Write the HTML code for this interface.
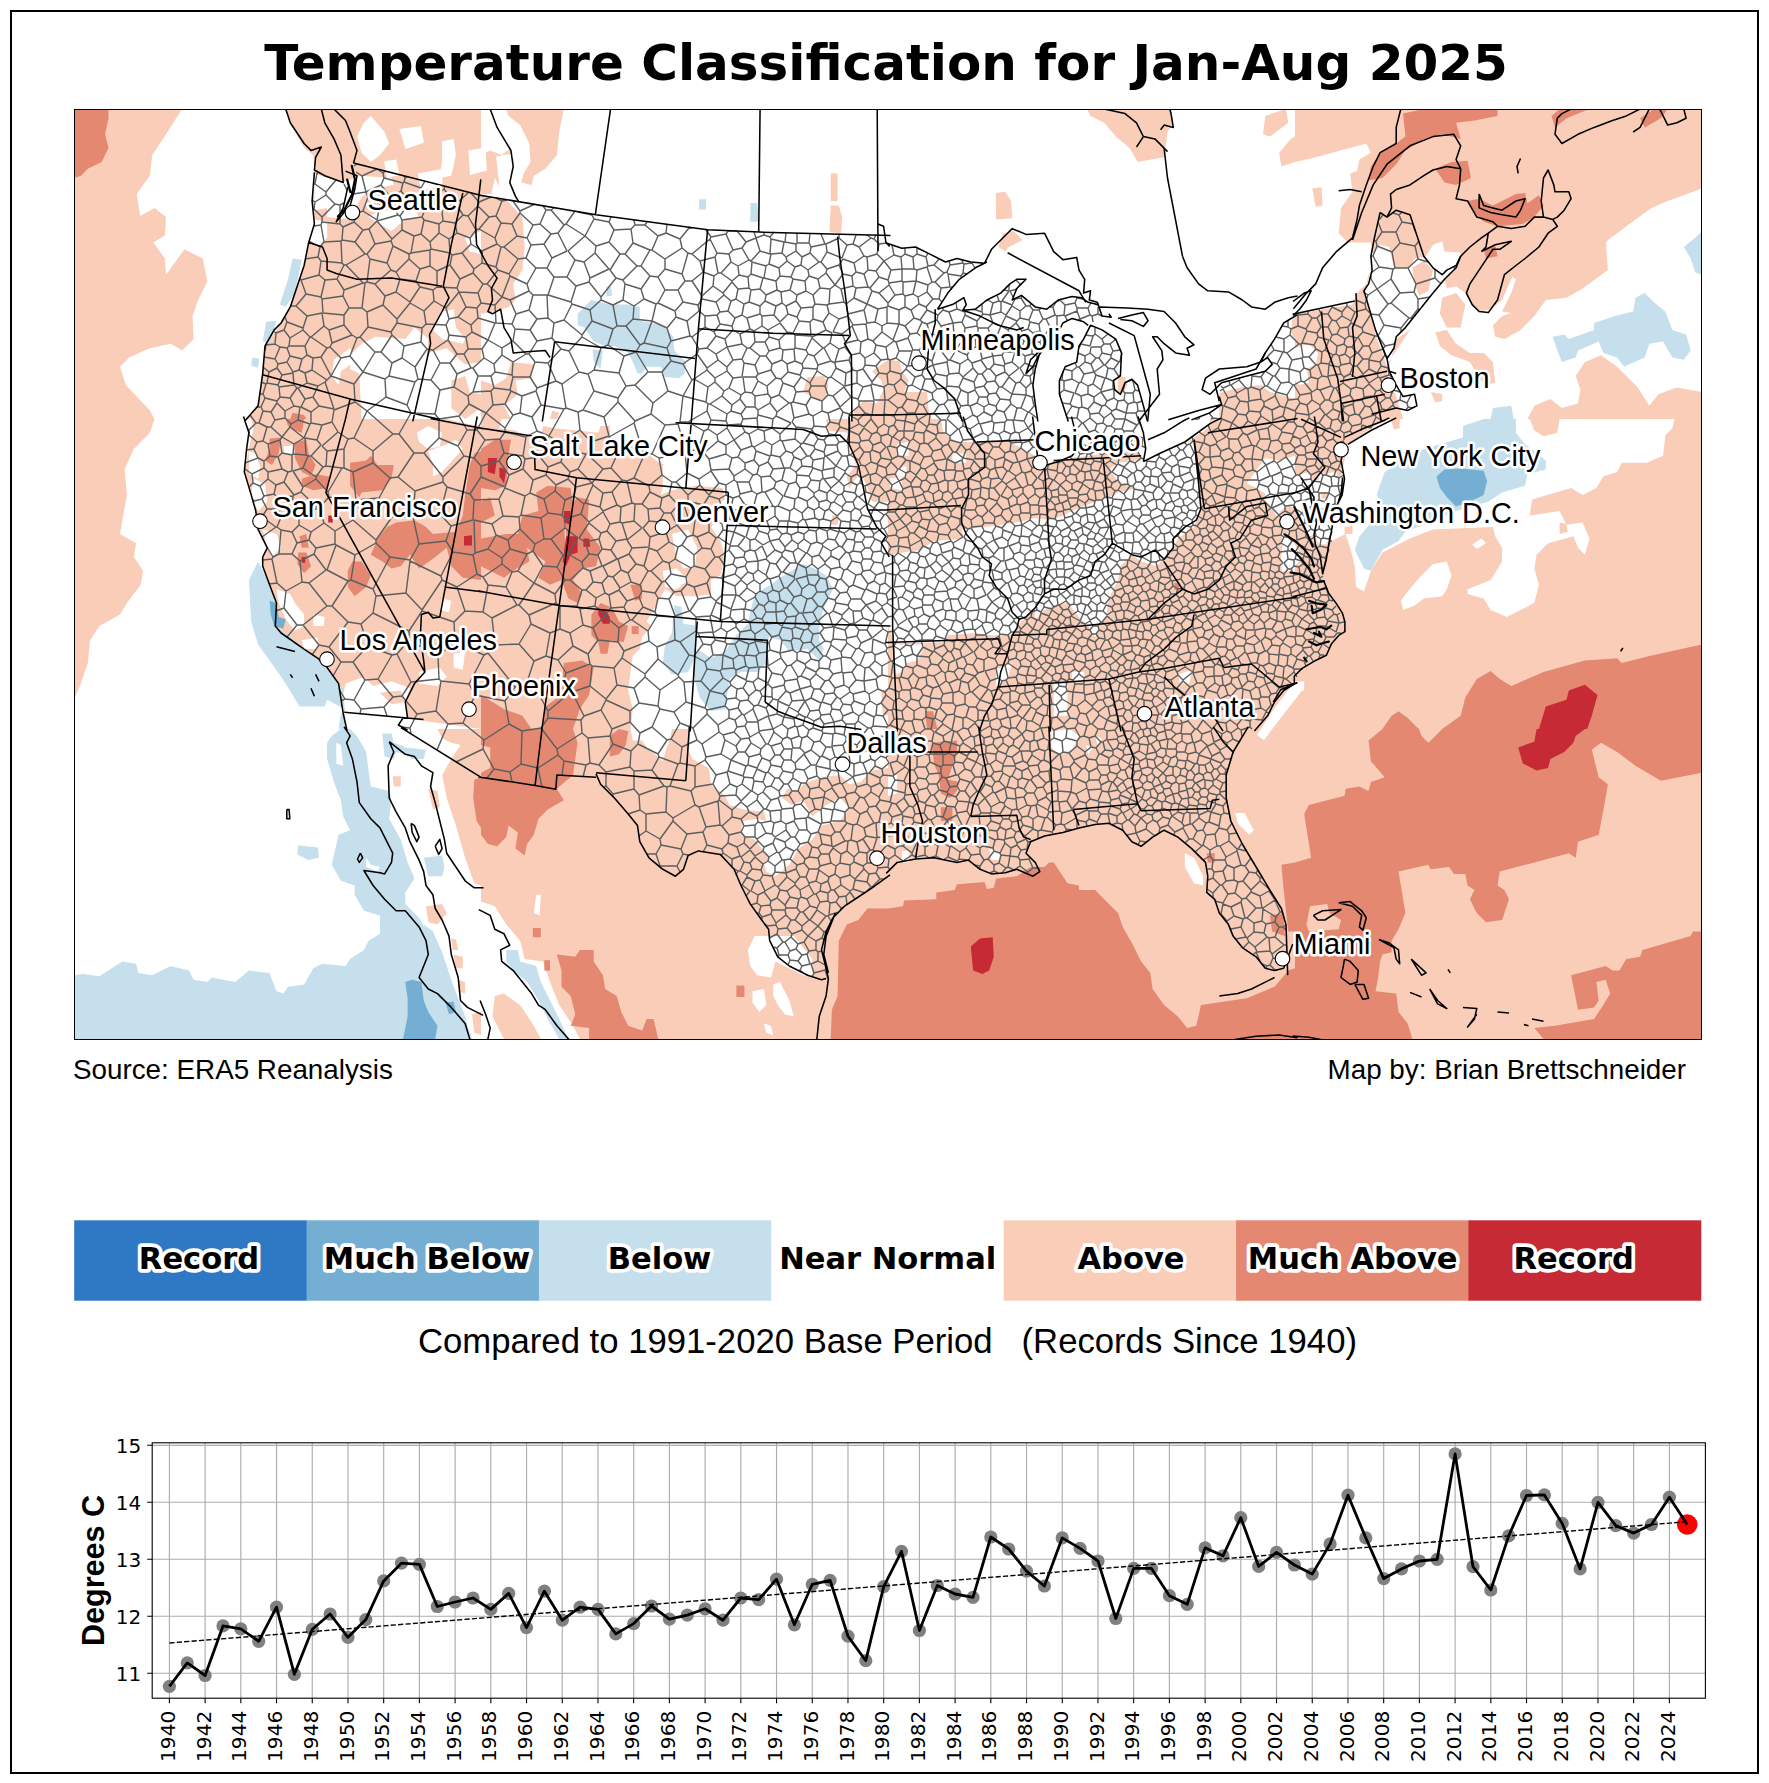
<!DOCTYPE html>
<html lang="en"><head><meta charset="utf-8"><title>Temperature Classification for Jan-Aug 2025</title>
<style>
html,body{margin:0;padding:0;background:#fff;}
svg{display:block}
.t{font-family:"DejaVu Sans","Liberation Sans",sans-serif;font-weight:bold}
.a{font-family:"Liberation Sans",Arial,sans-serif}
.d{font-family:"DejaVu Sans","Liberation Sans",sans-serif}
.city{font-family:"Liberation Sans",Arial,sans-serif;font-size:28.9px;paint-order:stroke;stroke:#fff;stroke-width:5px;stroke-linejoin:round;fill:#000}
.lg{font-family:"DejaVu Sans","Liberation Sans",sans-serif;font-weight:bold;font-size:30.56px;paint-order:stroke;stroke:#fff;stroke-width:7.5px;stroke-linejoin:round;fill:#000;text-anchor:middle}
</style></head><body>
<svg width="1769" height="1783" viewBox="0 0 1769 1783">
<rect x="0" y="0" width="1769" height="1783" fill="#fff"/>

<defs><clipPath id="mapclip"><rect x="74" y="109" width="1627.5" height="930.5"/></clipPath>
<clipPath id="tc0"><rect x="74.0" y="109.0" width="407.0" height="310.0"/></clipPath>
<clipPath id="tc1"><rect x="481.0" y="109.0" width="407.0" height="310.0"/></clipPath>
<clipPath id="tc2"><rect x="888.0" y="109.0" width="407.0" height="310.0"/></clipPath>
<clipPath id="tc3"><rect x="1295.0" y="109.0" width="407.0" height="310.0"/></clipPath>
<clipPath id="tc4"><rect x="74.0" y="419.0" width="407.0" height="310.0"/></clipPath>
<clipPath id="tc5"><rect x="481.0" y="419.0" width="407.0" height="310.0"/></clipPath>
<clipPath id="tc6"><rect x="888.0" y="419.0" width="407.0" height="310.0"/></clipPath>
<clipPath id="tc7"><rect x="1295.0" y="419.0" width="407.0" height="310.0"/></clipPath>
<clipPath id="tc8"><rect x="74.0" y="729.0" width="407.0" height="310.0"/></clipPath>
<clipPath id="tc9"><rect x="481.0" y="729.0" width="407.0" height="310.0"/></clipPath>
<clipPath id="tc10"><rect x="888.0" y="729.0" width="407.0" height="310.0"/></clipPath>
<clipPath id="tc11"><rect x="1295.0" y="729.0" width="407.0" height="310.0"/></clipPath>
<clipPath id="tc12"><rect x="0.0" y="0.0" width="1769.0" height="1783.0"/></clipPath>
<clipPath id="tc13"><rect x="1240.0" y="480.0" width="160.0" height="220.0"/></clipPath>
<clipPath id="tc14"><rect x="74.0" y="109.0" width="543.0" height="465.0"/></clipPath>
</defs>
<g clip-path="url(#mapclip)">
<g clip-path="url(#tc0)">
<rect x="73.0" y="108.0" width="409.0" height="312.0" fill="#f9cdb8"/>
<polygon points="74.0,109.0 108.5,109.0 108.5,118.2 105.1,134.3 108.5,148.1 101.6,161.9 87.8,168.8 80.9,175.7 74.0,178.0" fill="#e48872"/>
<polygon points="182.1,109.0 166.0,134.3 152.2,155.0 149.9,175.7 136.6,194.1 140.3,216.0 154.5,207.9 166.0,217.1 164.9,235.5 153.4,242.4 164.9,258.5 166.0,274.7 184.4,249.3 202.8,258.5 207.4,281.6 198.2,300.0 192.5,316.1 193.6,339.1 182.1,350.6 170.6,343.7 149.9,348.3 129.2,357.5 120.0,366.7 125.8,385.1 149.9,410.4 154.5,418.9 246.6,418.9 258.1,405.8 262.7,375.9 265.0,346.0 281.1,323.0 290.3,306.9 304.1,265.5 308.7,242.4 314.4,224.0 312.1,201.0 314.4,172.3 313.3,155.0 304.1,148.1 290.3,122.8 285.7,109.0" fill="#ffffff"/>
<polygon points="314.4,173.4 343.2,182.6 359.3,175.7 391.5,178.0 393.8,184.9 368.5,189.5 359.3,201.0 350.1,219.4 327.1,217.1 327.1,207.9 314.4,210.2" fill="#ffffff"/>
<polygon points="368.5,217.1 380.0,210.2 414.5,210.2 419.1,217.1 405.3,219.4 391.5,230.9 380.0,224.0" fill="#ffffff"/>
<polygon points="314.4,219.4 327.1,221.7 327.1,237.8 317.9,247.0 308.7,242.4" fill="#ffffff"/>
<polygon points="363.9,122.8 370.8,115.9 384.6,132.0 389.2,143.5 380.0,155.0 370.8,161.9 361.6,152.7 357.0,136.6" fill="#ffffff"/>
<polygon points="442.1,141.2 453.6,138.9 455.9,155.0 451.3,175.7 439.8,178.0 442.1,159.6" fill="#ffffff"/>
<polygon points="375.4,336.8 405.3,339.1 414.5,327.6 428.3,339.1 426.0,362.1 419.1,385.1 414.5,418.9 361.6,418.9 359.3,373.6 350.1,369.0 352.4,352.9 361.6,343.7" fill="#ffffff"/>
<polygon points="350.1,348.3 354.7,362.1 340.9,371.3 338.6,385.1 331.7,375.9 334.0,359.8" fill="#ffffff"/>
<polygon points="442.1,311.5 453.6,309.2 455.9,327.6 465.1,339.1 462.8,343.7 442.1,339.1 432.9,329.9" fill="#ffffff"/>
<polygon points="465.1,237.8 481.0,230.9 481.0,253.9 469.7,251.6" fill="#ffffff"/>
<polygon points="428.3,352.9 446.7,348.3 465.1,364.4 481.0,362.1 481.0,418.9 414.5,418.9 419.1,385.1" fill="#ffffff"/>
<polygon points="451.3,380.5 465.1,375.9 469.7,392.0 481.0,394.3 481.0,408.1 465.1,418.9 451.3,408.1" fill="#f9cdb8"/>
<polygon points="292.6,258.5 301.8,259.7 294.9,293.1 285.7,306.9 279.9,304.6 288.0,279.3" fill="#c6dfec"/>
<polygon points="266.1,321.8 276.5,320.7 269.6,343.7 262.7,341.4" fill="#c6dfec"/>
<polygon points="252.3,357.5 259.2,358.6 258.1,367.8 251.2,365.5" fill="#c6dfec"/>
<polygon points="292.6,412.7 304.1,415.0 306.4,418.9 290.3,418.9" fill="#e48872"/>
</g>
<g clip-path="url(#tc1)">
<rect x="480.0" y="108.0" width="409.0" height="312.0" fill="#ffffff"/>
<polygon points="506.3,109.0 563.8,109.0 559.2,132.0 556.9,155.0 545.4,168.8 533.9,175.7 531.6,184.9 521.3,182.6 523.6,173.4 530.5,161.9 529.3,143.5 520.1,125.1 508.6,115.9" fill="#f9cdb8"/>
<polygon points="481.0,155.0 490.2,150.4 501.7,155.0 510.9,148.1 514.4,161.9 508.6,178.0 513.2,194.1 504.0,195.3 494.8,178.0 491.4,194.1 481.0,194.1" fill="#f9cdb8"/>
<polygon points="481.0,196.4 504.0,197.6 522.4,217.1 524.7,247.0 522.4,270.1 513.2,283.9 515.5,300.0 508.6,306.9 494.8,311.5 481.0,313.8" fill="#f9cdb8"/>
<polygon points="510.9,362.1 533.9,364.4 531.6,378.2 515.5,380.5 517.8,394.3 504.0,405.8 510.9,418.9 481.0,418.9 481.0,380.5 494.8,385.1 506.3,378.2" fill="#f9cdb8"/>
<polygon points="552.3,410.4 559.2,412.7 556.9,418.9 550.0,418.9" fill="#f9cdb8"/>
<polygon points="830.7,173.4 837.6,173.4 837.6,201.0 830.7,201.0" fill="#f9cdb8"/>
<polygon points="830.7,205.6 838.8,205.6 842.2,217.1 841.1,233.2 829.6,232.1" fill="#f9cdb8"/>
<polygon points="807.7,377.0 823.8,375.9 828.4,385.1 826.1,396.6 819.2,401.2 812.3,396.6 803.1,392.0" fill="#f9cdb8"/>
<polygon points="872.1,371.3 888.0,359.8 888.0,418.9 853.7,418.9 853.7,410.4 862.9,401.2 876.7,403.5 883.6,389.7 881.3,380.5" fill="#f9cdb8"/>
<polygon points="577.6,313.8 591.4,300.0 609.8,304.6 628.2,304.6 639.8,306.9 639.8,320.7 662.8,325.3 673.1,336.8 674.3,350.6 685.8,362.1 684.6,373.6 678.9,378.2 665.1,377.0 660.5,366.7 646.7,366.7 642.1,373.6 637.5,373.6 632.8,362.1 628.2,352.9 614.4,346.0 605.2,346.0 593.7,341.4 584.5,327.6 577.6,325.3" fill="#c6dfec"/>
<polygon points="592.6,349.4 602.9,350.6 600.6,369.0 593.7,362.1" fill="#c6dfec"/>
<polygon points="606.4,286.2 611.0,287.3 612.1,295.4 606.4,296.5" fill="#c6dfec"/>
<polygon points="699.1,199.2 706.0,199.2 706.0,209.5 699.1,209.5" fill="#c6dfec"/>
<polygon points="750.6,202.9 757.1,202.9 759.4,221.7 750.2,221.7" fill="#c6dfec"/>
</g>
<g clip-path="url(#tc2)">
<rect x="887.0" y="108.0" width="409.0" height="312.0" fill="#ffffff"/>
<polygon points="1087.0,109.0 1171.0,109.0 1173.3,122.8 1167.5,132.0 1164.1,157.3 1137.6,161.9 1129.6,148.1 1115.8,136.6 1104.3,122.8 1090.5,115.9" fill="#f9cdb8"/>
<polygon points="1265.3,115.9 1279.1,111.3 1286.0,109.0 1288.3,122.8 1269.9,136.6 1263.0,134.3" fill="#f9cdb8"/>
<polygon points="1279.1,152.7 1290.6,138.9 1295.0,136.6 1295.0,161.9 1281.4,166.5" fill="#f9cdb8"/>
<polygon points="995.7,193.0 1005.3,191.8 1011.1,201.0 1012.2,218.3 996.1,219.4" fill="#f9cdb8"/>
<polygon points="1003.0,233.2 1013.4,230.9 1022.6,240.1 1008.8,247.0 1005.3,251.6 998.4,247.0" fill="#f9cdb8"/>
<polygon points="888.0,359.8 899.5,360.9 901.8,371.3 908.7,380.5 904.1,392.0 927.1,392.0 928.3,408.1 931.7,418.9 888.0,418.9" fill="#f9cdb8"/>
<polygon points="1118.1,375.9 1125.0,377.0 1127.3,385.1 1122.7,394.3 1118.1,392.0" fill="#f9cdb8"/>
<polygon points="1219.3,393.1 1240.0,387.4 1260.7,385.1 1269.9,392.0 1295.0,398.9 1295.0,418.9 1219.3,418.9" fill="#f9cdb8"/>
<polygon points="1291.8,320.7 1295.0,316.1 1295.0,339.1 1291.8,334.5" fill="#f9cdb8"/>
</g>
<g clip-path="url(#tc3)">
<rect x="1294.0" y="108.0" width="409.0" height="312.0" fill="#f9cdb8"/>
<polygon points="1295.0,161.9 1315.7,157.3 1366.3,143.5 1370.9,152.7 1359.4,159.6 1357.1,171.1 1350.2,173.4 1352.5,191.8 1341.0,207.9 1338.7,233.2 1347.9,242.4 1370.9,242.4 1373.2,256.2 1366.3,283.9 1357.1,293.1 1352.5,304.6 1295.0,313.8" fill="#ffffff"/>
<polygon points="1312.3,188.4 1321.5,187.2 1322.6,205.6 1315.7,206.8" fill="#f9cdb8"/>
<polygon points="1372.1,256.2 1380.1,244.7 1389.3,247.0 1393.9,267.8 1410.0,267.8 1414.6,258.5 1426.1,256.2 1433.0,244.7 1442.2,241.3 1444.5,251.6 1460.7,252.8 1456.1,267.8 1444.5,279.3 1446.8,288.5 1435.3,302.3 1423.8,316.1 1410.0,329.9 1396.2,339.1 1391.6,357.5 1387.0,366.7 1382.4,352.9 1375.5,334.5 1370.9,311.5 1364.0,293.1 1368.6,279.3" fill="#ffffff"/>
<polygon points="1412.3,267.8 1423.8,260.8 1433.0,270.1 1428.4,290.8 1419.2,295.4 1414.6,283.9" fill="#f9cdb8"/>
<polygon points="1391.6,357.5 1410.0,329.9 1435.3,302.3 1446.8,288.5 1456.1,286.2 1465.3,293.1 1472.2,304.6 1479.1,311.5 1490.6,309.2 1502.1,300.0 1509.0,283.9 1512.4,277.0 1515.9,279.3 1511.3,293.1 1502.1,311.5 1515.9,313.8 1525.1,306.9 1538.9,293.1 1561.9,281.6 1594.1,263.2 1607.9,240.1 1635.5,219.4 1651.6,207.9 1667.7,201.0 1702.0,188.4 1702.0,418.9 1403.1,418.9 1396.2,396.6 1387.0,373.6" fill="#ffffff"/>
<polygon points="1442.2,297.7 1456.1,293.1 1465.3,304.6 1460.7,327.6 1446.8,327.6 1439.9,313.8" fill="#f9cdb8"/>
<polygon points="1435.3,332.2 1446.8,329.9 1456.1,343.7 1469.9,352.9 1483.7,352.9 1492.9,362.1 1495.2,382.8 1483.7,385.1 1469.9,362.1 1451.5,355.2 1439.9,346.0" fill="#f9cdb8"/>
<polygon points="1492.9,325.3 1502.1,316.1 1515.9,311.5 1534.3,293.1 1559.6,279.3 1591.8,260.8 1605.6,237.8 1607.9,270.1 1582.6,288.5 1566.5,297.7 1545.8,300.0 1534.3,316.1 1520.5,329.9 1504.4,339.1 1495.2,336.8" fill="#f9cdb8"/>
<polygon points="1575.7,375.9 1584.9,362.1 1601.0,355.2 1617.1,366.7 1637.8,387.4 1649.3,405.8 1658.5,394.3 1676.9,387.4 1702.0,392.0 1702.0,418.9 1527.4,418.9 1534.3,405.8 1550.4,398.9 1561.9,408.1 1578.0,403.5 1580.3,389.7" fill="#f9cdb8"/>
<polygon points="1430.7,392.0 1442.2,394.3 1442.2,401.2 1435.3,402.3" fill="#f9cdb8"/>
<polygon points="1552.7,336.8 1564.2,334.5 1568.8,339.1 1594.1,329.9 1594.1,323.0 1614.8,316.1 1633.2,311.5 1635.5,297.7 1644.7,293.1 1653.9,302.3 1665.4,311.5 1672.3,329.9 1686.1,334.5 1690.7,350.6 1683.8,359.8 1672.3,357.5 1663.1,341.4 1649.3,343.7 1644.7,357.5 1624.0,366.7 1617.1,357.5 1603.3,352.9 1598.7,341.4 1578.0,350.6 1575.7,357.5 1561.9,362.1 1557.3,350.6" fill="#c6dfec"/>
<polygon points="1683.8,247.0 1695.3,237.8 1702.0,230.9 1702.0,274.7 1695.3,272.4 1690.7,258.5" fill="#c6dfec"/>
<polygon points="1492.9,408.1 1511.3,405.8 1513.6,418.9 1490.6,418.9" fill="#c6dfec"/>
<polygon points="1295.0,348.3 1308.8,343.7 1318.0,352.9 1315.7,364.4 1306.5,369.0 1308.8,382.8 1299.6,385.1 1295.0,380.5" fill="#ffffff"/>
<polygon points="1403.1,113.6 1423.8,109.0 1497.5,109.0 1497.5,115.9 1474.5,120.5 1456.1,122.8 1460.7,138.9 1442.2,134.3 1423.8,138.9 1405.4,150.4 1396.2,164.2 1382.4,178.0 1368.6,180.3 1370.9,166.5 1380.1,152.7 1396.2,143.5 1405.4,136.6" fill="#e48872"/>
<polygon points="1435.3,168.8 1451.5,161.9 1467.6,160.8 1471.0,178.0 1456.1,184.9 1444.5,182.6" fill="#e48872"/>
<polygon points="1467.6,201.0 1479.1,198.7 1492.9,205.6 1502.1,201.0 1515.9,194.1 1525.1,193.0 1527.4,203.3 1538.9,195.3 1543.5,205.6 1534.3,217.1 1522.8,224.0 1497.5,226.3 1483.7,221.7 1474.5,212.5" fill="#e48872"/>
<polygon points="1483.7,249.3 1495.2,244.7 1497.5,256.2 1486.0,258.5" fill="#e48872"/>
<polygon points="1551.5,115.9 1559.6,109.0 1589.5,109.0 1566.5,118.2 1555.0,127.4" fill="#e48872"/>
<polygon points="1640.1,118.2 1653.9,109.0 1667.7,109.0 1660.8,118.2 1644.7,127.4" fill="#e48872"/>
</g>
<g clip-path="url(#tc4)">
<rect x="73.0" y="418.0" width="409.0" height="312.0" fill="#f9cdb8"/>
<polygon points="154.5,419.0 149.9,432.8 133.8,448.9 124.6,469.6 126.9,494.9 120.0,534.0 136.1,543.2 133.8,557.0 143.0,570.8 140.7,584.7 126.9,603.1 120.0,614.6 99.3,626.1 90.1,639.9 87.8,662.9 80.9,683.6 74.0,699.7 74.0,728.9 345.5,728.9 343.2,713.5 338.6,683.6 327.1,667.5 304.1,649.1 281.1,633.0 274.2,626.1 276.5,603.1 269.6,584.7 262.7,566.2 262.7,557.0 267.3,547.8 258.1,529.4 255.8,511.0 251.2,494.9 244.3,471.9 248.9,448.9 244.3,419.0" fill="#ffffff"/>
<polygon points="248.9,580.1 258.1,561.6 269.6,584.7 276.5,603.1 274.2,626.1 288.0,635.3 304.1,649.1 317.9,658.3 327.1,667.5 338.6,683.6 347.8,695.1 344.3,708.9 327.1,699.7 324.8,706.6 299.5,706.6 292.6,695.1 281.1,676.7 269.6,660.6 258.1,644.5 251.2,621.5" fill="#c6dfec"/>
<polygon points="340.9,713.5 354.7,715.8 353.5,728.9 338.6,728.9" fill="#c6dfec"/>
<polygon points="269.6,600.8 276.5,603.1 278.8,616.9 285.7,619.2 283.4,628.4 274.2,626.1 270.7,614.6" fill="#74afd3"/>
<polygon points="262.7,529.4 276.5,534.0 281.1,547.8 271.9,557.0 267.3,547.8" fill="#ffffff"/>
<polygon points="276.5,589.3 290.3,593.9 294.9,603.1 304.1,614.6 304.1,626.1 294.9,630.7 285.7,619.2 278.8,603.1" fill="#ffffff"/>
<polygon points="313.3,614.6 324.8,616.9 323.6,626.1 313.3,626.1" fill="#ffffff"/>
<polygon points="301.8,639.9 317.9,637.6 317.9,649.1 304.1,649.1" fill="#ffffff"/>
<polygon points="253.5,478.8 265.0,483.4 267.3,501.8 258.1,511.0 251.2,494.9" fill="#ffffff"/>
<polygon points="244.3,419.0 251.2,419.0 253.5,428.2 248.9,448.9" fill="#ffffff"/>
<polygon points="248.9,451.2 255.8,453.5 260.4,467.3 258.1,478.8 248.9,474.2" fill="#ffffff"/>
<polygon points="345.5,683.6 363.9,676.7 373.1,685.9 391.5,681.3 409.9,688.2 405.3,702.0 407.6,718.1 396.1,718.1 345.5,713.5 343.2,695.1" fill="#ffffff"/>
<polygon points="380.0,692.8 400.7,690.5 405.3,702.0 391.5,704.3" fill="#f9cdb8"/>
<polygon points="403.0,718.1 481.0,728.9 400.7,728.9" fill="#ffffff"/>
<polygon points="344.3,713.0 407.6,718.6 405.3,728.9 345.5,728.9" fill="#ffffff"/>
<polygon points="419.1,672.1 439.8,667.5 446.7,676.7 437.5,685.9 419.1,683.6" fill="#ffffff"/>
<polygon points="442.1,598.5 451.3,600.8 449.0,612.3 439.8,610.0" fill="#ffffff"/>
<polygon points="453.6,653.7 465.1,651.4 462.8,669.8 453.6,667.5" fill="#ffffff"/>
<polygon points="416.8,432.8 428.3,425.9 442.1,432.8 439.8,446.6 428.3,448.9 419.1,442.0" fill="#ffffff"/>
<polygon points="428.3,451.2 446.7,444.3 455.9,439.7 462.8,448.9 442.1,471.9 432.9,476.5 432.9,465.0" fill="#ffffff"/>
<polygon points="446.7,419.0 481.0,419.0 481.0,425.9 465.1,423.6" fill="#ffffff"/>
<polygon points="283.4,446.6 292.6,445.5 292.6,453.5 284.5,453.5" fill="#ffffff"/>
<polygon points="285.7,419.0 304.1,419.0 301.8,432.8 294.9,430.5 288.0,425.9" fill="#e48872"/>
<polygon points="269.6,438.6 281.1,437.4 278.8,453.5 271.9,465.0 265.0,460.4 269.6,448.9" fill="#e48872"/>
<polygon points="294.9,442.0 306.4,439.7 308.7,453.5 315.6,465.0 311.0,476.5 301.8,471.9 294.9,458.1" fill="#e48872"/>
<polygon points="301.8,478.8 315.6,474.2 329.4,476.5 327.1,488.0 313.3,490.3 301.8,485.7" fill="#e48872"/>
<polygon points="350.1,462.7 366.2,460.4 370.8,455.8 377.7,465.0 393.8,465.0 391.5,478.8 382.3,490.3 361.6,492.6 359.3,497.2 350.1,485.7" fill="#e48872"/>
<polygon points="370.8,554.7 377.7,538.6 386.9,527.1 396.1,522.5 414.5,520.2 426.0,527.1 432.9,534.0 455.9,531.7 462.8,515.6 465.1,494.9 469.7,465.0 474.3,453.5 481.0,451.2 481.0,580.1 462.8,577.8 451.3,566.2 446.7,547.8 435.2,557.0 419.1,568.5 409.9,554.7 400.7,566.2 391.5,568.5 382.3,561.6" fill="#e48872"/>
<polygon points="352.4,561.6 361.6,561.6 370.8,575.5 366.2,587.0 354.7,596.2 347.8,587.0 347.8,570.8" fill="#e48872"/>
<polygon points="299.5,536.3 306.4,534.0 308.7,547.8 301.8,547.8" fill="#e48872"/>
<polygon points="298.3,552.4 306.4,552.4 311.0,566.2 304.1,573.2 297.2,563.9" fill="#e48872"/>
<polygon points="328.2,515.6 332.8,515.6 332.8,522.5 328.2,522.5" fill="#c62a35"/>
<polygon points="301.8,557.0 305.2,557.0 305.2,562.8 301.8,562.8" fill="#c62a35"/>
<polygon points="464.0,536.3 472.0,535.2 472.0,545.5 464.0,545.5" fill="#c62a35"/>
</g>
<g clip-path="url(#tc5)">
<rect x="480.0" y="418.0" width="409.0" height="312.0" fill="#ffffff"/>
<polygon points="481.0,419.0 501.7,419.0 499.4,428.2 515.5,430.5 527.0,437.4 540.8,435.1 543.1,425.9 554.6,428.2 598.3,432.8 600.6,425.9 609.8,425.9 609.8,437.4 642.1,448.9 655.9,460.4 665.1,465.0 665.1,481.1 660.5,494.9 672.0,490.3 695.0,485.7 722.6,488.0 724.9,499.5 715.7,504.1 718.0,517.9 711.1,527.1 720.3,540.9 724.9,557.0 720.3,575.5 711.1,580.1 711.1,593.9 697.3,596.2 676.6,596.2 665.1,589.3 655.9,605.4 646.7,621.5 651.3,626.1 642.1,637.6 639.8,649.1 632.8,656.0 630.5,672.1 628.2,690.5 632.8,708.9 630.5,728.9 481.0,728.9" fill="#f9cdb8"/>
<polygon points="672.0,534.0 688.1,529.4 697.3,547.8 695.0,566.2 683.5,568.5 676.6,557.0" fill="#ffffff"/>
<polygon points="662.8,570.8 676.6,568.5 688.1,580.1 676.6,589.3 665.1,587.0" fill="#ffffff"/>
<polygon points="662.8,465.0 672.0,462.7 672.0,488.0 662.8,490.3" fill="#ffffff"/>
<polygon points="826.1,419.0 888.0,419.0 888.0,501.8 872.1,501.8 867.5,488.0 860.6,471.9 849.1,488.0 846.8,476.5 856.0,465.0 849.1,446.6 846.8,432.8 828.4,430.5" fill="#f9cdb8"/>
<polygon points="831.9,515.6 838.8,515.6 837.6,524.8 831.9,524.8" fill="#f9cdb8"/>
<polygon points="881.3,690.5 888.0,688.2 888.0,715.8 882.5,713.5" fill="#f9cdb8"/>
<polygon points="754.8,593.9 770.9,584.7 780.1,577.8 803.1,563.9 814.6,568.5 826.1,575.5 833.0,589.3 823.8,607.7 819.2,626.1 819.2,639.9 823.8,649.1 819.2,660.6 807.7,649.1 789.3,651.4 780.1,639.9 768.6,637.6 766.3,662.9 757.1,672.1 741.0,672.1 729.5,679.0 727.2,695.1 724.9,708.9 711.1,711.2 699.6,697.4 692.7,672.1 697.3,649.1 711.1,658.3 724.9,651.4 736.4,635.3 747.9,623.8 750.2,612.3" fill="#c6dfec"/>
<polygon points="674.3,605.4 681.2,606.5 683.5,623.8 697.3,626.1 696.1,637.6 695.0,658.3 688.1,672.1 672.0,674.4 662.8,662.9 665.1,644.5 672.0,633.0" fill="#c6dfec"/>
<polygon points="481.0,448.9 494.8,439.7 510.9,439.7 508.6,455.8 506.3,485.7 494.8,490.3 481.0,488.0" fill="#e48872"/>
<polygon points="481.0,501.8 490.2,497.2 494.8,515.6 481.0,522.5" fill="#e48872"/>
<polygon points="536.2,492.6 547.7,485.7 570.7,488.0 573.0,506.4 563.8,515.6 566.1,561.6 561.5,580.1 550.0,584.7 538.5,577.8 545.4,561.6 527.0,547.8 506.3,552.4 517.8,534.0 522.4,515.6 538.5,511.0" fill="#e48872"/>
<polygon points="481.0,538.6 506.3,534.0 517.8,534.0 527.0,547.8 529.3,561.6 513.2,570.8 504.0,577.8 481.0,566.2" fill="#e48872"/>
<polygon points="566.1,511.0 577.6,497.2 589.1,499.5 586.8,529.4 600.6,547.8 596.0,566.2 582.2,568.5 573.0,580.1 582.2,593.9 577.6,603.1 568.4,598.5 561.5,580.1 566.1,561.6" fill="#e48872"/>
<polygon points="630.5,584.7 642.1,584.7 642.1,598.5 635.2,600.8" fill="#e48872"/>
<polygon points="591.4,614.6 600.6,603.1 612.1,607.7 619.0,621.5 628.2,626.1 623.6,642.2 609.8,639.9 607.5,653.7 600.6,653.7 598.3,642.2 591.4,635.3" fill="#e48872"/>
<polygon points="631.7,626.1 638.6,626.1 638.6,634.1 631.7,634.1" fill="#e48872"/>
<polygon points="563.8,662.9 582.2,660.6 593.7,667.5 589.1,695.1 579.9,708.9 573.0,728.9 543.1,728.9 545.4,706.6 561.5,695.1" fill="#e48872"/>
<polygon points="481.0,695.1 492.5,702.0 504.0,708.9 522.4,715.8 531.6,728.9 481.0,728.9" fill="#e48872"/>
<polygon points="487.9,458.1 497.1,458.1 494.8,474.2 487.9,471.9" fill="#c62a35"/>
<polygon points="499.4,467.3 506.3,469.6 504.0,483.4 499.4,476.5" fill="#c62a35"/>
<polygon points="563.8,511.0 570.7,511.0 570.7,524.8 563.8,522.5" fill="#c62a35"/>
<polygon points="566.1,536.3 577.6,536.3 577.6,552.4 570.7,554.7 566.1,566.2 562.7,561.6" fill="#c62a35"/>
<polygon points="583.4,538.6 589.1,538.6 590.3,546.7 583.4,546.7" fill="#c62a35"/>
<polygon points="598.3,608.8 605.2,610.0 609.8,616.9 609.8,623.8 602.9,623.8 598.3,614.6" fill="#c62a35"/>
</g>
<g clip-path="url(#tc6)">
<rect x="887.0" y="418.0" width="409.0" height="312.0" fill="#f9cdb8"/>
<polygon points="888.0,554.7 920.2,550.1 934.0,540.9 963.9,538.6 980.0,547.8 989.2,561.6 993.8,580.1 1007.6,598.5 1016.8,616.9 1016.8,626.1 1012.2,635.3 989.2,635.3 975.4,633.0 947.8,635.3 945.5,642.2 894.9,643.3 888.0,626.1" fill="#ffffff"/>
<polygon points="961.6,529.4 984.6,527.1 1016.8,522.5 1035.2,517.9 1049.1,520.2 1051.4,557.0 1046.8,580.1 1044.5,593.9 1035.2,607.7 1023.7,619.2 1016.8,626.1 1016.8,616.9 1007.6,598.5 993.8,580.1 989.2,561.6 980.0,547.8 963.9,538.6" fill="#ffffff"/>
<polygon points="1049.1,520.2 1062.9,515.6 1076.7,508.7 1095.1,501.8 1108.9,497.2 1111.2,540.9 1120.4,547.8 1131.9,554.7 1120.4,566.2 1118.1,580.1 1108.9,598.5 1106.6,614.6 1099.7,626.1 1095.1,637.6 1088.2,626.1 1079.0,616.9 1067.5,603.1 1053.7,605.4 1044.5,610.0 1035.2,619.2 1035.2,607.7 1044.5,593.9 1046.8,580.1 1051.4,557.0" fill="#ffffff"/>
<polygon points="1108.9,497.2 1118.1,492.6 1136.5,488.0 1118.1,481.1 1108.9,469.6 1118.1,462.7 1136.5,460.4 1152.6,462.7 1168.7,448.9 1184.8,444.3 1194.0,439.7 1198.6,476.5 1200.9,508.7 1194.0,527.1 1177.9,538.6 1171.0,552.4 1164.1,557.0 1157.2,566.2 1141.1,561.6 1131.9,554.7 1120.4,547.8 1111.2,540.9" fill="#ffffff"/>
<polygon points="963.9,419.0 1210.1,419.0 1207.8,428.2 1194.0,437.4 1184.8,444.3 1168.7,448.9 1152.6,462.7 1141.1,460.4 1138.8,451.2 1104.3,453.5 1053.7,460.4 1049.1,465.0 1039.8,467.3 1035.2,455.8 1009.9,442.0 975.4,442.0 966.2,430.5" fill="#ffffff"/>
<polygon points="940.9,419.0 963.9,419.0 966.2,430.5 975.4,442.0 957.0,442.0 943.2,432.8" fill="#ffffff"/>
<polygon points="897.2,444.3 908.7,442.0 908.7,455.8 897.2,455.8" fill="#ffffff"/>
<polygon points="952.4,453.5 966.2,453.5 966.2,462.7 952.4,462.7" fill="#ffffff"/>
<polygon points="890.3,478.8 901.8,476.5 901.8,490.3 890.3,488.0" fill="#ffffff"/>
<polygon points="897.2,467.3 906.4,466.2 906.4,476.5 897.2,476.5" fill="#ffffff"/>
<polygon points="1246.9,483.4 1265.3,458.1 1279.1,460.4 1295.0,455.8 1295.0,492.6 1267.6,494.9 1256.1,488.0" fill="#ffffff"/>
<polygon points="1288.3,547.8 1295.0,543.2 1295.0,575.5 1290.6,570.8" fill="#ffffff"/>
<polygon points="1072.1,672.1 1083.6,672.1 1085.9,681.3 1072.1,681.3" fill="#ffffff"/>
<polygon points="1053.7,683.6 1067.5,683.6 1067.5,715.8 1053.7,715.8" fill="#ffffff"/>
<polygon points="1177.9,674.4 1191.7,669.8 1189.4,683.6 1180.2,683.6" fill="#ffffff"/>
<polygon points="996.1,669.8 1012.2,662.9 1007.6,679.0 996.1,685.9" fill="#ffffff"/>
<polygon points="894.9,644.5 924.8,644.5 917.9,660.6 906.4,662.9 901.8,672.1 894.9,674.4" fill="#ffffff"/>
<polygon points="924.8,711.2 932.9,711.2 937.5,728.9 927.1,728.9" fill="#e48872"/>
<polygon points="1174.4,582.4 1180.2,583.5 1177.9,591.6 1174.4,589.3" fill="#e48872"/>
</g>
<g clip-path="url(#tc7)">
<rect x="1294.0" y="418.0" width="409.0" height="312.0" fill="#f9cdb8"/>
<polygon points="1387.0,419.0 1674.6,419.0 1672.3,428.2 1665.4,435.1 1663.1,455.8 1647.0,462.7 1621.7,462.7 1617.1,471.9 1603.3,476.5 1596.4,488.0 1582.6,494.9 1571.1,488.0 1532.0,499.5 1529.7,515.6 1492.9,527.1 1433.0,529.4 1410.0,538.6 1382.4,552.4 1370.9,570.8 1364.0,591.6 1356.0,587.0 1354.8,566.2 1350.2,547.8 1345.6,534.0 1331.8,540.9 1327.2,527.1 1329.5,515.6 1318.0,511.0 1308.8,494.9 1313.4,485.7 1341.0,476.5 1344.5,460.4 1347.9,444.3 1370.9,428.2" fill="#ffffff"/>
<polygon points="1492.9,527.1 1529.7,515.6 1559.6,511.0 1566.5,524.8 1582.6,522.5 1589.5,538.6 1584.9,554.7 1578.0,547.8 1573.4,536.3 1548.1,543.2 1536.6,554.7 1534.3,568.5 1538.9,584.7 1534.3,603.1 1506.7,616.9 1490.6,610.0 1483.7,598.5 1467.6,593.9 1467.6,589.3 1490.6,580.1 1502.1,561.6 1502.1,547.8 1495.2,536.3" fill="#ffffff"/>
<polygon points="1559.6,522.5 1566.5,523.7 1567.6,531.7 1559.6,534.0" fill="#f9cdb8"/>
<polygon points="1400.8,600.8 1407.7,591.6 1419.2,577.8 1433.0,563.9 1446.8,561.6 1451.5,575.5 1446.8,589.3 1442.2,596.2 1423.8,598.5 1414.6,605.4 1403.1,610.0" fill="#ffffff"/>
<polygon points="1472.2,544.4 1481.4,538.6 1486.0,543.2 1476.8,549.0" fill="#ffffff"/>
<polygon points="1529.7,419.0 1559.6,419.0 1557.3,432.8 1543.5,436.3 1534.3,430.5" fill="#f9cdb8"/>
<polygon points="1390.5,419.0 1399.7,419.0 1399.7,428.2 1393.9,429.4" fill="#f9cdb8"/>
<polygon points="1344.5,527.1 1352.5,526.0 1352.5,534.0 1344.5,534.0" fill="#f9cdb8"/>
<polygon points="1379.0,488.0 1384.7,471.9 1396.2,465.0 1423.8,448.9 1463.0,437.4 1463.0,425.9 1483.7,419.0 1515.9,419.0 1515.9,432.8 1525.1,444.3 1545.8,460.4 1545.8,469.6 1527.4,474.2 1525.1,485.7 1502.1,492.6 1488.3,501.8 1456.1,511.0 1423.8,524.8 1405.4,531.7 1398.5,540.9 1382.4,550.1 1370.9,570.8 1364.0,568.5 1354.8,550.1 1359.4,536.3 1373.2,520.2 1382.4,506.4 1376.7,494.9" fill="#c6dfec"/>
<polygon points="1436.5,476.5 1444.5,469.6 1460.7,468.5 1483.7,470.8 1487.1,481.1 1483.7,494.9 1469.9,501.8 1456.1,506.4 1446.8,497.2 1439.9,488.0" fill="#74afd3"/>
<polygon points="1382.4,728.9 1391.6,715.8 1398.5,711.2 1407.7,718.1 1416.9,727.3 1419.2,728.9" fill="#e48872"/>
<polygon points="1442.2,728.9 1460.7,715.8 1465.3,697.4 1476.8,679.0 1490.6,670.9 1499.8,679.0 1511.3,685.9 1543.5,672.1 1584.9,660.6 1617.1,658.3 1621.7,662.9 1649.3,656.0 1702.0,644.5 1702.0,728.9" fill="#e48872"/>
<polygon points="1538.9,728.9 1545.8,706.6 1566.5,699.7 1568.8,690.5 1584.9,684.7 1597.5,695.1 1591.8,715.8 1587.2,728.9" fill="#c62a35"/>
<polygon points="1295.0,476.5 1308.8,471.9 1315.7,485.7 1306.5,494.9 1295.0,492.6" fill="#ffffff"/>
<polygon points="1318.0,474.2 1336.4,471.9 1341.0,494.9 1322.6,504.1" fill="#ffffff"/>
<polygon points="1295.0,681.3 1304.2,681.3 1304.2,690.5 1295.0,690.5" fill="#ffffff"/>
</g>
<g clip-path="url(#tc8)">
<rect x="73.0" y="728.0" width="409.0" height="312.0" fill="#ffffff"/>
<polygon points="74.0,975.2 83.2,974.0 99.3,976.3 122.3,961.4 136.1,963.7 138.4,972.9 152.2,975.2 170.6,966.0 189.0,970.6 193.6,979.8 207.4,982.1 212.0,977.5 235.1,982.1 248.9,970.6 269.6,972.9 276.5,991.3 283.4,993.6 288.0,986.7 304.1,984.4 313.3,968.3 322.5,963.7 345.5,966.0 350.1,959.1 363.9,949.9 368.5,940.7 380.0,933.8 380.0,915.4 363.9,910.8 354.7,894.7 354.7,885.5 340.9,880.8 331.7,864.7 338.6,834.8 350.1,830.2 343.2,816.4 340.9,800.3 334.0,781.9 327.1,758.9 327.1,742.8 331.7,735.9 340.9,729.0 350.1,729.0 357.0,735.9 366.2,752.0 368.5,770.4 370.8,786.5 389.2,791.1 391.5,798.0 389.2,818.7 400.7,839.4 407.6,862.4 414.5,878.5 405.3,892.4 405.3,903.9 419.1,917.7 432.9,940.7 446.7,970.6 455.9,993.6 465.1,1016.6 469.7,1038.9 74.0,1038.9" fill="#c6dfec"/>
<polygon points="366.2,857.8 370.8,864.7 380.0,867.0 377.7,871.6 366.2,867.0" fill="#ffffff"/>
<polygon points="336.3,742.8 340.9,745.1 343.2,765.8 336.3,763.5" fill="#ffffff"/>
<polygon points="298.3,845.2 317.9,847.5 319.0,857.8 308.7,860.1 297.2,854.4" fill="#c6dfec"/>
<polygon points="382.3,733.6 391.5,733.6 393.8,742.8 400.7,745.1 405.3,747.4 426.0,749.7 423.7,758.9 412.2,758.9 405.3,754.3 396.1,752.0 393.8,758.9 384.6,756.6" fill="#c6dfec"/>
<polygon points="423.7,857.8 442.1,855.5 444.4,867.0 442.1,876.2 428.3,876.2" fill="#c6dfec"/>
<polygon points="423.7,924.6 432.9,931.5 442.1,952.2 451.3,979.8 460.5,1005.1 472.0,1038.9 465.1,1038.9 455.9,1005.1 442.1,970.6 428.3,943.0" fill="#c6dfec"/>
<polygon points="405.3,982.1 412.2,979.8 421.4,982.1 423.7,1000.5 428.3,1012.0 437.5,1025.8 435.2,1038.9 403.0,1038.9 407.6,1016.6 407.6,998.2" fill="#74afd3"/>
<polygon points="445.6,1002.8 453.6,1001.6 455.9,1012.0 449.0,1014.3" fill="#74afd3"/>
<polygon points="437.5,729.0 481.0,729.0 481.0,885.5 474.3,883.2 465.1,857.8 455.9,825.6 446.7,798.0 442.1,775.0 451.3,758.9 460.5,745.1 451.3,742.8 442.1,738.2" fill="#f9cdb8"/>
<polygon points="392.7,776.2 400.7,776.2 400.7,786.5 393.8,786.5" fill="#f9cdb8"/>
<polygon points="428.3,788.8 437.5,791.1 439.8,807.2 432.9,809.5" fill="#f9cdb8"/>
<polygon points="426.0,906.2 442.1,903.9 446.7,913.1 437.5,924.6 428.3,922.3" fill="#f9cdb8"/>
<polygon points="451.3,938.4 455.9,939.5 458.2,949.9 452.5,949.9" fill="#f9cdb8"/>
<polygon points="453.6,954.5 462.8,956.8 462.8,968.3 455.9,968.3" fill="#f9cdb8"/>
<polygon points="458.2,979.8 465.1,982.1 465.1,993.6 458.2,991.3" fill="#f9cdb8"/>
<polygon points="472.0,1014.3 481.0,1012.0 481.0,1035.0 474.3,1032.7" fill="#f9cdb8"/>
<polygon points="474.3,779.6 481.0,777.3 481.0,827.9 476.6,821.0 473.2,798.0" fill="#e48872"/>
</g>
<g clip-path="url(#tc9)">
<rect x="480.0" y="728.0" width="409.0" height="312.0" fill="#f9cdb8"/>
<polygon points="689.2,729.0 888.0,729.0 888.0,768.1 872.1,770.4 860.6,781.9 849.1,784.2 839.9,775.0 821.5,777.3 803.1,784.2 798.5,791.1 787.0,788.8 782.4,798.0 791.6,804.9 803.1,800.3 812.3,816.4 826.1,804.9 839.9,798.0 849.1,807.2 839.9,821.0 821.5,825.6 812.3,839.4 798.5,848.6 789.3,864.7 775.5,876.2 766.3,871.6 764.0,862.4 770.9,857.8 761.7,848.6 754.8,839.4 745.6,837.1 741.0,830.2 743.3,821.0 757.1,818.7 766.3,821.0 764.0,811.8 743.3,809.5 729.5,804.9 724.9,795.7 711.1,784.2 708.8,768.1 692.7,758.9 689.2,752.0" fill="#ffffff"/>
<polygon points="630.5,729.0 672.0,729.0 669.7,740.5 665.1,752.0 662.8,761.2 646.7,747.4 642.1,740.5 632.8,740.5" fill="#ffffff"/>
<polygon points="747.9,949.9 754.8,936.1 766.3,936.1 780.1,936.1 793.9,936.1 803.1,947.6 812.3,959.1 812.3,976.3 803.1,975.2 789.3,968.3 775.5,961.4 770.9,977.5 757.1,975.2 750.2,966.0" fill="#ffffff"/>
<polygon points="752.5,991.3 764.0,989.0 766.3,1005.1 759.4,1012.0 752.5,1002.8" fill="#ffffff"/>
<polygon points="773.2,984.4 780.1,982.1 789.3,1000.5 793.9,1016.6 784.7,1014.3 777.8,1005.1 773.2,995.9" fill="#ffffff"/>
<polygon points="764.0,1023.5 770.9,1025.8 773.2,1035.0 766.3,1032.7" fill="#ffffff"/>
<polygon points="481.0,901.6 494.8,906.2 506.3,924.6 520.1,940.7 524.7,959.1 543.1,961.4 550.0,982.1 559.2,1005.1 573.0,1025.8 579.9,1038.9 481.0,1038.9" fill="#ffffff"/>
<polygon points="494.8,995.9 504.0,993.6 520.1,1005.1 533.9,1025.8 540.8,1038.9 504.0,1038.9 492.5,1016.6" fill="#f9cdb8"/>
<polygon points="506.3,949.9 517.8,949.9 520.1,961.4 536.2,966.0 540.8,982.1 550.0,1000.5 559.2,1018.9 568.4,1038.9 559.2,1038.9 547.7,1018.9 538.5,1000.5 527.0,982.1 513.2,970.6 506.3,961.4" fill="#c6dfec"/>
<polygon points="536.2,894.7 540.8,894.7 539.7,915.4 533.9,913.1" fill="#ffffff"/>
<polygon points="481.0,729.0 573.0,729.0 577.6,742.8 575.3,758.9 573.0,775.0 556.9,788.8 563.8,800.3 547.7,809.5 538.5,818.7 533.9,834.8 527.0,844.0 524.7,855.5 515.5,848.6 517.8,832.5 508.6,825.6 506.3,837.1 497.1,846.3 487.9,844.0 481.0,834.8" fill="#e48872"/>
<polygon points="481.0,745.1 490.2,747.4 490.2,768.1 481.0,772.7" fill="#f9cdb8"/>
<polygon points="609.8,735.9 619.0,729.0 628.2,731.3 625.9,745.1 619.0,754.3 609.8,756.6" fill="#e48872"/>
<polygon points="556.9,954.5 575.3,956.8 579.9,949.9 593.7,949.9 593.7,961.4 602.9,975.2 605.2,989.0 616.7,995.9 621.3,1012.0 628.2,1025.8 642.1,1030.4 646.7,1018.9 653.6,1018.9 658.2,1038.9 589.1,1038.9 589.1,1028.1 570.7,1025.8 575.3,1014.3 570.7,995.9 561.5,986.7 561.5,970.6" fill="#e48872"/>
<polygon points="544.3,960.2 550.0,960.2 550.0,970.6 544.3,970.6" fill="#e48872"/>
<polygon points="532.8,928.0 540.8,928.0 540.8,937.2 532.8,937.2" fill="#e48872"/>
<polygon points="736.4,985.5 744.4,985.5 744.4,997.0 736.4,997.0" fill="#e48872"/>
<polygon points="867.5,908.5 888.0,908.5 888.0,1038.9 830.7,1038.9 831.9,1009.7 837.6,995.9 838.8,940.7 846.8,924.6 858.3,920.0" fill="#e48872"/>
</g>
<g clip-path="url(#tc10)">
<rect x="887.0" y="728.0" width="409.0" height="312.0" fill="#f9cdb8"/>
<polygon points="888.0,908.5 903.0,906.2 904.1,900.4 936.3,899.3 936.3,892.4 954.7,890.1 957.0,884.3 984.6,882.0 986.9,888.9 993.8,887.8 996.1,878.5 1016.8,876.2 1030.6,867.0 1044.5,867.0 1049.1,862.4 1053.7,862.4 1062.9,876.2 1067.5,883.2 1079.0,885.5 1079.0,890.1 1095.1,890.1 1108.9,903.9 1118.1,913.1 1122.7,926.9 1131.9,943.0 1141.1,961.4 1150.3,972.9 1152.6,989.0 1164.1,1005.1 1177.9,1016.6 1187.1,1028.1 1196.3,1025.8 1200.9,1005.1 1246.9,998.2 1274.5,986.7 1288.3,970.6 1295.0,968.3 1295.0,1038.9 888.0,1038.9" fill="#e48872"/>
<polygon points="1281.4,864.7 1295.0,862.4 1295.0,931.5 1288.3,931.5 1283.7,890.1" fill="#e48872"/>
<polygon points="1269.9,915.4 1283.7,913.1 1284.9,936.1 1272.2,931.5" fill="#e48872"/>
<polygon points="931.7,742.8 957.0,740.5 957.0,754.3 952.4,765.8 947.8,779.6 959.3,781.9 957.0,791.1 950.1,798.0 940.9,793.4 938.6,775.0 934.0,763.5" fill="#e48872"/>
<polygon points="940.9,807.2 952.4,807.2 952.4,821.0 940.9,821.0" fill="#e48872"/>
<polygon points="1206.7,853.2 1214.7,853.2 1214.7,862.4 1207.8,862.4" fill="#e48872"/>
<polygon points="970.8,946.4 980.0,938.4 992.7,937.2 993.8,956.8 989.2,970.6 982.3,974.0 973.1,970.6" fill="#c62a35"/>
<polygon points="888.0,775.0 897.2,775.0 897.2,793.4 888.0,795.7" fill="#ffffff"/>
<polygon points="1051.4,731.3 1069.8,729.0 1079.0,735.9 1072.1,749.7 1058.3,754.3 1051.4,747.4" fill="#ffffff"/>
<polygon points="1095.1,735.9 1102.0,738.2 1097.4,745.1" fill="#ffffff"/>
<polygon points="1085.9,745.1 1092.8,747.4 1088.2,754.3" fill="#ffffff"/>
<polygon points="1184.8,853.2 1194.0,857.8 1203.2,876.2 1203.2,885.5 1194.0,883.2 1184.8,867.0" fill="#ffffff"/>
<polygon points="1235.4,813.0 1244.6,813.0 1253.8,830.2 1249.2,834.8 1237.7,823.3" fill="#ffffff"/>
<polygon points="989.2,848.6 998.4,850.9 1000.7,860.1 991.5,860.1" fill="#ffffff"/>
<polygon points="901.8,850.9 908.7,850.9 908.7,862.4 901.8,862.4" fill="#ffffff"/>
<polygon points="1258.4,733.6 1265.3,729.0 1267.6,735.9 1260.7,738.2" fill="#ffffff"/>
</g>
<g clip-path="url(#tc11)">
<rect x="1294.0" y="728.0" width="409.0" height="312.0" fill="#e48872"/>
<polygon points="1295.0,729.0 1382.4,729.0 1368.6,740.5 1370.9,761.2 1384.7,777.3 1370.9,781.9 1368.6,791.1 1359.4,786.5 1345.6,788.8 1344.5,795.7 1308.8,804.9 1304.2,814.1 1311.1,857.8 1295.0,862.4" fill="#f9cdb8"/>
<polygon points="1419.2,729.0 1442.2,729.0 1433.0,738.2 1428.4,742.8 1421.5,735.9" fill="#f9cdb8"/>
<polygon points="1591.8,749.7 1601.0,742.8 1617.1,752.0 1635.5,765.8 1660.8,780.8 1702.0,772.7 1702.0,931.5 1693.0,931.5 1690.7,936.1 1642.4,949.9 1640.1,956.8 1626.3,959.1 1619.4,970.6 1612.5,970.6 1605.6,966.0 1571.1,975.2 1578.0,1009.7 1594.1,1007.4 1598.7,1000.5 1596.4,982.1 1605.6,979.8 1610.2,993.6 1603.3,1005.1 1594.1,1018.9 1555.0,1025.8 1534.3,1028.1 1543.5,1038.9 1412.3,1038.9 1407.7,1023.5 1398.5,1012.0 1396.2,993.6 1375.5,991.3 1377.8,979.8 1380.1,961.4 1382.4,954.5 1391.6,952.2 1391.6,940.7 1398.5,929.2 1405.4,913.1 1398.5,871.6 1428.4,864.7 1430.7,869.3 1449.2,867.0 1453.8,873.9 1465.3,873.9 1467.6,885.5 1474.5,890.1 1469.9,899.3 1476.8,913.1 1486.0,922.3 1502.1,920.0 1509.0,899.3 1504.4,890.1 1497.5,885.5 1499.8,871.6 1568.8,853.2 1575.7,857.8 1578.0,841.7 1598.7,834.8 1605.6,798.0 1607.9,784.2 1598.7,777.3" fill="#f9cdb8"/>
<polygon points="1310.0,906.2 1327.2,903.9 1329.5,913.1 1341.0,920.0 1338.7,929.2 1308.8,931.5 1306.5,924.6" fill="#f9cdb8"/>
<polygon points="1518.2,747.4 1534.3,741.7 1536.6,729.0 1584.9,729.0 1575.7,735.9 1573.4,742.8 1564.2,752.0 1550.4,758.9 1548.1,768.1 1536.6,770.4 1522.8,763.5" fill="#c62a35"/>
</g>
<g clip-path="url(#tc12)">
<polygon points="1295.0,681.0 1304.0,688.0 1283.0,715.0 1264.0,740.0 1257.0,735.0 1274.0,709.0" fill="#ffffff"/>
</g>
<g clip-path="url(#tc13)">
<polygon points="1268.4,480.0 1342.4,480.0 1343.6,487.4 1338.7,504.7 1333.8,520.7 1331.3,531.8 1326.4,544.2 1319.0,544.2 1314.0,534.3 1309.1,536.7 1304.2,529.3 1299.2,520.7 1294.3,509.6 1289.3,504.7 1280.7,510.8 1277.0,517.0 1272.1,508.4 1264.7,499.7 1265.9,487.4" fill="#ffffff"/>
<polygon points="1281.9,533.0 1289.3,538.0 1298.0,549.1 1301.7,559.0 1294.3,566.4 1289.3,571.3 1281.9,571.3 1280.7,559.0 1282.6,546.6" fill="#ffffff"/>
<polygon points="1321.4,492.3 1327.6,492.3 1327.6,498.5 1321.4,498.5" fill="#f9cdb8"/>
</g>
<g clip-path="url(#tc14)">
<polygon points="399.4,129.0 420.9,125.9 423.9,142.8 405.5,148.9" fill="#ffffff"/>
<polygon points="468.4,150.4 485.3,147.4 486.9,170.4 470.0,175.0" fill="#ffffff"/>
<polygon points="417.8,173.5 442.3,168.9 442.3,185.7 420.9,190.3" fill="#ffffff"/>
<polygon points="496.1,156.6 512.9,153.5 516.0,194.9 500.7,198.0" fill="#ffffff"/>
<polygon points="384.0,161.2 396.3,159.6 399.4,175.0 387.1,178.1" fill="#ffffff"/>
</g>
<path d="M297 625l-10 12M297 625l-13 -17M284 608l-8 3M494 769l-7 9M494 769l-11 -20M483 749l-27 13M1454 267l1 2M1440 283l1 0M1435 278l0 -9M1435 278l5 5M317 173l-2 11M317 173l1 0M315 184l11 8M326 192l10 -12M313 184l2 0M260 394l3 0M261 382l5 2M263 394l3 -10M284 608l2 -17M286 591l-9 -8M277 583l-8 1M355 402l-1 -18M355 402l12 9M354 384l9 -12M386 397l-19 14M386 397l-1 -18M363 372l22 7M326 570l-12 -16M326 570l-17 13M309 583l-7 -1M302 582l-2 -21M300 561l14 -7M297 625l6 0M303 625l24 -19M327 606l-18 -23M286 591l16 -9M311 532l-12 -7M311 532l13 -9M324 523l-5 -15M299 516l0 9M299 516l19 -8M246 450l8 -1M245 463l13 -5M254 449l4 9M299 516l-7 -4M318 508l-17 -16M293 496l-1 16M293 496l1 -1M294 495l7 -3M303 625l16 20M319 645l-7 10M510 772l2 10M510 772l-16 -3M522 731l-13 -7M522 731l-1 33M510 772l11 -8M483 749l1 -9M484 740l25 -16M407 405l4 8M407 405l8 -23M411 413l24 1M435 414l5 -24M440 390l-9 -10M431 380l-13 -1M415 382l3 -3M386 397l21 8M385 379l4 -3M389 376l26 6M402 358l13 9M402 358l-10 5M415 367l3 12M392 363l-3 13M393 434l-26 -23M393 434l-20 17M373 451l-19 -13M367 411l-13 27M399 434l12 -21M399 434l-6 0M355 501l-2 19M355 501l-26 -4M329 497l-10 11M324 523l11 8M353 520l-18 11M316 548l19 -4M316 548l-7 -8M309 540l2 -8M335 531l0 13M548 711l-13 -24M548 711l23 -19M535 687l29 -7M564 680l7 12M1415 231l-2 -7M1342 316l0 -4M1342 316l9 5M1351 321l4 -9M1342 312l5 -6M1355 312l-8 -6M1435 278l-19 6M1428 262l-10 -3M1416 284l-8 -16M1408 268l10 -9M1419 241l-4 5M1415 246l3 13M1371 428l-9 -3M1361 431l1 -6M1374 396l2 -5M1374 396l-10 1M1364 397l-1 -8M1363 389l6 -5M1376 391l-7 -7M1357 378l6 -3M1357 378l-1 9M1363 375l6 8M1363 389l-7 -2M1369 384l0 -1M1377 373l1 4M1377 373l-8 -4M1369 369l-6 5M1369 383l9 -6M1371 428l5 -11M1376 417l7 4M1386 419l-2 2M1275 970l2 0M257 407l4 0M263 394l2 4M265 398l-4 9M482 251l-11 -7M482 251l15 -7M471 244l-1 -6M470 238l6 -8M479 229l16 9M479 229l-3 1M497 244l-2 -6M482 263l0 -12M482 263l14 4M496 267l5 -20M501 247l-4 -3M489 217l-10 12M489 217l7 -1M496 216l5 7M501 223l-6 15M517 236l-13 11M517 236l-5 -12M512 224l-11 -1M501 247l3 0M393 246l-2 -5M393 246l16 8M391 241l1 -2M409 254l2 -1M411 253l3 -17M392 239l10 -9M414 236l-12 -6M427 349l-12 18M427 349l6 1M431 380l9 -17M433 350l7 13M309 540l-12 3M299 525l-7 7M292 532l5 11M316 548l-2 6M300 561l-8 -7M292 554l5 -11M277 583l-5 -24M272 559l-9 1M355 402l-21 8M354 438l-6 1M332 422l2 -12M332 422l6 10M348 439l-10 -7M303 468l-10 3M303 468l13 9M293 471l10 16M303 487l13 -8M316 477l0 2M329 497l-1 -5M328 492l-12 -13M301 492l2 -5M301 407l4 -8M301 407l10 5M319 406l-8 6M319 406l-6 -9M313 397l-8 2M258 458l6 3M264 461l0 7M245 469l7 5M264 468l-12 6M249 487l4 -4M252 474l1 9M360 714l1 -5M361 709l23 -2M387 716l-3 -9M410 728l1 6M410 728l-9 -1M327 606l5 0M332 606l16 16M319 645l10 2M329 647l19 -25M333 676l8 -14M339 689l6 10M365 680l-11 20M365 680l-12 -18M353 662l-12 0M345 699l9 1M329 647l12 15M341 701l4 -2M378 679l15 18M378 679l-13 1M393 697l-9 10M361 709l-7 -9M392 655l-24 -9M392 655l-14 24M368 646l-15 16M368 646l-7 -22M348 622l13 2M410 728l7 -14M393 697l9 -1M417 714l-15 -18M397 654l-5 1M397 654l14 28M402 696l9 -14M448 724l-12 -13M448 724l15 -1M463 723l12 -28M436 711l5 -30M441 681l28 3M469 684l6 11M437 750l11 -26M417 714l19 -3M484 740l-21 -17M509 724l-4 -23M505 701l-30 -6M439 679l-28 3M439 679l2 2M439 419l20 -3M439 419l-4 -5M440 390l14 -3M468 396l-14 -9M468 396l1 8M469 404l-10 12M439 419l0 19M459 416l8 14M467 430l-9 16M458 446l-19 -8M399 434l15 19M414 453l10 0M439 438l-15 15M373 463l-20 9M373 463l17 15M353 472l3 28M356 500l23 -2M379 498l11 -20M414 453l-16 24M373 451l0 12M398 477l-8 1M326 570l1 0M335 544l1 1M327 570l9 -25M332 606l16 -25M327 570l21 11M645 677l-11 11M645 677l15 13M634 688l5 15M639 703l19 3M660 690l-2 16M614 668l3 17M614 668l8 -10M617 685l17 3M622 658l23 16M645 674l0 3M614 668l-22 -2M617 685l-11 14M592 666l-2 20M590 686l16 13M592 666l-2 -2M564 680l2 -7M571 692l1 0M572 692l18 -6M566 673l24 -9M756 377l-13 0M756 377l2 4M743 377l2 15M758 381l-6 12M752 393l-7 -1M742 377l-9 1M729 388l4 -10M729 388l12 7M741 395l4 -3M676 482l11 -9M676 482l-4 0M672 482l-10 -7M662 475l-3 -17M659 458l26 -5M687 473l-2 -20M1416 284l-2 8M1430 297l-12 2M1414 292l4 7M1393 269l-2 10M1393 269l2 -1M1391 279l9 14M1395 268l13 0M1414 292l-14 1M1378 336l7 10M1378 336l6 -11M1384 325l17 3M1394 344l-9 2M1394 344l1 -2M1401 332l0 -4M1379 315l9 -11M1379 315l5 10M1388 304l3 -1M1391 303l18 15M1401 328l8 -10M1402 222l-6 10M1402 222l11 2M1415 246l-15 -3M1396 232l4 11M1395 268l-3 -16M1392 252l8 -9M1371 314l-5 -5M1371 314l-9 14M1351 321l0 2M1366 309l-11 3M1351 323l11 5M1371 314l8 1M1375 336l-12 -4M1375 336l3 0M1362 328l1 4M1299 344l-12 9M1299 344l2 0M1287 353l5 7M1303 357l-2 -13M1303 357l-1 1M1302 358l-10 2M1342 316l-6 5M1336 321l-4 -1M1342 312l-10 -5M1332 307l-4 7M1328 314l4 6M1267 357l7 -7M1271 344l3 6M756 377l2 -3M742 377l2 -14M744 363l11 2M758 374l-3 -9M407 177l-2 1M404 182l17 6M404 182l1 -4M421 188l4 -7M404 176l1 2M383 173l2 -2M383 173l1 5M403 183l-19 -5M403 183l1 -1M536 268l-10 -10M536 268l-9 16M527 284l-17 -8M518 259l-9 15M518 259l8 -1M510 276l-1 -2M496 267l2 3M498 270l11 4M504 247l14 12M498 270l-11 14M487 284l15 13M502 297l8 -21M554 277l13 0M554 277l-7 -9M547 268l5 -10M568 251l7 9M567 277l8 -17M567 251l-15 7M527 238l4 7M527 238l6 -13M531 245l13 -1M540 224l-7 1M540 224l11 10M551 234l-7 10M517 236l10 2M526 258l5 -13M520 213l-8 11M520 213l13 12M547 268l-11 0M552 258l-8 -14M567 251l-9 -18M558 233l-7 1M554 208l-3 2M551 210l-5 0M546 210l-3 -4M564 225l-6 8M564 225l-13 -15M540 224l6 -14M520 213l0 -2M520 211l15 -7M1264 933l3 4M1264 933l-10 -1M1267 937l-12 10M1254 932l-7 6M1247 938l2 4M1255 947l-6 -5M1275 970l-5 -5M1270 965l-3 1M1267 966l-1 2M1327 441l-5 -6M1327 441l-3 6M1322 435l-3 1M1324 447l-5 1M1319 448l-4 -5M1319 436l-4 7M1375 336l-6 10M1369 346l3 7M1385 346l-2 3M1383 349l-11 4M1369 369l0 -9M1363 359l6 0M1363 359l-6 7M1357 366l6 8M1369 360l0 -1M1322 435l4 -6M1317 423l2 0M1317 423l-4 8M1319 436l-6 -5M1326 429l-7 -6M1317 423l-8 -5M1307 433l6 -2M1307 433l-4 -6M1303 427l6 -9M1340 412l-2 7M1340 412l-7 -3M1338 419l-6 1M1332 420l-6 -5M1333 409l-7 6M1326 429l4 -1M1319 423l6 -9M1330 428l2 -8M1326 415l-1 -1M1309 415l11 -7M1309 415l-2 -10M1312 400l8 5M1312 400l-5 5M1320 405l0 3M1309 418l0 -3M1325 414l-5 -6M1311 393l1 7M1311 393l-11 2M1300 395l-2 4M1298 399l2 4M1300 403l7 2M1353 434l-3 -3M1350 431l2 -5M1361 424l-9 2M1376 417l-1 -2M1375 415l-1 0M1374 415l-12 4M1361 424l1 -5M1340 412l3 -1M1343 411l6 5M1338 419l4 5M1342 424l6 -3M1349 416l-1 5M1354 401l8 -1M1354 401l-1 3M1353 404l2 10M1362 400l3 6M1365 406l-6 9M1355 414l4 1M1364 397l-2 3M1350 395l1 -6M1350 395l4 6M1356 387l-5 2M1344 407l9 -3M1344 407l-1 4M1349 416l6 -2M1374 396l2 5M1376 401l-6 6M1370 407l-5 -1M1370 407l4 8M1362 419l-3 -4M1352 426l-4 -5M1376 391l4 -1M1380 378l-2 -1M1380 378l3 8M1383 386l-3 4M1376 401l4 2M1375 415l7 -6M1380 403l2 6M1380 390l6 8M1380 403l6 -5M1387 410l-5 -1M1383 386l9 0M1392 386l1 4M1393 390l-3 8M1386 398l4 0M1267 937l2 1M1257 952l-2 -5M1257 952l13 -1M1269 938l1 13M758 374l13 -4M755 365l5 -9M760 356l6 0M766 356l6 8M771 370l1 -6M1274 350l9 2M1283 352l-6 12M1277 364l-6 -2M1275 396l5 10M1275 396l-11 6M1280 406l-8 4M1272 410l-8 -4M1264 406l0 -4M1270 439l-2 -11M1270 439l-10 0M1268 428l-10 2M1258 430l2 9M1261 416l-1 -4M1261 416l-6 9M1255 425l-7 -4M1249 411l11 1M1249 411l-3 4M1246 415l2 6M1125 419l-3 10M1125 419l-10 0M1111 426l4 -7M1111 426l4 3M1115 429l7 0M1125 419l12 6M1137 425l-4 6M1133 431l-9 0M1122 429l2 2M1115 429l-2 9M1124 431l-1 7M1123 438l-8 4M1115 442l-2 -4M512 324l4 -10M512 324l-16 -1M516 314l-6 -14M496 323l-1 -18M495 305l7 -8M510 300l-8 -3M502 348l11 -7M502 348l-14 -8M488 340l7 -17M495 323l1 0M515 329l-2 12M515 329l-3 -5M483 284l4 0M483 284l-5 9M478 293l3 10M481 303l14 2M529 291l-19 9M529 291l-2 -7M613 329l-21 -8M613 329l4 -3M592 321l-2 -11M617 326l-4 -21M613 305l-12 -5M601 300l-11 10M564 320l18 15M564 320l8 -16M592 321l-10 14M590 310l-18 -6M554 277l-6 18M567 277l9 9M548 295l23 7M576 286l-5 16M537 319l-8 -9M537 319l11 -1M548 318l-1 -23M529 310l4 -15M533 295l14 0M530 330l-15 -1M530 330l7 -11M516 314l13 -4M548 295l-1 0M554 323l10 -3M554 323l-6 -5M572 304l-1 -2M529 291l4 4M662 498l7 -3M662 498l-12 -6M669 495l3 -13M662 475l-13 11M650 492l-1 -6M611 468l-8 1M611 468l11 12M603 493l9 -1M603 493l-10 -8M622 480l-10 12M603 469l-11 14M593 485l-1 -2M611 468l7 -15M618 453l-9 -16M603 469l-16 -15M609 436l-18 6M591 442l-4 12M554 323l-2 15M530 330l7 11M537 341l15 -3M309 241l11 6M324 242l-4 5M324 242l-3 -17M314 226l7 -1M383 173l-6 -4M354 166l3 -2M353 194l13 -2M347 190l-3 -6M366 192l-4 -16M362 176l-6 -4M377 169l-15 7M320 247l-2 10M318 257l-13 2M306 294l-10 12M306 294l-5 -14M296 306l-6 0M301 280l-1 -1M267 383l11 2M267 383l2 -11M282 375l-4 10M282 375l-5 -7M277 368l-8 4M266 384l1 -1M269 372l-6 -5M285 317l2 5M273 331l3 2M276 333l8 -3M287 322l-3 8M296 306l11 10M307 316l-4 12M287 322l16 6M449 239l1 14M449 239l-10 -6M450 253l-19 -4M439 233l-9 9M431 249l-1 -7M430 250l-19 3M430 250l1 -1M421 234l-7 2M421 234l9 8M462 253l-10 2M462 253l12 16M452 255l-2 10M450 265l10 14M460 279l13 -6M473 273l1 -4M457 233l13 5M457 233l-8 6M471 244l-9 9M450 253l2 2M482 263l-8 6M483 284l-10 -11M489 217l-11 -11M476 230l-8 -14M468 216l10 -10M426 324l-2 -13M426 324l20 1M424 311l10 -10M446 325l3 -6M449 319l-3 -11M446 308l-12 -7M459 292l19 1M460 279l-3 9M457 288l2 4M427 349l-6 -7M402 358l2 -12M421 342l-17 4M426 324l-4 4M424 311l-14 -8M422 328l-25 -5M397 323l0 -4M397 319l13 -16M430 250l0 16M409 254l0 5M409 259l11 10M420 269l10 -3M450 265l-13 6M437 271l-7 -5M457 288l-20 -1M437 271l0 16M446 308l13 -16M434 301l-1 -11M437 287l-4 3M466 307l11 1M466 307l-8 10M458 317l13 8M477 308l1 10M478 318l-7 7M459 292l7 15M481 303l-4 5M449 319l9 -2M495 323l-17 -5M488 340l-16 -8M472 332l-1 -7M472 332l-6 5M446 325l3 10M466 337l-17 -2M433 350l15 -10M421 342l1 -14M449 335l-1 5M454 387l3 -13M440 363l10 0M457 374l-7 -11M448 340l9 14M450 363l7 -9M343 296l6 12M343 296l-21 3M322 299l1 14M323 313l21 2M349 308l-5 7M362 308l-13 0M362 308l3 -25M365 283l-2 0M363 283l-19 7M344 290l-1 6M321 297l1 2M321 297l-15 -3M307 316l15 -3M273 557l-6 -10M273 557l6 -3M279 554l2 -24M262 537l14 -10M281 530l-4 -3M277 527l-1 0M272 559l1 -2M292 554l-13 0M292 532l-11 -2M292 512l-10 3M282 515l-5 12M256 516l2 2M257 520l1 -2M254 501l-2 -2M254 501l-1 2M262 517l14 10M262 517l-4 1M368 327l23 5M368 327l-8 10M360 337l15 15M392 335l-1 -3M392 335l-11 17M381 352l-6 0M367 312l1 15M367 312l16 -7M397 323l-6 9M383 305l14 14M404 346l-12 -11M392 363l-11 -11M363 372l12 -20M353 472l-9 -4M348 439l-4 10M344 449l0 19M355 501l1 -1M328 492l14 -24M344 468l-2 0M264 461l6 -5M270 456l8 1M264 468l4 4M268 472l14 -3M278 457l4 12M294 495l-10 -13M284 482l4 -10M292 471l-4 1M265 398l12 3M261 407l2 4M277 403l-6 9M277 403l0 -2M263 411l8 1M282 437l-11 -10M282 437l8 -10M285 418l6 6M285 418l-10 2M275 420l-4 7M290 427l1 -3M285 411l0 7M285 411l9 -5M294 406l6 1M300 407l-2 13M298 420l-7 4M285 411l-8 -8M271 412l4 8M298 388l7 11M298 388l9 -5M313 397l5 -11M307 383l11 3M334 409l-15 -3M334 409l-9 -27M318 386l7 -4M354 384l-23 -8M331 376l-4 4M325 382l2 -2M317 440l-12 -2M317 440l5 -15M322 425l-11 -2M311 423l-1 1M310 424l-6 14M332 422l-10 3M311 412l0 11M300 407l1 0M298 420l12 4M290 427l14 11M262 517l5 -8M282 515l-5 -6M267 509l10 0M254 501l8 -2M267 509l-5 -10M293 496l-15 2M277 509l1 -11M276 485l-8 -6M276 485l-2 9M268 479l-8 7M260 486l4 10M274 494l-10 2M284 482l-8 3M268 472l0 7M282 469l6 3M278 498l-4 -4M253 483l7 3M262 499l2 -3M646 831l-7 5M646 831l0 -17M646 814l-6 -4M640 810l-12 4M639 795l1 15M639 795l25 -9M646 814l20 -2M666 812l1 -25M664 786l3 1M679 677l-1 -2M679 677l-19 13M645 674l13 -15M678 675l-20 -16M484 655l4 -2M484 655l-15 29M505 701l10 -14M488 653l27 34M522 731l19 -3M548 711l0 7M535 687l-8 -5M548 718l-7 10M515 687l12 -5M488 653l7 -8M495 645l24 -1M527 682l7 -21M534 661l-15 -17M458 446l6 10M424 453l19 24M464 456l-21 21M353 520l23 20M379 498l13 19M376 540l16 -23M398 477l17 14M392 517l21 0M415 491l-2 26M443 477l0 5M415 491l28 -9M484 655l-29 -13M439 679l-1 -23M455 642l-17 14M397 654l12 -14M438 656l-29 -16M624 651l-2 7M624 651l-6 -9M618 642l-20 -2M590 664l-2 -10M598 640l-10 14M744 363l-2 -4M733 360l9 -1M733 360l-6 7M733 378l-6 -7M727 367l0 4M758 381l9 5M771 370l5 8M767 386l9 -8M618 453l25 -1M609 437l25 -14M634 423l9 29M659 458l-7 -4M634 478l15 8M634 478l11 -25M652 454l-7 -1M622 480l5 1M634 478l-7 3M645 453l-2 -1M704 431l-16 -9M704 431l-6 19M698 450l-12 1M686 451l-8 -27M688 422l-8 0M680 422l-2 2M685 453l1 -2M665 425l-13 29M665 425l13 -1M683 396l-3 26M708 404l-2 -2M708 404l-1 7M707 411l-19 11M683 396l23 6M1394 344l1 1M1412 319l-1 -1M1420 310l-2 -1M1418 309l-7 9M1409 318l2 0M1418 299l0 10M1400 293l-9 10M1402 222l-3 -7M1399 215l3 -3M1383 215l-4 5M1399 215l-6 -2M1382 232l14 0M1382 232l-4 -10M1310 370l-6 -2M1310 370l6 -5M1303 357l6 0M1304 368l-2 -10M1309 357l7 8M1357 378l-7 -4M1357 366l-4 0M1353 366l-3 8M1343 383l8 6M1343 383l1 -6M1344 377l6 -3M1336 321l4 7M1332 335l5 -1M1332 335l-4 -8M1332 320l-4 7M1340 328l-3 6M1351 323l-3 4M1340 328l8 -1M1337 334l8 5M1348 327l1 9M1349 336l-4 3M1388 304l-11 -15M1366 309l-1 -5M1365 304l3 -9M1368 295l9 -6M1393 269l-14 -2M1391 279l-14 10M1379 267l-8 6M1371 276l0 3M1371 279l6 10M1368 295l-5 -3M1347 306l0 -3M1365 304l-9 -4M1332 307l0 -1M1304 368l-4 4M1292 360l-3 9M1300 372l-11 -3M1310 370l1 7M1311 377l-7 5M1304 382l-3 -1M1300 372l1 9M1311 393l1 -1M1300 395l-6 -10M1312 392l-8 -10M1301 381l-7 4M1287 395l1 5M1287 395l6 -10M1288 400l10 -1M1293 385l1 0M1298 315l0 -2M1298 315l-3 0M1276 337l8 2M1282 326l6 1M1284 339l6 -4M1290 335l1 -6M1291 329l-3 -2M1283 352l1 0M1284 352l0 -13M1288 321l0 6M1299 344l-9 -9M1287 353l-3 -1M1298 326l0 -11M1298 326l-7 3M1328 314l-7 0M1321 314l-2 -5M776 306l6 -3M776 306l-2 9M788 314l-8 8M788 314l-2 -8M786 306l-4 -3M774 315l6 7M777 290l-11 5M777 290l4 2M781 292l1 11M765 301l1 -6M765 301l11 5M797 317l2 4M797 317l-9 -3M787 332l6 1M787 332l-7 -9M799 321l-6 12M801 308l-4 9M801 308l-5 -7M796 301l-10 5M790 290l7 5M790 290l-9 2M796 301l1 -6M783 350l-3 -2M783 350l-1 10M766 356l3 -5M772 364l10 -4M780 348l-11 3M806 291l-1 -10M806 291l7 4M813 295l7 -7M820 288l-2 -9M818 279l-9 -3M805 281l4 -5M793 279l-3 11M793 279l12 2M797 295l9 -4M813 307l-12 1M813 307l2 -3M815 304l-2 -9M815 304l12 1M827 305l2 -1M820 288l10 1M829 304l1 -15M839 349l-9 -6M839 349l-4 13M830 343l-6 5M831 361l-7 -13M831 361l4 2M851 355l-6 -8M851 355l-2 5M839 349l6 -2M835 362l14 -2M865 358l-5 -5M865 358l0 7M860 353l-9 2M865 365l-2 4M863 369l-6 2M857 371l-4 -1M849 360l4 10M842 334l4 9M842 334l10 -8M846 343l12 -3M852 326l6 14M845 347l1 -4M830 343l2 -10M833 332l9 2M853 325l-1 1M853 325l-5 -9M848 316l-9 3M839 319l-6 13M860 353l1 -11M861 342l-3 -2M853 325l13 -1M861 342l7 -3M868 339l-2 -15M689 228l-1 -1M689 228l3 0M688 253l-6 -5M688 253l-6 21M682 248l-17 11M682 274l-17 -5M665 259l0 10M700 261l15 -4M700 261l3 11M715 257l3 16M718 273l-4 3M703 272l11 4M697 354l2 -5M697 354l10 14M699 349l8 -1M718 360l-11 8M718 360l-2 -6M716 354l-9 -6M733 360l-6 -13M727 367l-9 -7M716 354l11 -7M765 301l-5 5M766 295l-6 -6M751 290l-2 12M751 290l9 -1M749 302l11 4M689 228l-9 11M680 239l-14 -6M667 224l-1 9M826 244l13 -6M826 244l1 8M827 252l15 6M839 238l8 7M847 245l-5 13M819 262l-11 8M819 262l-9 -9M801 265l1 -8M801 265l7 5M802 257l8 -4M825 244l1 0M825 244l-14 3M821 262l-2 0M821 262l6 -10M811 247l-1 6M777 290l-1 -9M760 289l3 -11M763 278l1 0M776 281l-12 -3M468 216l-5 -1M478 206l1 -4M479 202l-8 -9M469 192l-13 12M456 204l7 11M457 233l-2 -10M455 223l8 -8M445 186l-1 3M456 204l-2 -1M444 189l10 14M422 191l13 5M422 191l-1 -3M444 189l-9 7M416 201l6 -10M416 201l-6 1M403 183l-2 8M401 191l9 11M377 221l21 -6M377 221l15 18M402 220l0 10M402 220l-2 -4M400 216l-2 -1M569 351l13 -14M569 351l10 21M582 337l19 11M601 348l-7 22M579 372l9 2M588 374l6 -4M582 335l0 2M552 338l9 11M561 349l8 2M562 384l-6 -3M562 384l17 -12M556 381l-8 -18M548 363l13 -14M613 329l-5 16M608 345l-7 3M608 345l16 11M624 356l-5 17M619 373l-25 -3M625 284l16 5M625 284l-2 16M623 300l11 6M634 306l10 -7M644 299l-3 -10M623 280l14 -14M623 280l2 4M637 266l4 0M641 266l9 10M650 276l-9 13M626 326l7 -7M626 326l-9 0M633 319l1 -13M613 305l10 -5M652 321l4 -17M652 321l-19 -2M656 304l-12 -5M656 304l2 -1M658 303l7 -13M665 290l-7 -13M658 277l-8 -1M667 328l9 -11M667 328l4 13M671 341l19 -5M690 336l-3 -15M676 317l11 4M652 321l15 7M675 311l-17 -8M675 311l1 6M671 361l-4 -13M671 361l-9 11M667 348l-23 -5M662 372l-14 0M648 372l-12 -20M636 352l4 -7M640 345l4 -2M697 354l-14 10M699 349l-7 -12M683 364l-12 -3M692 337l-2 -1M671 341l-4 7M668 391l15 5M668 391l-6 -19M692 380l-9 16M692 380l-9 -16M652 321l-8 22M626 326l14 19M624 356l12 -4M568 251l17 -15M595 253l1 -7M595 253l-11 9M584 262l-9 -2M596 246l-11 -10M564 225l2 -1M585 236l-19 -12M575 211l-9 13M609 222l-15 -3M609 222l2 -5M592 215l2 4M592 215l0 -1M614 230l-5 12M614 230l-5 -8M609 242l-13 4M585 236l9 -17M578 212l14 3M1247 938l-1 -1M1236 939l10 -2M1249 942l-6 6M1260 961l-4 -9M1256 952l-3 3M1267 966l-5 -2M1307 459l-2 -4M1307 459l10 0M1318 451l0 7M1318 451l-12 2M1317 459l1 -1M1306 453l-1 2M1307 459l-2 6M1305 455l-7 0M1298 455l-3 9M1295 464l10 1M1311 443l-4 -8M1311 443l-6 4M1305 447l-4 -2M1301 445l-1 -6M1300 439l7 -4M1315 443l-4 0M1307 433l0 2M1319 448l-1 3M1306 453l-1 -6M1298 455l-4 -4M1294 451l1 -3M1295 448l6 -3M1293 436l-3 7M1293 436l7 3M1290 443l5 5M1293 434l4 -8M1293 434l0 2M1303 427l-6 -1M1286 454l8 -3M1286 454l0 3M1295 464l-3 1M1286 457l6 8M1278 440l4 4M1278 440l-7 1M1271 441l-3 9M1282 444l0 5M1282 449l-8 5M1268 450l6 4M1293 434l-11 -2M1282 432l-4 8M1290 443l-8 1M1270 439l1 2M1264 451l4 -1M1264 451l-8 -5M1260 439l-4 7M1286 454l-4 -5M1274 461l3 2M1274 461l0 -7M1286 457l-9 6M1311 498l0 -4M1311 498l-8 3M1303 501l-2 -1M1301 500l0 -6M1301 494l4 -3M1311 494l-6 -3M1297 486l-1 6M1297 486l5 -1M1302 485l3 3M1301 494l-5 -2M1305 491l0 -3M1336 388l5 10M1336 388l-2 0M1334 388l-5 12M1340 400l1 -2M1340 400l-7 3M1333 403l-4 -3M1343 383l-7 5M1350 395l-9 3M1344 407l-4 -7M1333 409l0 -6M1325 400l4 0M1325 400l-5 5M1331 386l-11 4M1331 386l-3 -9M1328 377l-6 -1M1317 389l1 -10M1317 389l3 1M1318 379l4 -3M1325 400l-5 -10M1334 388l-3 -2M1312 392l5 -3M1311 377l7 2M1316 365l2 0M1318 365l4 11M1335 432l5 -2M1335 432l-2 7M1344 441l-7 2M1344 440l0 -7M1344 433l-4 -3M1333 439l4 4M1330 428l5 4M1342 424l-2 6M1327 441l6 -2M1343 452l-7 -2M1336 450l1 -7M1350 431l-6 2M1276 392l11 3M1276 392l-1 4M1280 406l5 2M1288 400l-3 7M1285 408l0 -1M1300 403l-5 8M1285 407l10 4M1297 426l-3 -4M1309 415l-13 -2M1294 422l2 -9M1296 413l-1 -2M1331 464l6 -3M1331 464l-3 -6M1337 461l-3 -9M1328 458l3 -6M1334 452l-3 0M1341 462l-4 -1M1336 450l-2 2M1324 447l7 5M1322 459l-4 -1M1322 459l6 -1M1317 459l-2 6M1305 465l2 2M1315 465l-8 2M1325 502l4 -9M1325 502l-6 -2M1319 500l0 -7M1319 493l10 0M1138 845l2 -4M1140 841l6 1M1247 918l9 -10M1247 918l-2 0M1245 918l-4 -16M1256 908l-10 -10M1246 898l-4 1M1241 902l1 -3M1246 937l-5 -10M1231 930l0 -1M1231 929l10 -2M1245 918l-2 1M1241 902l-10 5M1231 907l3 9M1234 916l9 3M1254 932l0 -9M1254 923l-7 -5M1241 927l2 -8M1221 914l6 7M1227 921l0 1M1231 929l-1 -1M1231 907l-8 -3M1223 904l-2 10M1234 916l-7 5M465 611l18 1M465 611l-11 11M495 645l-3 -27M455 642l-1 -20M492 618l-9 -6M469 404l17 9M467 430l10 0M477 430l9 -17M565 500l-3 15M565 500l-10 -9M555 491l-11 8M562 515l-14 -2M544 499l4 14M696 631l2 2M696 631l0 -14M696 617l14 -1M698 633l15 -1M713 632l-3 -16M678 675l11 -20M689 655l-9 -13M680 642l-5 -2M658 659l-1 -12M675 640l-18 7M624 651l25 -10M649 641l8 6M874 239l2 -4M874 239l-3 -1M871 238l-4 -3M871 238l-12 9M853 244l3 -9M853 244l6 3M839 265l4 9M839 265l-12 4M826 273l1 -4M826 273l9 12M835 285l8 -11M843 259l-4 6M821 262l6 7M818 279l8 -6M809 276l-1 -6M835 285l-5 4M887 243l-8 1M879 244l-5 -5M782 360l5 4M776 378l5 1M781 379l7 -7M787 364l1 8M794 349l-11 1M794 349l1 12M787 364l8 -3M1055 315l2 1M1055 315l-2 -8M1053 307l3 -5M1057 316l7 -1M1064 315l1 -10M1056 302l4 -2M1065 305l-5 -5M1060 300l1 -1M1135 435l-2 -4M1135 435l-5 8M1123 438l6 5M1130 443l-1 0M1143 438l-1 8M1146 448l-4 -2M1135 435l8 3M1130 443l7 5M1142 446l-5 2M1053 307l-4 0M1055 315l-9 4M1057 316l0 11M1057 327l-7 0M1050 327l-4 -8M1039 310l2 -2M1039 310l4 9M1046 319l-3 0M1039 310l-6 0M1031 303l-1 3M1030 306l3 4M1064 315l1 1M1061 327l-3 1M1067 321l0 -1M1057 327l1 1M1067 320l-2 -4M1058 332l0 -4M1050 327l-5 8M1045 335l7 4M1032 342l8 0M1032 342l0 12M1036 355l-4 -1M1036 355l6 -7M1040 342l2 6M984 386l-9 2M984 386l3 -4M975 388l-1 -6M974 382l4 -8M978 374l4 0M982 374l5 8M982 374l5 -5M987 382l8 -1M995 381l1 -5M996 376l-6 -7M990 369l-3 0M943 310l6 2M943 310l0 -2M956 302l1 7M949 312l8 -3M1033 333l-5 -4M1033 333l7 -2M1040 331l-1 -7M1039 324l-9 -2M1030 322l-2 7M1031 342l2 -9M1031 342l-7 -1M1024 341l-4 -4M1022 331l-2 6M1022 331l6 -2M1031 342l1 0M1044 335l-4 7M1044 335l-4 -4M1043 319l-4 5M1029 320l4 -10M1029 320l1 2M1017 321l3 -3M1017 321l-1 2M1016 323l6 8M1029 320l-9 -2M1139 423l1 1M1139 423l-3 -10M1146 419l1 -1M1145 411l-7 0M1136 413l2 -2M1137 425l2 -2M1141 425l-1 -1M1126 413l10 0M1125 419l1 -6M1137 403l5 -2M1137 403l1 8M1126 413l2 -9M1137 403l-3 -1M1134 402l-6 2M1068 418l9 0M1082 423l-5 -5M1082 423l-7 8M1067 417l1 1M1028 485l4 0M1028 485l-3 -12M1025 473l6 -2M1031 471l6 7M1032 485l5 -7M1032 468l-1 3M1032 468l6 -2M1038 466l6 4M1044 470l-6 8M1099 413l-9 1M1099 413l5 5M1090 414l0 4M1104 418l-1 5M1090 418l7 6M1097 424l6 -1M1104 418l7 -5M1111 426l-4 0M1115 419l-4 -6M1103 423l4 3M1038 358l-2 -3M1042 348l2 0M1060 396l0 -3M1034 396l-2 1M1032 397l2 9M1034 406l2 1M601 297l-12 -15M601 297l15 -19M616 278l-6 -8M590 278l-1 4M590 278l19 -9M609 269l1 1M601 300l0 -3M576 286l13 -4M623 280l-7 -2M637 266l-12 -12M625 254l-5 0M620 254l-10 16M584 262l6 16M595 253l14 16M609 242l11 12M603 493l-3 14M593 485l-8 18M585 503l15 4M612 492l5 13M600 507l3 4M617 505l-14 6M565 500l9 -4M555 491l1 -6M556 485l12 -6M574 496l2 -9M568 479l8 8M574 496l10 8M584 504l1 -1M576 487l16 -4M586 454l-22 -4M586 454l-8 15M578 469l-8 3M570 472l-9 -10M561 462l3 -12M592 483l-14 -14M568 479l2 -7M562 384l4 24M583 410l11 -19M583 410l-5 2M594 391l-6 -17M566 408l12 4M609 436l-5 -19M591 442l-11 -12M604 417l-21 -7M578 412l2 18M564 450l-4 -7M580 430l-20 13M468 396l5 -4M486 413l7 -8M493 405l-2 -14M473 392l18 -1M486 413l19 15M493 405l12 -1M505 428l8 -13M505 404l8 11M315 202l-1 7M315 202l11 -7M314 209l8 8M322 217l13 -13M326 195l9 9M312 200l3 2M313 209l1 0M326 192l0 3M321 225l1 -3M322 222l0 -5M322 222l18 2M340 205l0 19M340 205l-5 -1M340 205l4 -2M380 204l-12 -7M380 204l10 -4M390 200l1 -2M391 198l-10 -13M381 185l-15 7M366 192l2 5M401 191l-10 7M410 202l-10 14M398 215l-8 -15M384 178l-3 7M341 241l-17 1M341 241l1 -1M340 224l3 3M342 240l1 -13M380 204l-3 16M368 197l-5 14M363 211l14 9M349 206l8 7M363 211l-6 2M343 227l11 -5M357 213l-3 9M321 261l-2 14M321 261l21 2M337 279l7 -14M337 279l-12 1M325 280l-6 -5M342 263l2 2M318 257l3 4M301 280l18 -5M341 241l1 22M363 283l-17 -18M344 290l-7 -11M346 265l-2 0M321 297l4 -17M280 397l-1 -10M280 397l10 1M279 387l15 -2M290 398l7 -10M297 388l-3 -3M277 401l3 -4M278 385l1 2M294 406l-4 -8M293 373l1 12M293 373l-11 2M298 388l-1 0M363 372l-13 -16M360 337l-3 1M350 356l7 -18M331 376l10 -18M350 356l-9 2M367 312l-5 -4M344 325l0 -10M344 325l8 10M352 335l5 3M280 347l-5 12M280 347l7 1M287 348l3 8M290 356l-3 6M287 362l-9 2M278 364l-3 -5M293 373l0 -1M277 368l1 -4M293 372l-6 -10M265 351l1 -6M275 359l-11 -2M275 344l-9 1M275 344l5 3M276 333l-1 11M289 346l16 0M289 346l1 -8M290 338l13 -8M305 346l5 -9M303 330l7 7M284 330l6 8M287 348l2 -2M303 328l0 2M410 303l0 -1M433 290l-13 -3M410 302l10 -15M420 269l-4 12M420 287l-4 -6M457 374l14 -6M457 354l7 0M471 368l-7 -14M488 340l-6 9M466 337l2 12M482 349l-14 0M468 349l-4 5M327 451l-1 15M327 451l-5 -5M321 445l-10 11M311 456l12 11M323 467l3 -1M344 449l-17 2M342 468l-16 -2M338 432l-16 14M317 440l4 5M308 456l-2 -1M308 456l3 0M306 455l-1 -17M308 456l-5 12M316 477l7 -10M282 453l10 2M282 453l-2 -13M294 444l-1 10M294 444l-12 -7M293 454l-1 1M282 437l-2 3M278 457l4 -4M292 471l0 -16M270 456l-2 -12M268 444l12 -4M306 455l-13 -1M304 438l-10 6M267 427l-8 -4M267 427l-4 14M256 423l3 0M256 423l-7 7M249 430l0 5M249 435l8 7M257 442l6 -1M263 411l-4 12M271 427l-4 0M268 444l-5 -3M250 415l6 8M248 429l1 1M248 436l1 -1M254 449l3 -7M666 812l7 6M667 787l3 -1M673 818l22 -13M695 805l-4 -14M691 791l-21 -5M664 786l-12 -16M670 786l8 -22M652 770l7 -13M659 757l19 7M640 733l-2 11M640 733l12 -6M638 744l20 10M658 754l9 -14M652 727l15 13M682 747l-11 -8M682 747l-2 16M658 754l1 3M680 763l-2 1M667 740l4 -1M679 677l5 5M658 706l2 3M684 682l2 20M660 709l14 3M686 702l-12 10M652 727l8 -18M671 739l9 -16M674 712l6 11M519 605l-2 0M519 605l10 10M519 644l12 -20M517 605l-25 13M529 615l2 9M336 545l19 10M348 581l3 -1M355 555l-4 25M376 540l0 3M355 555l21 -12M573 646l-3 -13M573 646l-15 14M558 660l-12 -4M546 656l4 -23M570 633l-10 -4M560 629l-10 4M566 673l-8 -13M588 654l-15 -8M534 661l12 -5M531 624l19 9M715 382l0 -4M715 382l-7 5M715 378l-8 -8M708 387l-14 -8M694 379l13 -9M729 388l-5 3M724 391l-9 -9M727 371l-12 7M724 391l-2 5M708 404l2 0M706 402l2 -15M710 404l12 -8M707 368l0 2M692 380l2 -1M635 421l16 -7M635 421l-17 -19M653 403l-2 11M653 403l-18 -18M635 385l-9 1M626 386l-8 12M618 398l0 4M634 423l1 -2M665 425l-14 -11M604 417l14 -15M668 391l-15 12M648 372l-13 13M619 373l7 13M594 391l24 7M687 473l12 6M698 450l6 3M709 459l-5 -6M709 459l2 11M699 479l12 -8M711 470l0 1M732 458l-6 -4M732 458l-3 11M709 459l17 -5M711 470l18 -1M732 458l6 -1M738 457l7 6M745 463l0 6M745 469l-11 7M729 469l5 7M1298 315l10 -1M1308 314l0 -3M1379 267l-6 -11M1371 256l2 0M1382 232l-6 9M1374 241l2 0M1392 252l-15 -6M1373 256l4 -10M1377 246l-1 -5M1325 350l4 -10M1325 350l-3 2M1322 352l-6 -3M1318 337l11 3M1318 337l-4 8M1314 345l2 4M1321 363l1 -11M1321 363l8 1M1329 364l4 -9M1333 355l-8 -5M1321 363l-3 2M1309 357l7 -8M1302 343l-1 1M1302 343l12 2M1328 376l1 -11M1328 376l13 -2M1329 365l10 2M1341 374l-2 -7M1329 364l0 1M1328 377l0 -1M1344 377l-3 -3M1353 366l-3 -3M1350 363l-9 2M1341 365l-2 2M1369 346l-6 0M1363 359l-5 -6M1372 353l-3 6M1358 353l5 -7M1363 332l-5 5M1363 346l-5 -9M1349 336l8 2M1358 337l-1 1M1332 335l-2 5M1330 340l7 6M1345 339l-1 5M1344 344l-7 2M1333 355l3 -1M1337 346l-1 8M1341 365l-2 -9M1339 356l-3 -2M1280 368l-5 8M1280 368l9 1M1289 369l0 13M1275 376l6 7M1281 383l8 -1M1273 376l-8 -5M1273 376l2 0M1277 364l3 4M1289 369l0 0M1293 385l-4 -3M1276 392l5 -9M1276 392l-9 -6M1267 386l6 -10M1312 318l5 0M1312 318l-6 11M1317 318l4 9M1321 327l-4 6M1317 333l-10 -2M1307 331l-1 -2M1321 314l-4 4M1308 314l4 4M1298 326l8 3M1328 327l-7 0M1318 337l-1 -4M1302 343l5 -12M1074 393l-4 11M1075 393l6 3M1081 396l1 11M1082 407l-3 1M1079 408l-7 -2M1072 406l-2 -2M1064 390l10 3M1064 390l-4 3M1062 403l8 1M1082 423l1 0M1077 418l2 -10M1088 409l2 5M1088 409l-6 -2M1083 423l7 -5M1066 416l6 -10M1060 380l2 0M1064 390l0 -9M1064 381l-2 -1M1134 402l-1 -9M1128 404l-4 -4M1124 400l1 -7M1125 393l8 0M1126 413l-10 -4M1111 413l1 -2M1116 409l-4 2M1124 400l-6 1M1116 409l2 -8M1114 390l0 8M1114 390l2 0M1122 391l1 0M1123 391l2 2M1118 401l-4 -3M1114 390l-1 -1M1125 383l-2 8M1113 381l0 8M1261 377l4 9M1261 377l-9 -1M1252 376l-1 11M1251 387l9 3M1260 390l5 -4M1267 386l-2 0M1265 371l-4 6M1252 375l0 1M1261 399l3 3M1261 399l-1 -9M1218 428l8 9M1218 428l4 -9M1222 419l10 4M1227 437l5 -14M1217 442l-6 -10M1217 442l9 -5M1211 432l7 -4M1241 429l7 -8M1241 429l-9 -6M1246 415l-8 -1M1238 414l-6 9M1383 349l2 6M1388 357l-3 -2M1369 360l11 2M1385 355l-5 7M1377 373l4 -7M1381 366l-1 -4M1389 375l-1 -7M1389 375l3 2M1380 378l9 -3M1381 366l7 2M1392 386l2 -5M1393 390l7 2M1408 407l-2 3M1408 407l-1 -4M1407 403l-7 -3M1395 408l-2 -3M1400 400l-7 3M1393 405l0 -2M1413 408l-5 -1M1411 395l-4 8M1401 393l-1 7M1387 410l6 -5M1390 398l3 5M794 349l1 -1M787 332l-8 8M793 333l2 2M779 340l1 8M795 348l0 -13M813 319l-3 3M813 319l10 3M810 322l1 14M823 322l3 8M826 330l-14 7M812 337l-1 -1M813 307l0 12M799 321l11 1M827 305l2 8M829 313l-6 9M795 335l16 1M829 313l10 6M832 333l-6 -3M824 348l-1 0M823 348l-11 -10M812 338l0 -1M795 348l11 2M806 350l6 -12M841 289l3 13M841 289l12 -3M853 286l3 2M856 288l-2 10M854 298l-8 6M846 304l-2 -2M829 304l15 -2M835 285l6 4M852 276l1 10M852 276l-9 -2M867 304l5 -13M867 304l-13 -6M872 291l-2 -3M870 288l-2 -1M868 287l-12 1M848 316l0 -2M848 314l-2 -10M831 361l-13 4M823 348l-9 8M818 365l-4 -9M806 350l2 4M808 354l6 2M795 361l7 3M808 354l-6 10M872 382l-9 -13M872 382l0 2M871 385l1 -1M871 385l-8 2M857 371l0 12M863 387l-6 -4M739 275l9 2M739 275l-7 6M732 281l0 1M732 282l6 7M738 289l11 -1M749 288l-1 -11M718 273l3 0M721 273l11 8M714 276l-1 10M723 293l-10 -7M723 293l9 -11M751 290l-2 -2M763 278l-12 -4M751 274l-3 3M700 261l-8 -7M692 254l18 -15M715 257l2 -4M717 253l-7 -14M692 254l-4 -1M680 239l2 9M706 230l5 7M710 239l1 -2M698 305l4 -6M698 305l-15 -3M683 302l-5 -12M702 299l0 -3M702 296l-10 -15M678 290l7 -9M685 281l7 0M675 311l8 -9M699 311l-12 10M699 311l-1 -6M665 290l13 0M716 302l-14 -3M716 302l8 -7M724 295l-1 -2M713 286l-11 10M703 272l-11 9M682 274l3 7M665 269l-7 8M699 311l6 5M692 337l13 -10M705 316l0 11M716 336l-9 12M716 336l-2 -4M714 332l-9 -5M749 302l-5 2M738 289l-2 10M744 304l-8 -5M724 295l7 6M731 301l5 -2M742 359l5 -11M760 356l-10 -8M747 348l3 0M825 244l-4 -10M839 238l0 -4M847 245l6 -1M726 234l-15 3M726 234l2 -3M721 273l10 -11M739 275l-1 -9M738 266l-7 -4M717 253l12 1M731 262l-2 -8M726 234l7 16M733 250l-4 4M751 274l1 -12M764 278l2 -12M766 266l-14 -4M780 276l-1 -8M780 276l11 1M779 268l8 -7M791 277l4 -10M795 267l-8 -6M776 281l4 -5M769 264l-3 2M769 264l10 4M793 279l-2 -2M786 257l1 4M786 257l-4 -4M782 253l-11 1M771 254l-2 10M801 265l-6 2M786 257l10 -6M796 251l6 6M442 211l-7 -6M442 211l1 10M439 224l-15 -4M439 224l4 -3M435 205l-11 7M424 212l-2 5M422 217l2 3M435 196l0 9M454 203l-12 8M455 223l-12 -2M421 234l3 -14M439 233l0 -9M416 201l8 11M402 220l20 -3M507 200l-5 1M502 201l-6 -3M520 211l-7 -10M496 216l6 -15M479 202l12 -5M1264 451l-2 9M1274 461l-8 4M1262 460l4 5M1299 475l7 -6M1299 475l-3 0M1292 465l0 1M1307 467l-1 2M1296 475l-4 -9M1277 463l4 7M1292 466l-11 4M1271 508l4 -13M1272 508l11 -5M1275 495l2 0M1277 495l6 8M1315 502l4 -2M1315 502l-4 -4M1319 493l-1 -1M1311 494l3 -2M1318 492l-4 0M1305 488l7 -4M1314 492l-2 -8M1315 502l0 2M1303 501l3 7M1306 508l3 0M1315 504l-6 4M1328 548l-8 -2M1328 548l1 2M1329 550l-4 8M1320 546l-3 2M1317 548l5 9M1325 558l-3 -1M1328 548l2 -7M1330 541l2 0M1238 532l-3 6M1238 532l2 0M1240 532l6 5M1235 538l5 5M1240 543l6 -5M1246 538l0 -1M1231 527l-3 3M1232 526l6 6M1228 530l2 9M1230 539l5 -1M1283 416l5 6M1283 416l-10 4M1288 422l-7 8M1281 430l-9 -6M1273 420l-1 3M1285 408l-2 8M1294 422l-6 0M1272 410l1 10M1282 432l-1 -2M1268 428l4 -4M1261 416l11 7M1260 412l4 -6M1255 425l2 5M1258 430l-1 0M1322 459l1 6M1315 465l4 5M1319 470l4 -5M1330 467l1 -3M1330 467l-1 0M1329 467l-6 -2M1329 493l1 -6M1318 492l3 -9M1330 487l-9 -4M1337 505l-2 -1M1335 504l0 -7M1335 497l5 -3M1340 494l2 1M1341 462l-3 7M1343 473l-5 -4M1330 467l6 3M1329 467l-3 8M1331 477l-5 -2M1331 477l3 -1M1334 476l2 -6M1338 469l-2 1M1329 493l6 4M1330 487l2 -1M1332 486l6 0M1340 494l-2 -8M1331 477l1 9M1334 476l5 2M1338 486l1 -8M1339 478l5 -3M1172 716l6 -2M1172 716l0 6M1178 714l4 9M1182 724l-8 -1M1172 722l2 1M1182 724l-1 9M1181 733l-5 1M1176 734l-5 -4M1174 723l-3 7M1211 773l3 7M1211 773l3 -4M1214 780l2 -1M1214 769l3 0M1217 769l3 5M1220 774l-4 5M1210 850l-7 -5M1210 850l7 -4M1203 845l3 -10M1217 846l-2 -12M1215 834l-9 1M1225 860l-12 0M1225 860l1 -3M1226 857l-6 -11M1220 846l-3 0M1213 860l-3 -4M1210 856l0 -6M1212 869l1 -9M1212 869l-5 0M1210 856l-7 4M1203 845l-1 1M1195 852l7 -6M1269 663l0 -9M1269 663l7 3M1278 665l-2 1M1278 665l1 -10M1279 655l-10 -1M1285 619l1 -7M1285 619l7 2M1292 621l3 -7M1295 614l-7 -3M1288 611l-2 1M1294 626l-2 -5M1294 626l-9 3M1285 629l-3 -7M1282 622l3 -3M1287 947l-1 -2M1287 955l-3 5M1284 960l-11 -2M1284 945l-12 9M1284 945l2 0M1273 958l-1 -4M1285 964l-1 -4M1270 965l3 -7M1269 938l6 -1M1275 937l9 8M1270 951l2 3M1251 890l-8 -9M1251 890l9 -9M1260 881l0 -3M1256 873l4 5M1256 873l-7 -1M1243 881l6 -9M1251 858l-6 8M1258 870l-2 3M1249 872l-4 -6M1225 860l2 5M1227 865l7 3M1226 857l11 -6M1237 851l4 14M1234 868l7 -3M1251 892l-5 6M1251 892l0 -2M1242 899l-7 -6M1243 881l-5 1M1235 893l3 -11M1234 868l0 12M1241 865l4 1M1234 880l4 2M1223 904l0 -1M1223 903l-8 -2M1235 893l-7 1M1223 903l5 -9M916 857l0 2M916 857l9 -2M929 858l-4 -3M697 537l-4 -2M697 537l12 -5M709 523l0 9M709 523l-11 -4M698 519l-3 1M693 535l2 -15M676 482l12 13M699 479l1 6M700 485l-12 10M473 520l1 -20M473 520l-22 6M451 526l-11 -12M440 514l7 -27M447 487l23 7M470 494l4 6M413 517l27 -3M413 517l6 27M419 544l27 -3M446 541l5 -15M443 482l4 5M556 485l-10 -10M544 499l-14 -6M530 493l3 -13M533 480l13 -5M561 462l-13 5M548 467l-2 8M503 516l-4 -17M503 516l16 1M519 517l2 -2M521 515l4 -19M525 496l-20 -8M505 488l-6 11M492 524l11 -8M492 524l-18 -4M474 500l25 -1M541 518l7 -5M541 518l-20 -3M530 493l-5 3M470 494l11 -17M505 487l-24 -10M505 487l0 1M703 644l8 1M703 644l-9 12M711 645l2 10M713 655l-8 7M694 656l11 6M696 631l-16 11M689 655l5 1M698 633l5 11M684 682l17 -1M705 662l2 7M701 681l6 -12M723 655l-10 0M707 669l13 2M720 671l2 -2M722 669l1 -14M722 669l12 -1M723 655l10 4M733 659l1 9M698 599l-4 -12M698 599l13 -2M711 597l-4 -14M694 587l13 -4M727 644l-4 11M727 644l-2 -2M711 645l4 -5M725 642l-10 -2M715 640l-2 -7M710 616l1 -1M711 615l11 5M713 633l8 -5M722 620l-1 8M725 642l2 -10M727 632l-6 -4M709 523l5 -4M698 519l5 -14M714 519l1 -4M703 505l1 -1M715 515l-11 -11M709 532l7 6M716 538l2 -1M714 519l8 5M718 537l5 -7M722 524l1 6M843 259l11 4M859 247l5 9M864 256l-10 7M852 276l4 -4M868 287l-4 -13M864 274l-8 -2M854 263l2 9M902 269l-11 1M902 269l0 12M889 283l13 -2M889 283l-1 -3M891 270l-3 10M879 293l10 -8M879 293l-7 -2M870 288l9 -11M889 285l0 -2M879 277l9 3M752 393l3 3M767 386l1 8M755 396l13 -2M975 390l0 -2M975 390l-7 3M974 382l-11 -4M968 393l-7 -3M961 390l-2 -3M959 387l4 -9M973 368l5 6M973 368l-10 9M963 377l0 1M960 364l-10 -4M960 364l-1 9M948 360l2 0M948 360l-1 2M959 373l-10 1M947 362l2 12M947 386l12 1M947 386l0 -10M959 373l4 4M947 376l2 -2M867 323l8 -1M867 323l-3 -13M875 322l3 -13M878 309l-11 -5M864 310l3 -6M848 314l16 -4M866 324l1 -1M916 281l-3 13M913 294l5 3M916 281l12 4M918 297l9 -5M928 285l-1 7M868 339l5 2M873 341l9 -9M875 322l7 4M882 326l0 6M873 341l3 4M894 341l-8 6M894 341l-1 -1M882 332l11 8M886 347l-10 -2M865 358l9 -5M874 353l2 -8M886 347l2 12M874 353l7 7M888 359l-7 1M865 365l11 1M881 360l-5 6M872 382l7 -9M876 366l3 7M878 309l9 -2M882 326l5 -3M887 307l0 16M893 340l6 -16M887 323l12 1M967 310l-2 2M957 309l8 3M973 309l9 3M982 304l0 8M988 300l-3 1M953 287l-2 0M951 287l0 3M949 312l4 11M953 323l0 0M953 323l9 -1M965 312l0 3M962 322l3 -7M918 297l1 7M927 292l6 7M933 299l-7 8M919 304l7 3M938 315l-11 -5M938 315l5 -5M942 302l-3 -3M939 299l-6 0M927 310l-1 -3M1252 445l-5 -10M1252 445l-10 3M1242 448l-4 -9M1238 439l5 -6M1243 433l4 2M1257 430l-10 5M1256 446l-2 0M1254 446l-2 -1M1241 429l2 4M1229 439l9 0M1229 439l-2 -2M1206 503l4 3M1206 503l-5 5M1201 508l4 4M1205 512l4 -1M1209 511l1 -5M1198 478l4 -9M1198 478l7 4M1205 482l6 -3M1202 469l7 1M1211 479l-2 -9M1212 495l4 9M1212 494l3 -1M1215 493l10 4M1216 504l8 -3M1225 497l-1 4M1206 500l6 -5M1206 500l0 3M1210 506l5 -1M1215 505l1 -1M1226 506l-2 -5M1226 506l-7 6M1219 512l-4 -7M1225 497l10 1M1235 498l2 2M1237 500l-8 8M1229 508l-3 -2M1206 500l-8 -3M1204 488l8 6M1204 488l-6 5M1198 497l0 -4M1194 479l4 -1M1205 482l-1 6M1194 479l-1 10M1198 493l-5 -4M1194 479l-10 4M1182 489l5 2M1193 489l-6 2M1184 483l-2 5M948 535l-9 -1M948 535l3 6M940 545l11 -4M940 545l-3 -3M937 542l2 -8M895 512l5 7M895 512l5 -7M900 519l6 -6M906 513l0 -6M906 507l-3 -2M900 505l3 0M1023 493l-6 5M1023 493l0 -5M1023 488l-2 -1M1021 487l-9 3M1012 490l1 5M1017 498l-4 -3M1028 485l-5 3M1028 499l7 -5M1028 499l-5 -6M1035 494l0 -5M1035 489l-3 -4M995 468l0 -8M995 460l9 -3M1005 459l-2 8M1005 459l-1 -2M995 468l8 -1M990 470l-2 7M990 470l5 -2M995 468l4 10M999 478l-8 1M988 477l3 2M1028 499l0 3M1038 505l2 -7M1038 505l-8 0M1040 498l-5 -4M1030 505l-2 -3M980 497l6 3M980 497l1 -9M989 489l-8 -2M989 489l0 9M989 498l-3 2M971 498l1 -8M971 498l4 2M975 500l5 -3M972 490l9 -2M952 550l-10 3M952 550l1 8M949 562l4 -4M949 562l-8 -8M937 556l-1 5M937 556l4 -2M949 562l-7 5M936 561l6 6M937 556l-7 -3M940 545l2 8M930 549l0 4M930 549l3 -6M933 543l4 -1M1028 412l1 0M1028 412l-4 9M1029 412l8 6M1024 421l4 7M1028 428l5 -5M1034 406l-5 6M984 386l5 8M999 387l-3 6M999 387l-4 -6M989 394l7 -1M1012 394l-10 -7M1012 394l4 -11M1002 387l7 -10M1016 383l-7 -6M999 387l3 0M996 376l9 -4M1005 372l4 4M1009 376l0 1M1021 408l5 -13M1021 408l-4 0M1017 408l-6 -4M1026 395l-14 -1M1011 404l-1 -4M1012 394l-2 6M1032 397l-6 -2M1028 412l-7 -4M1014 420l3 -12M1014 420l10 1M996 393l4 6M1000 399l10 1M1012 394l0 0M1019 433l9 -5M1019 433l2 9M1021 442l1 1M1022 443l7 -2M1029 441l4 -7M1033 434l-5 -6M1035 434l-2 0M1027 453l6 -6M1027 453l0 6M1027 459l11 -3M1033 447l4 1M1021 448l1 -5M1021 448l6 5M1029 441l4 6M1015 453l6 -5M1015 453l3 9M1018 462l1 0M1019 462l8 -3M1025 473l-3 -1M1019 462l3 10M1032 468l-5 -9M1038 466l2 -8M1049 464l-2 5M1047 469l-3 1M1015 453l-5 -2M1005 459l8 4M1004 457l1 -4M1013 463l5 -1M1005 453l5 -2M1021 442l-10 1M1010 451l1 -8M1159 454l0 1M1157 455l2 0M1165 460l-6 -3M1165 460l1 3M1156 467l5 3M1156 467l0 -5M1166 463l-5 7M1156 462l3 -5M1165 460l7 -5M1169 449l3 6M1159 455l0 2M1137 448l0 2M1137 450l4 8M1141 458l3 1M1156 467l-5 3M1151 470l-5 -4M1156 462l-9 -1M1146 466l1 -5M1147 461l-1 -1M993 303l-5 -3M993 303l6 -2M999 301l-2 -6M999 301l2 1M1001 302l1 -1M1004 290l5 1M1002 301l7 -10M1020 318l0 -7M1030 306l-4 0M1026 306l-6 5M1067 320l1 0M1065 316l12 -5M1077 311l3 8M1078 320l2 -1M939 348l9 12M939 348l11 -4M950 360l6 -10M956 350l0 -1M950 344l6 5M1016 323l-8 7M1020 337l-9 1M1011 338l-3 -8M939 348l-2 -13M950 337l0 7M950 337l-9 -4M937 335l4 -2M953 323l-12 3M953 323l1 11M950 337l4 -3M941 333l0 -7M938 315l-1 5M937 320l4 6M1043 481l1 7M1043 481l6 -3M1049 478l4 2M1053 480l-5 8M1048 488l-2 1M1046 489l-2 -1M1035 489l9 -1M1038 478l5 3M1047 469l2 9M1040 498l4 -2M1044 496l2 -7M1063 371l-1 9M1020 382l4 -7M1020 382l6 6M1026 388l5 -5M1031 383l-1 -7M1024 375l6 1M1016 383l4 -1M1026 395l0 -7M1033 384l-2 -1M1033 367l4 -2M1033 367l0 6M1033 373l2 1M1030 376l3 -3M990 369l4 -5M1005 372l-1 -6M1004 366l-10 -2M1024 341l-4 11M1032 354l-7 2M1020 352l5 4M1033 367l-8 -4M1025 356l0 7M1024 375l-4 -7M1025 363l-5 5M1009 376l10 -8M1112 648l-4 -8M1112 648l-10 3M1102 651l-2 -2M1100 649l5 -9M1108 640l-3 0M1124 500l-11 -1M1124 500l-3 9M1121 509l-8 -3M1113 499l-1 6M1102 500l3 -3M1102 500l2 7M1113 499l-1 -1M1104 507l8 -2M1105 497l7 1M1096 500l-1 -9M1096 500l6 0M1095 491l8 -1M1105 497l-2 -7M881 624l2 5M881 624l-8 -4M883 629l-11 9M873 620l-2 1M871 621l-4 9M872 638l-5 -8M768 534l2 7M768 534l-9 -3M770 541l-7 4M763 545l-8 -6M755 539l4 -8M881 703l7 7M881 703l-4 2M883 716l5 -6M883 716l-7 -1M876 715l1 -10M841 658l-10 2M841 658l1 -1M842 657l-1 -5M826 656l5 4M826 656l5 -11M841 652l-10 -7M584 504l-3 10M603 511l0 1M603 512l-14 10M589 522l-8 -8M562 515l3 4M581 514l-16 5M544 539l7 0M544 539l-3 -21M551 539l14 -11M565 519l0 9M502 348l0 7M513 341l13 13M502 355l11 7M513 362l13 -8M548 363l-13 -1M537 341l-8 13M535 362l-6 -8M526 354l3 0M495 372l-1 -8M495 372l-4 4M491 376l-13 0M494 364l-10 -6M484 358l-11 10M478 376l-5 -8M502 355l-8 9M512 375l1 -13M512 375l-17 -3M473 392l5 -16M491 391l3 -3M494 388l-3 -12M482 349l2 9M471 368l2 0M355 242l8 -12M355 242l10 12M375 244l-8 10M375 244l-6 -15M369 229l-6 1M365 254l2 0M342 240l13 2M354 222l9 8M346 265l19 -11M387 263l-17 -4M387 263l6 -17M391 241l-16 3M370 259l-3 -5M377 221l-8 8M367 282l3 -23M367 282l-2 1M305 373l7 -3M305 373l-6 -3M299 370l3 -11M312 370l1 -12M302 359l5 -4M313 358l-6 -3M307 383l-2 -10M327 380l-15 -10M293 372l6 -2M290 356l12 3M331 376l-10 -19M321 357l-8 1M305 346l2 9M330 347l2 -4M330 347l-3 1M327 348l-16 -11M332 343l-3 -13M311 337l13 -11M329 330l-5 -4M341 358l-11 -11M352 335l-20 8M321 357l6 -9M310 337l1 0M344 325l-15 5M322 313l2 13M396 292l4 -13M396 292l-11 4M375 284l16 -14M375 284l10 12M400 279l-4 -7M391 270l5 2M410 302l-14 -10M416 281l-16 -2M383 305l2 -9M367 282l8 2M387 263l4 7M409 259l-13 13M646 831l14 8M673 818l0 3M673 821l-13 18M691 791l4 -4M680 763l15 3M695 787l0 -21M606 772l0 14M606 772l24 -5M634 789l-21 5M634 789l0 -18M613 794l-7 -8M634 771l-4 -4M639 795l-5 -6M613 797l0 -3M652 770l-18 1M604 787l2 -1M638 744l-7 7M631 751l-1 16M542 787l-4 -19M554 789l2 -1M562 775l2 -14M538 768l20 -13M558 755l6 6M521 764l17 4M583 777l3 -12M586 765l-22 -4M541 728l16 21M557 749l1 6M548 718l33 2M557 749l25 -16M582 733l-1 -13M572 692l12 24M584 716l-3 4M599 765l-9 -2M599 765l14 -21M590 763l-2 -25M588 738l22 -2M613 744l-3 -8M586 765l4 -2M606 772l-7 -7M631 751l-18 -7M582 733l6 5M454 622l-32 -11M409 640l0 -9M409 631l13 -20M361 624l12 -11M409 631l-36 -18M376 543l14 14M351 580l22 9M390 557l-17 32M419 544l-9 16M390 557l20 3M373 613l3 -17M373 589l3 7M740 494l12 -3M740 494l-3 -12M737 482l12 0M752 491l-3 -9M753 475l-8 -6M753 475l-4 7M734 480l0 -4M734 480l3 2M707 411l4 9M704 431l4 -2M711 420l-3 9M704 453l14 -12M726 454l0 -9M726 445l-8 -4M708 429l9 6M718 441l-1 -6M710 404l17 10M711 420l15 1M727 414l-1 7M727 428l-10 7M727 428l1 -3M726 421l2 4M770 456l-14 -5M770 456l1 -1M756 451l-2 -4M771 455l1 -10M772 445l-7 -4M765 441l-11 6M770 456l-2 6M754 460l5 6M754 460l2 -9M759 466l9 -4M745 463l9 -3M753 475l4 -1M759 466l-2 8M796 427l-1 12M796 427l-4 -5M791 423l-11 11M795 439l-13 2M780 434l0 6M780 440l2 1M814 426l-1 -10M814 426l-2 3M813 416l-4 -2M812 429l-16 -2M794 418l15 -4M794 418l-2 4M771 455l9 2M772 445l8 -5M780 457l6 -6M786 451l-4 -10M812 429l0 1M801 444l2 -1M801 444l-6 -5M812 430l-9 13M849 430l-9 -3M849 430l1 1M850 431l-3 10M847 441l-8 1M840 427l-5 8M839 442l-4 -7M826 427l4 -5M826 427l3 7M830 422l9 2M839 424l1 3M835 435l-6 -1M898 574l8 8M898 574l2 -3M900 571l8 -1M908 581l-2 1M908 581l3 -8M911 573l-3 -3M896 575l2 -1M896 575l-2 12M894 587l10 -1M904 586l2 -4M920 578l-5 -5M920 578l-4 5M916 583l-8 -2M915 573l-4 0M915 573l4 -6M910 562l-2 8M910 562l7 2M917 564l2 3M882 542l-1 9M882 542l4 -2M886 540l5 7M891 547l-3 6M881 551l3 3M888 553l-4 1M907 558l4 -6M907 558l3 4M920 556l-3 8M920 556l-2 -3M911 552l7 1M930 549l-7 -3M930 553l-5 4M920 556l5 1M918 553l5 -7M898 553l8 5M898 553l-4 4M906 558l-8 7M894 557l1 5M895 562l3 3M907 558l-1 0M900 571l-2 -6M884 567l-2 -4M884 567l11 -5M882 563l2 -9M888 553l6 4M896 575l-10 -2M884 567l1 5M886 573l-1 -1M908 537l2 9M908 537l-9 1M899 538l-1 8M910 546l0 2M910 548l-11 -2M911 552l-1 -4M921 540l-11 6M921 540l2 6M898 553l1 -7M891 547l7 -1M916 583l1 5M906 590l-2 -4M906 590l7 3M913 593l4 -5M1352 347l5 6M1352 347l-5 0M1347 347l-2 7M1357 353l-7 5M1350 358l-5 -4M1358 353l-1 0M1357 338l-5 9M1344 344l3 3M1339 356l6 -2M1350 363l0 -5M1064 369l8 2M1064 381l8 -2M1072 371l0 8M1075 393l4 -10M1072 379l7 4M1081 396l7 -2M1088 394l0 -8M1088 386l-7 -4M1079 383l2 -1M1129 381l2 -1M1135 390l-2 -9M1135 390l-2 3M1133 381l-2 -1M1107 401l-2 4M1107 401l-6 -9M1101 392l-7 5M1102 406l-8 -4M1102 406l3 -1M1094 402l0 -5M1112 411l-7 -6M1114 398l-7 3M1113 389l-12 3M1099 413l3 -7M1088 409l6 -7M1088 394l6 3M1088 386l5 -2M1101 392l0 -2M1093 384l8 6M1249 411l-1 -9M1261 399l-12 2M1249 401l-1 1M1251 387l-3 2M1249 401l-1 -12M1216 444l-6 2M1216 444l1 -2M1205 436l6 -4M1205 436l-1 7M1210 446l-6 -3M1210 457l2 10M1202 469l-3 -5M1199 464l6 -7M1212 467l-3 3M1210 457l-5 0M817 371l-7 12M817 371l0 -2M817 369l-14 -1M810 383l-9 -6M803 368l-3 7M801 377l-1 -2M818 365l-1 4M802 364l1 4M788 372l12 3M814 426l12 1M813 416l9 -5M830 422l-2 -9M822 411l6 2M835 363l1 5M853 370l-7 3M836 368l10 5M857 383l-12 3M846 373l-1 13M716 302l4 10M705 316l12 -1M720 312l-3 3M731 301l-3 10M720 312l8 -1M714 332l6 -8M717 315l3 9M747 348l-5 -4M742 344l-15 3M716 336l9 3M727 347l-2 -8M744 304l-2 11M728 311l7 7M742 315l-7 3M720 324l12 2M735 318l-3 8M742 344l-2 -10M725 339l8 -9M740 334l-7 -4M732 326l1 4M769 351l-4 -9M750 348l5 -6M755 342l10 0M780 323l-12 7M779 340l-10 -3M768 330l1 7M769 337l-4 5M645 225l-10 0M645 225l13 11M633 243l-2 -14M633 243l17 7M631 229l4 -4M658 236l-6 14M650 250l2 0M647 222l-2 3M634 220l1 5M666 233l-8 3M614 230l17 -1M625 254l8 -11M641 266l9 -16M665 259l-13 -9M1297 486l-4 -3M1296 492l-6 3M1290 495l-2 -2M1288 493l1 -7M1293 483l-4 3M1303 480l-1 5M1303 480l-4 -5M1296 475l-4 4M1293 483l-1 -4M1290 495l-7 8M1290 495l5 7M1294 505l1 -3M1294 505l-9 1M1285 506l-2 -3M1288 493l-10 0M1278 493l-1 2M1301 500l-6 2M1315 504l4 5M1309 508l5 8M1314 516l5 -7M1325 558l1 1M1327 559l-1 0M1239 547l1 -4M1230 539l-1 1M1239 548l-5 1M1229 540l5 9M1253 561l-6 -1M1253 561l2 -5M1245 556l2 4M1245 556l4 -5M1255 556l-6 -5M1239 547l10 2M1246 538l5 7M1251 545l-2 4M1239 548l2 8M1245 556l-4 0M1249 549l0 2M1253 561l1 2M1245 570l6 1M1245 570l-1 -6M1244 564l3 -4M1254 563l-3 8M1306 508l-4 5M1294 505l2 4M1296 509l6 4M1285 506l0 5M1296 509l-5 5M1285 511l6 3M1170 532l4 5M1170 532l-6 2M1165 543l7 -1M1172 542l2 -5M1164 534l1 9M1177 570l-3 -5M1177 570l-7 6M1174 565l-7 2M1170 576l-3 -8M1167 568l0 -1M1174 559l1 4M1174 559l-7 -2M1175 563l-1 2M1167 567l-4 -7M1167 557l-4 3M1319 471l4 4M1319 471l-8 4M1323 475l-2 7M1321 482l-9 -1M1311 475l0 4M1311 479l1 2M1326 475l-3 0M1306 469l5 6M1321 483l0 -1M1312 484l0 -3M1303 480l8 -1M1338 486l6 -1M1182 734l0 7M1182 734l9 0M1191 734l2 8M1193 742l-6 2M1182 741l5 3M1171 739l5 -5M1171 739l6 5M1181 733l1 1M1182 741l-5 3M1194 743l-1 -1M1194 743l2 9M1196 752l-8 2M1188 754l-3 -2M1187 744l-2 8M1207 797l1 4M1207 797l2 -4M1209 793l8 2M1217 795l-2 8M1208 801l7 2M1223 806l-7 -2M1223 806l4 -5M1227 801l-7 -7M1217 795l3 -1M1215 803l1 1M1220 792l0 2M1220 792l6 -1M1207 746l5 10M1207 746l-8 8M1199 754l0 1M1199 755l12 4M1212 756l-1 3M1208 746l-7 -6M1201 740l-7 3M1196 752l3 2M1195 764l-8 -4M1195 764l2 -1M1187 760l1 -6M1197 763l2 -8M1221 763l-10 -4M1221 763l4 -4M1220 752l5 7M1220 752l-8 4M1214 769l-4 -7M1217 769l4 -4M1210 762l1 -3M1221 763l0 2M1197 763l2 2M1210 762l-5 3M1199 765l6 0M1211 773l-4 -1M1205 765l2 7M1213 781l-8 -1M1213 781l0 4M1213 785l-5 5M1205 780l0 8M1208 790l-3 -2M1214 780l-1 1M1220 790l-7 -5M1220 790l3 -7M1216 779l7 4M1209 793l-1 -3M1220 790l0 2M1207 797l-6 0M1199 792l2 5M1199 792l2 -3M1201 789l4 -1M1208 746l6 -3M1220 752l0 -2M1220 750l-6 -7M1211 731l-9 3M1211 731l3 11M1202 734l-1 6M1186 761l-1 7M1186 761l1 -1M1195 764l-4 6M1191 770l-3 1M1185 768l3 3M1229 841l8 8M1229 841l0 -7M1229 834l8 -1M1242 843l-4 6M1237 849l1 0M1220 846l9 -5M1237 851l0 -2M1246 851l-8 -2M1227 830l5 -7M1227 830l-8 -2M1219 826l0 2M1219 826l2 -11M1221 815l3 -2M1224 813l5 1M1229 834l-2 -4M1215 834l4 -6M1223 806l1 7M1211 812l5 -8M1211 812l10 3M1219 826l-10 -4M1209 822l2 -10M1206 805l2 -4M1206 805l2 6M1211 812l-3 -1M1213 898l0 -5M1213 893l-6 -4M1101 785l0 4M1101 785l8 -4M1109 781l3 1M1108 792l-6 -1M1108 792l4 -10M1102 791l-1 -2M1142 798l3 -8M1142 798l-7 -5M1135 793l1 -4M1136 789l6 -2M1142 787l3 3M1101 785l-2 -5M1109 781l-2 -6M1099 780l2 -5M1101 775l6 0M1132 661l2 -1M1132 661l-5 -1M1132 651l4 4M1132 651l-9 4M1134 660l2 -5M1127 660l-4 -5M1171 715l-7 2M1172 722l-7 2M1164 717l1 7M1171 715l-1 -7M1164 717l-3 -3M1161 714l6 -7M1170 708l-3 -1M1161 714l-2 0M1156 707l3 7M1156 707l8 -5M1167 707l-3 -5M1160 691l3 0M1160 691l-3 5M1163 691l4 7M1157 696l7 6M1167 698l-3 4M1152 701l2 -4M1152 701l2 5M1157 696l-3 1M1154 706l2 1M1195 715l-5 1M1195 715l8 4M1188 721l2 -5M1188 721l7 8M1195 729l2 0M1197 729l6 -9M1203 720l0 -1M1205 704l4 8M1205 704l-8 3M1197 707l-2 8M1209 712l-6 7M1182 723l6 -2M1191 734l4 -5M1202 734l-5 -5M1211 731l1 -2M1212 729l-9 -9M1144 700l-2 -1M1144 700l8 1M1142 699l2 -6M1154 697l-3 -4M1144 693l7 0M1156 688l4 3M1156 688l-3 1M1153 689l-2 4M1156 688l1 -5M1163 691l2 -3M1165 688l-1 -6M1157 683l7 -1M1153 689l-5 -5M1148 684l6 -4M1157 683l-3 -3M1165 688l9 1M1174 689l0 0M1174 689l-3 -9M1164 682l1 -3M1171 680l-6 -1M1320 655l-1 3M1320 655l4 0M1260 878l2 -1M1264 933l2 -9M1254 923l8 -2M1266 924l-4 -3M1260 881l9 8M1206 677l-3 -6M1206 677l8 -1M1214 667l-10 0M1214 667l0 9M1204 667l-1 4M1225 759l5 0M1230 759l1 -1M1220 750l7 -4M1227 746l6 6M1233 754l0 -2M1298 626l4 -7M1298 626l-2 1M1296 627l-2 -1M1295 614l1 0M1296 614l6 5M1332 610l-6 -2M1332 610l4 -4M1326 603l0 5M1326 603l3 -3M1329 600l4 1M1344 621l0 1M1328 621l-1 -1M1328 621l11 2M1327 620l7 -6M1339 623l-2 -8M1334 614l3 1M1332 610l2 4M1326 608l-2 1M1325 617l-1 -8M1325 617l2 3M1340 613l-3 2M1344 622l-5 1M1326 626l2 -5M1339 623l-3 9M1326 626l10 6M1341 633l-4 0M1307 630l8 5M1307 630l3 -6M1310 624l4 -2M1315 635l1 -1M1316 634l1 -8M1317 626l-3 -4M1306 630l-8 -4M1302 619l8 5M1314 620l0 2M1314 620l-6 -6M1308 614l-6 5M1326 626l-9 0M1324 634l2 -8M1324 634l-8 0M1314 620l3 -2M1317 618l8 -1M1288 610l-5 -7M1288 610l4 -5M1292 605l-1 -5M1291 600l-7 1M1284 601l-1 2M1288 611l0 -1M1299 609l-3 5M1299 609l0 -2M1292 605l7 2M1292 598l-1 2M1292 598l5 1M1299 607l-2 -8M1226 881l-4 4M1226 881l-3 -10M1223 871l-9 1M1220 885l2 0M1220 885l-7 -7M1213 878l1 -6M1234 880l-8 1M1228 894l-6 -9M1227 865l-4 6M1212 869l2 3M1213 893l7 -8M1208 880l5 -2M1101 671l-6 7M1101 671l-2 -4M1095 678l-5 -3M1090 675l0 -5M1099 667l-3 -1M1096 666l-6 4M1085 655l7 -3M1085 655l1 6M1092 652l1 8M1093 660l-7 1M1097 649l3 0M1097 649l-5 2M1103 656l-8 5M1103 656l-1 -5M1092 651l0 1M1093 660l2 1M1018 642l-3 1M1018 642l2 -10M1008 635l3 -3M1008 635l2 6M1010 641l5 2M1011 632l9 0M974 652l3 6M974 652l5 -6M988 657l-1 -6M988 657l-4 3M987 651l-7 -5M984 660l-7 -2M910 828l4 -6M910 828l-2 1M913 818l-10 -2M913 818l1 4M903 816l-1 8M908 829l-6 -5M919 841l1 -5M919 841l-2 1M917 842l-8 -2M920 836l-10 -8M909 840l-3 -7M908 829l-2 4M903 816l-1 -2M902 814l-10 3M891 823l1 -6M891 823l4 3M895 826l7 -2M902 813l-6 -9M902 813l7 -7M896 804l8 -6M904 798l5 8M915 814l-2 -7M915 814l-2 4M902 813l0 1M913 807l-4 -1M896 804l-4 -1M892 817l-4 -5M892 803l-4 9M906 833l-9 3M895 826l1 9M896 835l1 1M891 823l-5 2M886 825l0 11M896 835l-10 1M1098 824l-1 -2M1097 822l4 -8M1101 814l7 0M1108 814l2 10M1108 813l9 3M1117 823l0 -7M1117 823l-6 2M1123 831l-1 -7M1122 824l-5 -1M1140 841l-4 -8M1127 835l9 -2M1136 833l10 -4M1155 836l-9 -7M1077 746l8 6M1077 746l-8 7M1069 753l5 7M1074 760l11 -5M1085 755l0 -3M1062 741l4 -3M1062 741l1 11M1063 752l6 1M1077 746l0 -5M1077 741l-11 -3M1077 741l3 -4M1066 738l1 -9M1067 729l8 -1M1080 737l-5 -9M1017 652l-1 6M1017 652l7 -2M1025 658l1 -6M1025 658l-5 3M1020 661l-4 -3M1024 650l2 2M1014 649l-8 3M1014 649l3 3M1009 660l7 -2M1009 660l-3 -8M1018 642l6 2M1015 643l-1 6M1024 644l0 6M1025 644l7 0M1025 644l3 -9M1028 635l6 4M1034 639l-2 5M1020 631l8 4M1031 652l4 -4M1031 652l4 7M1041 655l-5 4M1041 655l-1 -7M1040 648l-5 0M1035 659l1 0M1026 652l5 0M1032 644l3 4M1031 662l4 -3M1031 662l-6 -4M1038 639l-4 0M1038 639l4 7M1042 646l-2 2M919 841l6 6M920 836l3 -3M933 843l-8 4M933 843l-2 -9M931 834l-8 -1M914 822l9 2M923 833l0 -9M695 520l-7 -3M688 501l15 4M688 501l-4 4M688 517l-4 -12M669 495l9 10M688 495l0 6M678 505l6 0M508 540l2 9M508 540l12 -11M510 549l17 5M520 529l15 15M535 544l-2 7M533 551l-6 3M492 524l4 11M496 535l12 5M519 517l1 12M544 539l-9 5M543 566l-10 -15M543 566l-9 17M534 583l-16 -12M518 571l9 -17M496 535l-8 14M510 549l-8 9M488 549l14 9M474 520l1 33M488 549l-13 4M453 552l-7 -11M453 552l20 3M473 555l2 -2M560 443l-11 -7M548 467l-8 -10M540 457l9 -21M505 432l21 5M505 432l0 -4M520 413l-7 2M520 413l12 4M532 417l5 14M526 437l11 -6M541 405l23 4M541 405l-9 12M564 409l-15 27M537 431l12 5M566 408l-2 1M533 480l-10 -11M540 457l-15 2M523 469l2 -10M505 487l4 -12M523 469l-14 6M526 437l-3 19M523 456l2 3M720 671l3 7M734 668l2 2M723 678l7 4M730 682l6 -7M736 675l0 -5M762 619l4 -7M762 619l3 5M765 624l12 -1M766 612l10 0M777 623l-1 -11M697 537l5 11M716 538l-5 11M702 548l9 1M736 595l-5 14M736 595l-14 0M731 609l-15 -7M722 595l-6 6M716 601l0 1M711 615l5 -13M722 620l8 -3M730 617l1 -7M690 611l8 -12M690 611l6 6M711 597l5 4M618 642l1 -14M649 641l-1 -10M619 628l11 -8M630 620l2 0M632 620l16 11M630 620l-6 -13M624 607l3 -6M643 607l-11 13M643 607l-4 -10M627 601l12 -4M719 499l7 -4M719 499l-10 -3M709 495l10 -12M726 495l0 -10M726 485l-7 -2M715 515l7 -7M704 504l5 -8M722 508l-3 -9M700 485l9 10M711 471l8 12M734 480l-8 5M722 508l7 2M722 524l8 -5M729 510l1 9M723 530l11 2M734 532l3 -8M730 519l7 5M718 537l12 8M734 532l-4 13M779 576l5 12M779 576l-9 3M770 579l3 11M773 590l6 2M779 592l5 -4M895 295l8 -1M895 295l-7 8M905 296l0 11M905 296l-2 -2M888 303l0 3M888 306l11 4M905 307l-6 3M889 285l6 10M903 282l0 12M903 282l-1 -1M879 293l9 10M913 294l-8 2M919 304l-8 6M911 310l-6 -3M916 281l-13 1M887 307l1 -1M899 324l0 -14M884 261l-7 -7M884 261l-8 10M877 254l-10 3M867 257l1 13M868 270l8 1M891 270l-7 -9M894 255l7 2M894 255l-10 6M902 269l-1 -12M879 244l-2 10M894 255l-2 -10M879 277l-3 -6M864 256l3 1M864 274l4 -4M916 281l1 -11M928 285l4 -3M932 282l-5 -15M917 270l10 -3M902 269l12 0M917 270l-3 -1M901 257l4 -3M905 254l8 3M914 269l-1 -12M794 387l-11 -4M794 387l2 5M796 392l-3 10M783 383l-4 12M779 395l10 8M793 402l-2 1M789 403l2 0M781 379l2 4M801 377l-7 10M768 394l3 4M771 398l8 -3M777 412l-7 -9M777 412l12 -9M770 403l1 -5M794 418l-3 -15M806 405l-13 -3M806 405l3 9M776 416l15 7M776 416l1 -4M895 501l2 -8M895 501l5 4M903 505l3 -7M906 498l-4 -6M897 493l5 -1M895 501l-5 1M890 502l-4 -10M897 493l-6 -3M886 492l5 -2M911 483l0 3M911 483l-6 -5M911 486l-8 3M903 489l-4 -8M905 478l-6 3M903 489l-1 3M891 490l1 -5M892 485l7 -4M850 429l-1 -14M850 429l9 -5M849 415l9 5M859 424l-1 -4M849 430l1 -1M839 424l4 -12M849 415l0 -1M849 414l-6 -2M828 413l12 -5M843 412l-3 -4M865 413l6 2M865 413l-6 -7M874 401l-2 14M874 401l-15 0M859 401l0 5M859 424l5 3M858 420l7 -7M864 427l7 -8M871 419l0 -4M849 414l10 -8M871 385l3 15M863 387l-5 12M858 399l1 2M851 397l7 2M851 397l-11 10M840 408l0 -1M922 389l10 4M922 389l-1 1M921 390l-4 11M932 393l1 6M933 399l-10 6M923 405l-4 -1M919 404l-2 -3M932 282l3 0M939 299l2 -11M935 282l6 6M941 288l9 -1M961 278l0 -2M961 276l-13 -2M950 287l-2 -13M912 385l-4 1M912 385l9 5M908 386l-3 9M917 401l-10 -2M905 395l2 4M947 362l-14 3M947 376l-11 -2M933 365l3 9M937 389l-5 4M937 389l-5 -10M922 389l3 -10M925 379l7 0M946 388l-9 1M946 388l1 -2M932 379l4 -5M1017 321l-11 -5M1008 330l-7 -4M1001 326l5 -10M1001 302l0 10M1002 301l10 4M1012 306l0 -1M1012 306l-6 9M1001 312l5 3M1020 311l-8 -5M1006 316l0 -1M1199 419l1 -2M1211 419l2 -1M1213 418l-4 -5M1199 432l6 4M1211 432l-3 -7M1195 419l4 0M1221 419l-8 -1M1177 446l3 4M1172 455l3 1M1180 450l-5 6M1184 442l3 3M1187 445l-4 5M1180 450l3 0M1232 458l2 -5M1232 458l-8 3M1234 453l-5 -5M1229 448l-8 3M1221 451l-1 5M1220 456l4 5M1233 470l3 -5M1233 470l-10 -2M1236 465l-4 -7M1223 468l1 -7M1229 439l0 9M1239 452l-5 1M1239 452l3 -4M1216 444l5 7M1210 457l10 -1M1210 446l0 11M1212 467l11 1M1241 465l4 -6M1241 465l5 7M1253 470l-7 2M1253 470l-1 -11M1245 459l7 0M1239 452l6 7M1236 465l5 0M1262 460l-10 -1M1266 465l-9 7M1257 472l-4 -2M1254 446l-2 13M1233 470l2 6M1246 472l-3 6M1235 476l8 2M1225 497l2 -12M1235 498l2 -9M1227 485l10 4M1234 519l3 -5M1234 519l-6 -3M1228 516l2 -7M1230 509l7 3M1237 514l0 -2M1231 527l-7 -6M1232 526l3 -4M1224 521l0 -3M1224 518l4 -2M1235 522l-1 -3M1224 518l-5 -4M1229 508l1 1M1219 514l0 -2M1237 500l5 3M1242 503l-5 9M1165 543l0 5M1172 542l6 5M1168 551l-3 -3M1168 551l9 -1M1178 547l-1 3M1174 559l4 -6M1168 551l-1 6M1177 550l1 3M1217 486l-5 -7M1217 486l10 -2M1212 479l10 -4M1222 475l5 7M1227 484l0 -2M1215 493l2 -7M1223 468l-1 7M1235 476l-8 6M1022 284l-2 0M1020 284l-4 -4M1009 291l0 -6M1065 305l10 -2M1077 311l0 -3M1075 303l2 5M1113 381l-7 -3M1101 390l4 -12M1106 378l-1 0M1093 384l3 -9M1105 378l-9 -3M1119 377l-5 -8M1106 378l2 -10M1114 369l-6 -1M1119 377l1 -2M1134 381l-1 0M1114 338l1 2M1108 334l-6 5M1104 344l-2 -5M1104 344l6 0M1115 340l-5 4M975 455l5 -5M975 455l0 4M975 459l11 0M980 450l9 4M986 459l3 -3M989 456l0 -2M990 470l-4 -3M995 460l-6 -4M986 467l0 -8M900 441l4 -4M900 441l-7 -4M898 431l-5 6M898 431l6 0M904 437l0 -6M904 431l10 0M904 431l1 -10M914 431l1 -7M905 421l10 3M904 437l6 4M915 432l-2 7M913 439l-3 2M886 540l2 -4M899 538l-3 -3M888 536l8 -1M906 526l4 7M910 533l-2 4M906 526l-9 5M896 535l1 -4M890 502l-2 3M895 512l-7 0M888 512l0 -7M879 497l6 -5M879 497l0 5M886 492l-1 0M888 505l-9 -3M872 494l7 3M872 494l-4 10M868 504l6 4M879 502l-5 6M1002 481l0 -1M1002 481l4 3M1002 480l5 -9M1006 484l9 -6M1015 478l1 -2M1016 476l-7 -5M1009 471l-2 0M994 488l8 -7M994 488l-4 0M999 478l3 2M990 488l1 -9M1003 467l4 4M1007 486l5 4M1007 486l-1 -2M1021 487l-6 -9M1022 472l-6 4M1013 463l-4 8M951 530l-3 5M951 530l-4 -7M939 534l-2 -2M937 532l2 -7M939 525l8 -2M956 529l-5 1M956 529l4 -5M960 524l0 -5M960 519l-9 -3M951 516l-2 2M947 523l2 -5M906 498l8 -1M911 486l1 1M914 497l-2 -10M924 433l2 -3M924 433l0 10M926 430l10 5M924 443l4 1M928 444l8 -6M936 435l0 3M915 432l9 1M920 444l-7 -5M920 444l4 -1M933 451l-5 -7M933 451l-2 5M918 451l2 -7M918 451l6 6M931 456l-7 1M933 451l8 -2M941 449l2 -3M943 446l-7 -8M915 424l3 -4M926 430l1 -3M927 427l-9 -7M923 405l5 9M919 404l-4 9M915 413l3 7M918 420l10 -6M950 440l11 3M950 440l-2 4M948 444l5 8M961 444l0 -1M961 444l-5 8M956 452l-3 0M963 458l-7 -6M963 458l3 -8M966 450l-5 -6M1030 513l-9 0M1030 513l0 -8M1028 502l-8 3M1021 513l-1 -8M1017 498l0 6M1017 504l3 1M984 531l-4 6M984 531l8 2M992 533l2 7M994 540l-7 4M987 544l-7 -7M951 541l2 2M952 550l2 -3M954 547l-1 -4M956 529l7 8M953 543l10 -6M957 506l8 3M957 506l-6 6M960 519l4 -4M965 509l0 1M951 516l0 -4M965 510l-1 5M975 500l2 6M986 500l-2 5M984 505l-7 1M971 498l-4 1M967 499l-2 10M965 510l10 0M977 506l-2 4M929 566l-4 2M929 566l1 0M930 566l6 8M925 568l-1 10M924 578l3 1M927 579l8 -2M936 574l-1 3M925 557l4 9M919 567l6 1M936 561l-6 5M942 570l0 -3M942 570l-6 4M920 578l4 0M917 588l5 2M922 590l5 -5M927 585l0 -6M927 585l8 5M935 590l4 -9M939 581l-4 -4M975 390l4 7M989 394l-2 3M987 397l-8 0M968 393l0 12M970 406l-2 -1M970 406l7 -3M979 397l-2 6M1000 399l-4 7M987 397l2 7M996 406l-7 -2M977 403l7 4M984 407l5 -3M970 449l4 -7M970 449l5 6M980 450l0 -5M980 445l-6 -3M963 440l-2 3M963 440l10 -1M966 450l4 -1M973 439l1 3M1014 420l-1 0M1019 433l-4 -1M1013 420l2 12M989 454l4 -7M980 445l8 -4M988 441l5 6M1005 453l-6 -6M993 447l6 0M1171 472l-9 1M1171 472l4 5M1167 481l-5 -7M1167 481l5 1M1162 474l0 -1M1172 482l3 -5M1172 467l-1 5M1172 467l-6 -4M1161 470l1 3M1161 488l-2 -1M1161 488l6 -7M1159 487l-1 -10M1158 477l4 -3M1158 477l-7 -1M1151 470l0 6M1173 484l9 4M1173 484l-1 -2M1180 476l-5 1M1180 476l4 7M1129 443l-7 9M1137 450l-8 7M1122 452l7 5M1096 451l6 4M1096 451l-6 3M1090 454l4 7M1102 455l-1 7M1101 462l-7 -1M972 263l3 5M972 263l-8 1M964 264l-1 9M963 273l4 1M961 276l2 -3M973 262l-1 1M985 263l0 -1M1022 296l-1 2M1021 298l-6 1M1013 297l-3 -6M1017 289l-7 2M1020 284l-1 2M1026 306l-5 -8M1012 305l3 -6M962 322l3 6M954 334l10 2M965 328l-1 8M956 349l7 -9M963 340l1 -4M984 347l7 3M984 347l2 -8M991 350l7 -9M986 339l5 -2M991 337l5 1M998 341l-2 -3M1001 342l-3 -1M1001 342l9 -4M1001 326l-5 12M976 347l-5 2M976 347l4 2M980 349l2 10M971 349l-4 6M972 363l9 -3M972 363l-4 -4M981 360l1 -1M968 359l-1 -4M963 340l8 9M964 336l11 1M975 337l1 10M975 337l3 -3M978 334l8 5M984 347l-4 2M993 356l-11 3M993 356l-2 -6M956 350l11 5M973 368l-1 -5M987 369l-6 -9M960 364l8 -5M994 364l-1 -8M977 321l0 5M977 321l6 -7M977 326l1 2M978 328l10 0M983 314l7 1M988 328l5 -5M993 323l-3 -8M965 315l12 6M965 328l12 -2M982 312l1 2M978 334l0 -6M991 337l-3 -9M993 303l-3 12M1001 326l-8 -3M1001 312l-11 3M939 348l-3 1M936 349l-13 -3M923 346l1 -7M937 335l-7 -1M924 339l6 -5M937 320l-10 4M930 334l-3 -10M1087 453l-1 -7M1087 453l-7 1M1086 446l-7 -5M1079 441l-1 1M1080 454l-3 -4M1075 431l5 7M1080 438l-1 3M1047 469l10 2M1054 480l-1 0M1054 480l4 -7M1058 473l-1 -2M1056 462l2 1M1057 471l1 -8M1062 460l0 1M1058 463l4 -2M1067 495l0 -3M1067 495l-8 0M1067 492l-7 -7M1059 495l-1 -6M1058 489l2 -4M1058 497l-6 0M1058 497l1 -2M1052 497l-1 -6M1051 491l7 -2M1054 480l6 5M1051 491l-3 -3M1095 430l7 6M1095 430l-6 2M1089 432l-1 2M1088 434l5 8M1102 437l-3 5M1093 442l4 1M1097 443l2 -1M1097 424l-2 6M1107 426l-5 10M1083 423l6 9M1080 438l8 -4M1086 446l7 -4M1115 442l-1 2M1113 438l-11 -1M1114 444l-7 4M1107 448l-8 -6M1087 453l0 1M1087 454l3 0M1096 451l1 -8M1107 452l0 -4M1107 452l-5 3M1005 364l-3 -9M1005 364l7 -2M1012 362l3 -10M1004 352l-2 3M1004 352l11 0M1004 366l1 -2M993 356l9 -1M1019 368l-7 -6M1020 352l-5 0M1001 342l3 10M1010 338l5 14M1100 596l4 -3M1100 596l1 6M1104 593l6 5M1110 598l-5 6M1101 602l4 2M1090 675l-6 3M1084 678l-5 -4M1079 674l0 -2M1090 670l-5 -4M1079 672l6 -6M1081 653l4 2M1081 653l-4 2M1086 661l-1 2M1077 655l-2 5M1075 660l10 3M1096 666l-1 -5M1085 663l0 3M1027 623l-6 6M1027 623l6 6M1021 629l-1 2M1028 635l5 -6M1093 626l-3 -5M1093 626l-3 4M1086 629l4 1M1086 629l-1 -5M1085 624l5 -3M1113 632l-6 -3M1113 632l4 -2M1117 630l-3 -8M1114 622l-7 4M1107 626l0 3M1112 483l6 -3M1112 483l-1 4M1111 487l4 4M1118 480l3 5M1121 485l-3 5M1115 491l3 -1M1102 483l2 5M1102 483l5 -5M1107 478l5 5M1104 488l7 -1M1104 488l-1 2M1112 498l3 -7M1128 484l-7 1M1128 484l2 2M1130 486l-6 8M1124 494l-6 -4M1124 500l2 -2M1126 498l-2 -4M1157 487l2 0M1157 487l-7 -3M1151 476l-1 1M1150 484l0 -7M1146 466l-5 5M1141 471l4 5M1150 477l-5 -1M1126 498l5 2M1131 500l2 -1M1130 486l3 0M1133 499l1 -10M1133 486l1 3M1150 484l-5 3M1145 476l-4 6M1141 482l4 5M1087 578l3 -3M1087 578l1 5M1088 583l7 0M1090 575l5 4M1095 579l0 4M1090 575l0 -3M1099 571l-6 -1M1099 571l2 2M1095 579l6 -6M1090 572l3 -2M1099 571l3 -9M1102 562l-3 -1M1099 561l-7 2M1093 570l-1 -7M1039 506l-1 -1M1039 506l0 8M1030 513l1 2M1039 514l-8 1M1093 553l-3 2M1093 553l3 1M1096 554l3 7M1092 563l-4 -2M1090 555l-2 6M1090 572l-6 -3M1084 567l0 2M1084 567l3 -6M1087 561l1 0M1058 497l2 6M1052 497l-2 3M1060 503l-5 2M1055 505l-5 -5M1039 506l7 0M1044 496l6 4M1046 506l4 -6M1055 505l0 4M1046 506l3 4M1049 510l6 -1M1100 596l-3 -1M1097 595l-2 -6M1095 589l2 -4M1104 593l1 -3M1097 585l3 0M1105 590l-5 -5M828 589l-3 3M828 589l7 -1M825 592l3 6M835 588l5 5M840 593l-5 7M828 598l7 2M848 605l-12 -2M848 605l3 -6M851 599l-4 -7M847 592l-7 1M835 600l1 3M794 597l7 -2M794 597l-7 -9M787 588l8 -9M802 589l-1 6M802 589l-6 -10M812 598l5 -6M812 598l-5 1M807 599l-6 -4M809 584l6 2M809 584l-7 5M815 586l2 6M807 576l-11 3M807 576l2 8M779 635l3 -8M779 635l-7 2M765 624l-1 4M777 623l5 3M764 628l8 9M845 630l-11 -3M845 630l5 -6M850 624l-8 -6M842 618l-8 9M849 608l-7 7M849 608l-1 -3M836 603l-3 8M842 615l-9 -4M863 618l-2 -7M863 618l-9 6M854 623l-1 -12M853 611l8 0M859 630l-5 -6M859 630l8 0M871 621l-8 -3M859 630l-2 6M845 630l2 8M850 624l4 -1M857 636l-10 2M849 608l4 3M842 618l0 -3M733 564l-8 2M733 564l2 -6M719 557l10 -7M719 557l6 9M735 558l-6 -8M734 532l11 5M745 537l-7 9M738 546l-8 0M719 557l-4 0M715 557l-4 -8M729 550l1 -4M744 619l6 3M744 619l-8 5M740 632l11 -2M740 632l-4 -5M751 630l-1 -8M736 627l0 -3M753 611l4 7M753 611l-8 -2M745 609l-1 0M744 609l0 10M757 618l-7 4M730 617l6 7M731 610l13 -1M757 618l5 1M755 634l9 -6M755 634l-4 -4M727 632l9 -5M769 601l-5 5M769 601l-2 -7M767 594l-7 -3M759 604l5 2M759 604l-4 -7M760 591l-4 3M755 597l1 -3M776 612l0 -9M776 603l-7 -2M766 612l-2 -6M780 600l-4 3M780 600l-1 -8M773 590l-6 4M770 579l-2 -1M768 578l-8 6M760 584l0 7M753 611l6 -7M745 609l1 -7M746 602l9 -5M781 572l2 0M781 572l-2 4M784 588l3 0M795 579l-1 -2M794 577l-11 -5M807 576l0 -1M807 575l-1 -7M794 577l4 -13M806 568l-8 -4M835 588l3 -8M838 580l3 -1M847 592l2 -5M841 579l8 8M773 699l-1 -2M773 699l-7 9M758 705l8 3M758 705l4 -9M772 697l-10 -1M772 697l0 -9M762 696l-2 -5M760 691l8 -7M772 688l-4 -4M797 679l-12 2M797 679l3 10M800 689l-10 4M784 685l1 -4M784 685l2 6M790 693l-4 -2M773 699l5 1M772 688l12 -3M786 691l-8 9M777 714l1 -13M777 714l-8 2M766 708l3 8M778 700l0 1M881 703l5 -8M877 705l-7 -4M870 701l-1 -7M869 694l9 -5M878 689l7 3M885 692l1 3M826 656l-3 0M823 656l-4 5M831 660l-2 9M819 661l0 7M829 669l-10 -1M833 674l-4 6M833 674l9 -2M829 680l6 8M842 672l1 1M843 673l1 12M835 688l9 -3M841 658l1 14M829 669l4 5M842 657l9 1M841 652l6 -9M847 643l9 6M851 658l5 -9M849 688l7 -8M849 688l-5 -3M843 673l9 -1M856 680l-4 -8M851 658l6 7M852 672l5 -7M589 522l0 1M578 538l-13 -10M589 523l-10 15M513 377l17 0M513 377l-3 13M510 390l1 1M511 391l11 5M522 396l14 -5M530 377l7 11M536 391l1 -3M512 375l1 2M535 362l-5 15M494 388l16 2M505 404l6 -13M520 413l2 -17M541 405l-5 -14M556 381l-19 7M695 787l18 -3M705 760l11 15M705 760l-10 6M716 775l-3 9M606 700l-5 10M606 700l24 11M601 710l11 19M612 729l18 -7M630 711l0 11M606 699l0 1M584 716l17 -6M639 703l-9 8M610 736l2 -7M640 733l-10 -11M410 561l-4 32M410 561l31 15M442 580l-20 30M442 580l-1 -4M422 610l-16 -17M410 560l0 1M376 596l30 -3M453 552l-12 24M457 587l8 24M457 587l-15 -7M422 611l0 -1M457 587l20 -13M473 555l4 19M755 396l0 11M770 403l-12 7M755 407l3 3M732 405l-1 6M732 405l8 -6M731 411l10 3M741 414l5 -7M740 399l6 8M722 396l10 9M727 414l4 -3M741 395l-1 4M755 407l-9 0M738 457l3 -7M754 447l-2 -1M752 446l-11 4M726 445l8 -5M741 450l-7 -10M727 428l7 12M796 482l-7 2M796 482l4 6M800 488l-2 9M798 497l-3 2M795 499l-11 -3M789 484l-5 12M778 506l5 -10M778 506l12 5M795 499l-1 9M794 508l-4 3M770 530l7 -1M770 530l-3 -9M779 521l-2 8M779 521l-4 -5M775 516l-8 5M779 521l9 0M788 521l1 0M789 521l1 -10M778 506l-3 1M775 516l0 -9M768 534l2 -4M759 531l-2 -4M757 527l7 -7M764 520l3 1M807 487l7 6M807 487l4 -7M819 490l-5 3M819 490l1 -9M820 481l-9 -1M819 490l8 3M824 479l7 9M824 479l-1 -1M823 478l-3 3M827 493l3 -3M831 488l-1 2M814 496l5 6M814 496l-7 5M807 501l1 6M808 507l6 3M814 510l5 -3M819 507l0 -5M814 493l0 3M827 493l0 7M827 500l-8 2M800 488l7 -1M798 497l9 4M802 513l-8 -5M802 513l6 -6M815 518l-1 -8M815 518l4 2M819 520l4 -1M819 507l6 4M823 519l2 -8M831 503l-4 -3M831 503l-2 6M825 511l4 -2M826 456l12 -5M826 456l10 10M838 451l4 5M842 456l-6 10M838 451l-1 -6M847 441l1 1M837 445l2 -3M848 442l1 13M849 455l-2 1M842 456l5 0M906 590l-4 7M902 597l-4 1M893 588l4 9M886 573l-1 10M885 583l6 5M893 588l-2 0M888 617l-6 -9M888 617l-7 7M873 620l1 -6M882 608l-8 6M885 572l-9 3M876 575l-2 6M885 583l-5 2M874 581l6 4M906 526l6 -5M906 526l-6 -7M906 513l5 4M911 517l1 4M914 533l5 -7M914 533l7 6M919 526l8 4M921 539l4 -2M925 537l3 -6M928 531l-1 -1M910 533l4 0M919 523l-7 -2M919 523l0 3M921 540l0 -1M930 520l-3 10M930 520l-8 -1M922 519l-3 4M933 543l-8 -6M937 532l-9 -1M913 627l-4 5M913 627l-5 -8M909 632l-11 -5M907 619l-9 6M898 625l0 2M897 610l-4 6M897 610l2 -1M893 616l5 9M899 609l4 1M903 610l4 9M888 632l-5 -3M888 632l6 -1M894 631l4 -4M888 617l5 -1M921 640l1 0M921 640l-5 1M922 640l0 -5M913 627l3 0M909 632l0 2M922 635l-6 -8M916 641l-7 -7M914 609l8 -2M914 609l-5 -3M910 602l-1 4M910 602l4 -5M914 597l8 3M922 600l1 5M923 605l-1 2M915 616l-1 -7M915 616l-7 3M903 610l6 -4M899 609l-1 -11M902 597l8 5M913 593l1 4M924 595l-2 -5M924 595l-2 5M924 595l10 0M935 590l0 2M934 595l1 -3M1238 414l-3 -4M1248 402l-8 -1M1235 410l5 -9M1203 443l-4 9M1203 443l-10 -2M1193 441l-3 3M1190 444l4 9M1194 453l5 -1M1205 457l-6 -5M1204 443l-1 0M1192 436l1 5M1187 445l3 -1M851 397l-7 -10M840 407l-7 -11M833 396l11 -9M817 371l11 7M836 368l-5 9M828 378l3 -1M831 377l13 9M844 387l0 -1M747 318l3 11M747 318l13 -4M762 326l-8 5M762 326l0 -10M750 329l4 2M762 316l-2 -2M742 315l5 3M740 334l10 -5M760 306l0 8M755 342l-1 -11M768 330l-6 -4M774 315l-12 1M809 243l-12 0M809 243l1 -10M797 243l0 -10M796 251l0 -7M811 247l-2 -4M796 244l1 -1M728 231l9 0M1279 486l3 -2M1279 486l-6 -4M1282 484l1 -8M1273 482l-1 -6M1272 476l9 -4M1281 472l2 4M1278 493l1 -7M1289 486l-7 -2M1292 479l-9 -3M1266 465l4 11M1281 470l0 2M1270 476l2 0M1335 504l-6 2M1331 511l-2 -5M1325 502l2 4M1319 509l5 0M1324 509l3 -3M1329 506l-2 0M1323 576l-3 2M1319 568l-2 4M1319 568l5 0M1320 578l-3 -6M1320 580l3 1M1320 580l0 -2M1326 559l-2 8M1182 573l6 1M1182 573l-1 6M1188 574l5 5M1193 579l-1 2M1192 581l-7 4M1185 585l-4 -6M1232 551l2 -2M1232 551l2 6M1241 556l-3 2M1234 557l4 1M1244 564l-5 -2M1239 562l-1 -4M1197 590l-5 3M1197 590l4 7M1192 593l0 7M1192 600l5 2M1201 597l-4 5M1261 554l-1 -6M1261 554l8 -1M1269 553l2 -3M1271 550l-5 -6M1260 548l2 -3M1266 544l-4 1M1255 556l6 -2M1251 545l9 3M1258 537l-7 8M1258 537l4 8M1271 508l-6 5M1272 508l7 7M1265 513l0 3M1265 516l0 1M1265 517l8 4M1273 521l6 -6M1285 511l-6 4M1314 516l-9 1M1314 516l2 3M1316 519l-6 7M1310 526l-5 -3M1305 523l0 -6M1305 517l-3 -4M1170 578l-9 -1M1170 578l0 -2M1167 568l-7 3M1161 577l-1 -6M1110 598l2 0M1105 590l6 -3M1115 591l-4 -4M1115 591l0 4M1115 595l-3 3M1114 622l0 0M1107 626l-5 -4M1102 622l5 -6M1114 622l-7 -6M1223 783l3 -1M1195 775l-2 5M1195 775l4 -2M1199 773l4 2M1193 780l2 3M1203 775l1 4M1204 779l-8 4M1196 783l-1 0M1191 770l4 5M1187 780l6 0M1187 780l-1 -3M1188 771l-2 6M1199 765l0 8M1207 772l-4 3M1205 780l-1 -1M1201 789l-5 -6M1221 765l5 5M1230 759l1 2M1228 768l-2 2M1220 774l5 0M1226 770l-1 4M1225 774l1 1M1239 742l-6 -3M1227 746l0 -3M1233 739l-6 4M1214 742l7 -3M1227 743l-6 -4M1185 752l-8 0M1177 744l-1 5M1177 752l-1 -3M1171 739l-3 0M1168 739l-1 10M1176 749l-9 0M1156 752l5 -4M1156 752l1 4M1157 756l6 2M1163 758l3 -3M1161 748l5 1M1166 755l0 -6M1161 748l-2 -7M1159 741l8 -2M1168 739l-1 0M1163 762l0 -4M1163 762l5 3M1166 755l5 3M1168 765l3 -7M1177 752l-1 4M1171 758l5 -2M1186 761l-8 -1M1178 760l-2 -4M1185 783l2 6M1185 783l2 -3M1195 783l-3 5M1187 789l5 -1M1199 792l-4 0M1195 792l-3 -4M1180 775l1 -6M1180 775l-4 3M1176 778l-3 -3M1173 775l0 -8M1181 769l-5 -3M1176 766l-3 1M1185 768l-4 1M1186 777l-6 -2M1178 760l-2 6M1169 766l4 1M1169 766l-1 -1M1163 773l6 -7M1173 775l-7 1M1166 776l-3 -3M1166 781l-5 4M1166 781l0 -5M1158 778l5 -5M1158 778l3 6M1152 783l3 -6M1152 783l2 4M1155 777l3 1M1161 784l-7 3M1152 783l-5 -2M1147 781l-4 3M1143 784l-1 3M1150 790l4 -2M1150 790l-5 0M1206 835l-3 -5M1209 822l-3 1M1203 830l3 -7M1099 780l-10 0M1101 775l-4 -7M1097 768l-8 4M1089 780l0 -8M1155 777l-3 -4M1147 781l0 -5M1147 776l5 -3M1118 790l-10 2M1118 790l-1 -3M1112 782l1 0M1117 787l-4 -5M1132 795l-6 -5M1132 795l3 -2M1126 790l1 -1M1136 789l-3 -3M1127 789l6 -3M1121 793l5 -3M1121 793l-3 -3M1117 787l6 -5M1127 789l-4 -7M1143 784l-4 -4M1147 776l-5 -2M1139 780l3 -6M1133 786l0 -6M1139 780l-6 0M1119 798l3 6M1119 798l-8 2M1111 800l-1 3M1120 809l-9 -3M1120 809l2 -5M1110 803l1 3M1108 792l3 8M1121 793l-1 2M1120 795l-1 3M1099 802l-1 -1M1099 802l11 1M1098 801l4 -10M1108 813l3 -7M1117 816l5 -4M1122 812l-2 -3M1099 802l-1 9M1098 811l3 3M1107 775l3 -3M1097 768l1 -3M1110 772l-1 -6M1109 766l-1 -1M1108 765l-10 0M1088 759l-3 9M1088 759l8 1M1089 772l-4 -4M1096 760l2 5M1123 665l4 -5M1123 665l-3 0M1120 665l-4 -4M1116 661l6 -6M1123 654l-1 1M1094 684l0 9M1094 684l-10 1M1094 693l-9 2M1084 685l0 8M1084 693l1 2M1095 678l1 3M1084 684l0 -6M1084 684l0 1M1096 681l-2 3M1119 674l-3 6M1119 674l-2 -3M1111 670l6 1M1111 670l-3 3M1116 681l-8 -8M1171 730l-6 0M1165 724l-1 1M1164 725l1 5M1167 739l-2 -8M1165 730l0 1M1154 706l-7 5M1158 715l1 -1M1158 715l-9 0M1149 715l-2 -4M1144 700l0 11M1144 711l3 0M1174 689l-1 8M1167 698l5 -1M1173 697l-1 0M1144 692l3 -8M1144 692l-6 -4M1147 684l-8 -1M1138 688l1 -5M1144 693l0 -1M1142 674l4 0M1142 674l-5 4M1137 678l2 5M1146 674l2 10M1142 699l-3 0M1139 699l-4 -3M1138 688l-1 1M1137 689l-2 7M1128 699l1 -3M1128 699l-5 3M1123 702l-4 -2M1119 700l1 -7M1120 693l7 -1M1129 696l-2 -4M1139 668l-8 2M1139 668l3 6M1137 678l-4 0M1133 678l-2 -8M1119 674l3 0M1123 665l3 5M1120 665l-3 6M1122 674l4 -4M1132 661l-2 9M1126 670l4 0M1139 668l1 -2M1140 666l-6 -6M1146 674l1 0M1154 680l1 -5M1147 674l8 1M1165 679l-9 -5M1156 674l-1 1M1140 666l4 -2M1136 655l3 0M1139 655l5 2M1144 664l0 -7M1147 674l3 -8M1144 664l6 2M1139 655l3 -7M1142 648l3 0M1151 653l-6 -5M1151 653l-1 2M1144 657l6 -2M1215 665l-1 2M1215 665l-6 -9M1204 667l-2 -6M1202 661l7 -5M1174 689l3 -1M1173 697l8 1M1181 698l3 -4M1184 694l-7 -6M1205 704l1 -2M1191 702l6 5M1191 702l0 -2M1206 702l-2 -5M1191 700l5 -5M1196 695l8 2M1181 643l6 0M1181 643l-4 9M1187 643l2 9M1189 652l-10 3M1179 655l-2 -3M1169 649l1 -8M1169 649l8 3M1170 641l10 1M1187 642l1 -11M1187 642l10 -1M1198 638l-1 3M1198 638l-6 -9M1192 629l-4 2M1203 637l2 -6M1203 637l-5 1M1205 631l-3 -4M1193 629l9 -2M1275 937l4 -10M1266 924l9 -2M1275 922l4 5M1286 930l-3 -3M1279 927l4 0M1283 927l3 -2M1256 908l6 0M1251 892l9 4M1262 908l-2 -12M1269 889l0 2M1260 896l9 -5M1269 663l-6 3M1276 666l-2 8M1274 674l-7 -1M1267 673l-4 -7M1246 674l2 7M1246 674l-6 0M1238 677l2 -3M1238 677l4 10M1248 681l-6 6M1239 742l1 -1M1233 739l-2 -6M1241 730l1 7M1241 730l-3 -2M1238 728l-7 5M1275 676l-1 -2M1275 676l-3 6M1267 673l-3 5M1264 678l2 6M1272 682l-6 2M1329 593l-1 1M1326 587l2 7M1329 600l-1 -5M1328 595l0 -1M1320 580l-3 2M1326 587l-7 3M1317 582l2 8M1329 648l-6 -4M1323 644l3 -7M1326 637l8 0M1320 655l-2 -3M1322 645l-4 7M1324 634l2 3M1337 633l-3 4M1293 576l1 7M1293 576l-9 1M1294 583l-5 2M1289 585l-2 0M1287 585l-3 -7M1284 577l0 1M1269 553l3 5M1271 550l5 -3M1280 552l-4 -5M1280 552l-2 5M1278 557l-6 1M1287 585l-4 3M1278 584l2 4M1278 584l2 -5M1280 579l4 -1M1283 588l-3 0M1291 593l-2 -8M1291 593l0 0M1291 593l-7 1M1283 588l1 6M1291 593l1 5M1284 601l-1 -5M1283 596l1 -2M1280 588l-4 5M1283 596l-7 -2M1276 594l0 -1M1307 589l-3 8M1307 589l-3 -2M1304 587l-5 2M1301 596l3 1M1301 596l-3 -6M1298 590l1 -1M1310 579l-6 3M1310 579l2 3M1304 582l0 5M1310 589l2 -7M1310 589l-3 0M1296 583l4 -3M1296 583l3 6M1304 582l-4 -2M1299 607l7 -5M1297 599l4 -3M1306 602l-1 -4M1305 598l-1 -1M1291 593l7 -3M1294 583l2 0M1276 636l7 5M1276 636l-5 4M1271 640l1 5M1272 645l8 1M1280 646l3 -3M1283 643l0 -2M1287 636l-2 -7M1287 636l-4 5M1285 629l-9 4M1276 633l0 3M1269 654l-2 -3M1279 654l1 -8M1267 651l5 -6M1282 622l-5 -1M1276 633l-4 -4M1277 621l-5 8M1082 647l5 -2M1082 647l-5 -3M1077 644l1 -5M1078 639l4 -2M1087 645l1 -6M1082 637l6 2M1081 653l1 -6M1092 651l-5 -6M1082 632l0 5M1082 632l-6 -4M1072 634l4 -6M1072 634l6 5M1097 649l-2 -7M1095 642l-7 -3M1086 629l-4 3M1090 630l2 4M1092 634l-4 5M984 660l0 11M977 658l-4 7M984 671l-6 2M978 673l-5 -8M973 652l-9 5M964 657l3 7M973 665l-6 -1M975 676l-10 -3M975 676l3 -3M967 664l-3 5M965 673l-1 -4M973 652l-8 -9M962 657l2 0M962 657l-2 -7M960 650l5 -7M964 630l-7 3M957 633l0 6M967 640l-3 -10M967 640l-2 3M957 639l8 4M979 646l-4 -8M967 640l8 -2M964 630l9 -1M975 638l1 -3M973 629l2 1M975 630l1 5M894 775l11 -8M894 775l-1 1M893 776l2 4M895 780l9 1M904 781l5 -11M909 770l-4 -3M906 784l9 -1M906 784l-2 -3M915 783l3 -5M918 778l-4 -8M914 770l-5 0M931 795l-4 -7M931 795l-6 8M927 788l-8 2M925 803l-6 -2M919 801l-2 -7M919 790l-2 4M905 795l-1 3M905 795l12 -1M913 807l6 -6M906 784l-1 9M905 793l0 2M915 783l4 7M905 793l-12 -3M892 803l-2 -1M890 802l3 -12M895 780l-4 8M893 790l-2 -2M890 802l-10 -2M884 788l7 0M884 788l-5 9M879 797l1 3M909 840l-6 6M897 836l2 10M903 846l-4 0M917 842l-5 11M903 846l9 7M916 857l-4 -2M925 847l0 8M912 855l0 -2M881 813l-5 -7M881 813l-2 9M879 822l-3 1M876 806l-7 1M876 823l-2 0M874 823l-7 -12M867 811l2 -4M888 812l-7 1M880 800l-4 6M886 825l-7 -3M877 837l7 1M877 837l-1 -14M886 836l-2 2M877 838l-11 -2M866 836l-2 -8M864 828l10 -5M884 879l-4 0M880 879l-8 8M812 977l2 -4M828 979l-3 -9M814 973l11 -3M825 970l1 -2M802 972l-2 -2M800 970l-1 1M814 973l-3 -9M825 965l-7 -4M818 961l-7 3M1028 872l0 2M1028 872l5 -4M1033 868l5 0M1038 868l1 1M1150 790l1 7M1158 794l-4 -6M1158 794l-1 5M1151 797l6 2M1162 802l0 6M1162 802l-5 -2M1162 808l-2 3M1152 806l5 -6M1152 806l3 6M1160 811l-5 1M961 681l7 2M961 681l-2 10M968 683l2 9M959 691l6 4M970 692l-5 3M975 676l-7 7M960 680l5 -7M960 680l1 1M972 692l8 -7M972 692l8 8M980 700l8 -11M980 685l7 3M987 688l1 1M975 676l5 9M970 692l2 0M985 671l5 10M990 681l-3 7M1084 684l-9 0M1079 674l-6 6M1073 680l2 4M1021 666l-3 4M1021 666l-1 -5M1009 660l-1 3M1018 670l-10 -7M1067 711l-8 1M1067 711l3 7M1064 724l6 -6M1064 724l-7 -7M1059 712l-2 5M1056 705l-4 -1M1056 705l3 7M1057 717l-5 1M1052 718l-5 -3M1047 715l1 -9M1048 706l4 -2M929 784l8 0M929 784l-3 -5M926 779l3 -5M929 774l12 -1M937 784l5 -7M941 773l1 4M918 778l8 1M927 788l2 -4M914 770l3 -3M917 767l9 0M926 767l3 7M930 762l11 5M930 762l-4 5M941 767l0 6M926 805l9 2M926 805l-2 8M935 807l2 9M924 813l4 6M937 816l-6 4M928 819l3 1M915 814l9 -1M925 803l1 2M923 824l5 -5M931 834l5 -4M936 830l-5 -10M941 767l2 -2M956 775l-3 -10M956 775l-10 3M946 778l-4 -1M943 765l10 0M936 830l4 1M947 820l-4 -3M947 820l0 1M943 817l-6 -1M940 831l7 -10M957 862l0 -1M967 860l-8 -1M959 859l-2 2M488 585l18 2M488 585l-5 -8M483 577l19 -13M506 587l6 -15M512 572l-10 -8M517 605l-11 -18M483 612l5 -27M477 574l6 3M502 558l0 6M534 583l-15 22M518 571l-6 1M499 461l5 -8M499 461l-18 5M474 458l7 8M474 458l11 -18M485 440l15 -1M500 439l4 14M509 475l-10 -14M523 456l-19 -3M481 477l0 -11M464 456l10 2M477 430l8 10M505 432l-5 7M701 681l9 10M723 678l-13 13M686 702l19 6M710 691l-5 17M746 680l-10 -5M746 680l3 -12M736 670l10 -4M749 668l-3 -2M739 655l5 1M739 655l-4 -11M749 644l-3 11M749 644l-10 -4M744 656l2 -1M735 644l4 -4M733 659l6 -4M746 666l-2 -10M727 644l8 0M749 668l9 -1M758 667l-2 -11M756 656l-10 -1M740 632l-1 8M759 653l-4 -11M759 653l8 -1M769 643l-14 -2M769 643l1 7M755 642l0 -1M767 652l3 -2M756 656l3 -3M749 644l6 -2M755 634l0 7M772 637l-3 6M782 640l-3 -5M782 640l-2 13M780 653l-10 -3M690 611l-1 0M694 587l-7 -3M689 611l-8 -20M687 584l-6 7M710 577l-3 6M710 577l-5 -8M705 569l-11 -3M687 584l-1 -7M686 577l5 -9M691 568l3 -2M705 569l10 -12M702 548l-8 7M694 566l0 -11M693 535l-6 2M687 537l-5 8M694 555l-12 -10M746 602l-7 -6M736 595l3 1M756 594l-9 -6M739 596l8 -8M760 584l-6 -4M754 580l-7 5M747 588l0 -3M640 585l2 6M640 585l8 -14M642 591l13 2M648 571l3 0M651 571l11 11M655 593l7 -11M686 577l-15 -3M681 591l-7 1M671 574l-6 7M674 592l-9 -11M617 505l4 2M603 512l7 12M610 524l10 -2M620 522l1 -15M627 481l5 22M632 503l-11 4M619 628l-14 -12M624 607l-13 1M611 608l-6 7M605 616l0 -1M598 640l-5 -12M605 616l-12 12M570 633l13 -8M583 625l10 3M534 583l21 11M529 615l27 -12M555 594l1 9M560 629l0 -23M556 603l4 3M611 608l-2 -13M627 601l-8 -11M609 595l10 -5M731 509l9 2M731 509l2 -11M739 496l6 9M739 496l-6 2M745 505l-5 6M726 495l7 3M729 510l2 -1M740 494l-1 2M738 523l4 -8M738 523l11 4M742 515l9 2M751 517l0 9M749 527l2 -1M740 511l2 4M746 537l3 -10M755 539l-5 1M746 537l4 3M757 527l-6 -1M766 575l-8 -5M766 575l4 -12M758 570l0 -9M758 561l8 -2M770 563l-4 -4M768 578l-2 -3M754 580l-1 -6M753 574l5 -4M781 572l-5 -8M776 564l-6 -1M755 551l3 10M755 551l-5 -1M758 561l-11 1M750 550l-5 2M745 552l-1 5M747 562l-3 -5M762 546l-7 5M762 546l5 11M767 557l-1 2M758 561l0 0M750 540l0 10M738 546l7 6M735 558l9 -1M928 266l-2 -9M928 266l-1 1M913 257l4 -3M917 254l9 3M865 486l-5 -3M865 486l1 6M866 492l-7 5M857 485l3 -2M857 485l-2 8M855 493l2 3M859 497l-2 -1M872 494l-6 -2M868 504l-1 0M867 504l-8 -7M851 482l6 3M851 482l-7 4M844 486l0 5M844 491l11 2M872 494l4 -9M885 492l-6 -7M876 485l3 0M865 486l6 -3M876 485l-5 -2M859 460l-9 -5M859 460l5 -8M850 455l10 -8M864 452l-4 -5M848 442l11 1M859 443l1 4M849 455l1 0M950 414l7 -1M950 414l-6 -10M957 413l4 -7M944 404l4 -4M948 400l9 0M957 400l4 6M946 388l2 12M939 405l-6 -6M939 405l5 -1M961 390l-4 10M968 405l-7 1M970 406l3 9M957 413l6 8M973 415l-10 6M928 266l6 -1M928 253l-2 4M934 265l5 -6M935 282l9 -9M934 265l10 8M948 274l-1 -2M944 273l3 -1M907 399l-5 8M915 413l-8 0M902 407l5 6M905 421l2 -8M936 349l-4 12M923 346l-4 4M919 350l3 6M922 356l10 5M932 361l1 4M887 374l3 -3M887 374l1 10M890 371l11 3M888 384l6 1M894 385l7 -6M901 379l0 -5M888 359l2 1M879 373l8 1M890 360l0 11M872 384l12 3M884 387l4 -3M908 386l-7 -7M905 395l-8 -2M897 393l-3 -8M913 350l-5 -12M913 350l-1 1M896 342l3 9M896 342l12 -4M912 351l-13 0M894 341l2 1M890 360l6 -2M896 358l3 -7M1172 467l6 -3M1175 456l3 5M1178 464l0 -3M1183 450l4 7M1178 461l9 -4M1199 464l-6 0M1194 453l-3 5M1193 464l-2 -6M1191 458l-4 -1M1250 501l11 -3M1250 501l4 8M1254 509l5 -2M1259 507l3 -8M1261 498l1 1M1275 495l-5 -1M1273 482l-5 5M1270 494l-2 -7M1271 508l-9 -9M1270 494l-8 5M1259 507l6 6M1242 487l1 -7M1242 487l5 4M1243 480l15 0M1247 491l10 -2M1257 489l2 -5M1259 484l0 -3M1259 481l-1 -1M1237 489l5 -2M1243 478l0 2M1246 500l1 -9M1246 500l-4 3M1257 472l1 8M1250 501l-4 -1M1261 498l-4 -9M1268 487l-9 -3M1270 476l-11 5M1148 502l6 -3M1148 502l-5 -8M1154 499l-1 -6M1153 493l-8 -2M1143 494l1 -3M1145 491l-1 0M1142 506l-5 -7M1142 506l4 -1M1137 499l6 -5M1146 505l2 -3M1157 487l-4 6M1145 487l0 4M1137 499l-4 0M1134 489l10 2M1133 486l3 -4M1136 482l5 0M1156 500l-2 -1M1156 500l1 8M1146 505l5 6M1151 511l6 -3M1187 506l2 4M1187 506l7 -5M1189 510l7 1M1194 501l4 7M1198 508l-2 3M1188 497l6 4M1188 497l-5 3M1183 500l1 5M1184 505l3 1M1198 497l-4 4M1188 497l-1 -6M1201 508l-3 0M1182 489l-3 4M1173 484l-3 9M1179 493l-9 0M1183 500l-3 -2M1179 493l1 5M1175 506l6 1M1175 506l-3 5M1181 507l1 5M1182 512l-7 5M1172 511l3 6M1184 505l-3 2M1180 498l-7 4M1173 502l2 4M1187 514l2 -4M1187 514l-5 -2M1175 563l9 -1M1178 553l6 4M1184 557l0 5M1182 572l3 -9M1182 572l0 1M1192 568l-4 6M1192 568l-3 -4M1189 564l-4 -1M1182 572l-5 -2M1184 562l1 1M1187 514l0 3M1175 517l7 4M1182 521l5 -4M1076 297l1 1M1077 298l6 1M1075 303l2 -5M1090 326l2 0M1095 328l0 6M1095 334l-2 2M1093 336l-8 -1M1080 319l1 2M1098 314l-6 2M1098 314l0 -7M1088 308l3 -5M1088 308l2 7M1090 315l2 1M1098 305l-3 -1M1077 308l11 0M1080 319l10 -4M1093 322l-1 -6M1098 314l4 2M1102 339l-7 -5M1072 371l5 -4M1077 367l-2 -4M1093 336l-3 10M1090 346l-9 -2M1081 344l-2 4M1114 369l5 -7M1121 362l-1 -1M1120 361l-1 1M1108 368l-3 -3M1105 365l6 -7M1119 362l-8 -4M979 472l-6 1M979 472l3 7M982 479l-2 3M980 482l-10 -3M970 479l3 -6M986 467l-6 1M988 477l-6 2M980 468l-1 4M990 488l-1 1M981 487l-1 -5M972 490l-4 -3M968 480l0 7M968 480l2 -1M980 468l-6 -7M974 460l0 1M974 460l-11 -2M973 473l-3 -5M974 461l-4 7M918 451l-2 1M910 441l-3 7M916 452l-9 -4M920 465l4 -8M920 465l-9 -4M916 452l-5 9M900 445l0 -4M900 445l7 3M888 512l-2 2M874 508l10 7M886 514l-2 1M900 519l-7 4M886 514l7 9M897 531l-4 -8M888 536l-4 -7M893 523l-9 6M939 525l-6 -7M949 518l-10 -4M939 514l-6 4M930 520l3 -2M941 449l5 10M931 456l3 5M946 459l-12 2M929 424l1 -10M929 424l8 1M941 420l-4 5M941 420l-7 -7M934 413l-4 1M927 427l2 -3M928 414l2 0M936 435l2 -2M938 433l-1 -8M939 405l-5 8M950 436l8 -7M950 436l-4 -3M946 433l0 -13M958 429l-11 -10M959 429l4 11M959 429l-1 0M950 440l0 -4M943 446l5 -2M938 433l8 0M941 420l5 0M959 429l4 -3M950 414l-3 5M963 426l0 -5M1013 495l-5 4M1017 504l-7 3M1010 507l-2 -8M1007 486l-6 10M1008 499l-7 -3M994 488l6 8M989 498l8 3M1000 496l-3 5M989 511l8 -8M984 505l4 6M997 501l0 2M977 537l-4 5M977 537l-6 -9M973 542l-7 -2M968 529l3 -1M968 529l-4 8M964 537l2 3M986 545l1 -1M986 545l-4 4M980 537l-3 0M982 549l-7 -2M975 547l-2 -5M960 524l8 5M963 551l3 -11M963 551l-9 -4M982 526l-10 1M982 526l2 -3M984 523l-2 -6M972 527l-1 -7M971 520l7 -5M982 517l-4 -2M984 531l-2 -5M971 528l1 -1M964 515l7 5M975 510l3 5M988 511l-6 6M994 540l5 8M986 545l8 9M999 548l-5 6M1008 546l-4 2M1005 561l8 -3M1013 558l1 -4M1004 548l0 13M1009 546l5 8M1013 558l7 7M1020 565l3 -1M1023 564l2 -4M1025 555l0 5M1025 555l-5 -3M1020 552l-6 2M949 562l5 8M942 570l8 6M954 570l-4 6M939 581l5 1M950 576l-6 6M984 407l0 5M973 415l4 2M984 412l-7 5M996 406l1 4M984 412l8 4M992 416l5 -6M1011 404l-7 8M1013 420l-6 0M1007 420l-3 -8M1004 412l-7 -2M1011 443l-2 -3M999 447l3 -6M1009 440l-7 1M1015 432l-4 2M1009 440l2 -6M1114 444l6 8M1107 452l5 4M1120 452l-8 4M1122 452l-2 0M1141 458l-6 5M1129 457l1 4M1130 461l5 2M1141 471l-4 -1M1135 463l2 7M1136 482l-2 -9M1137 470l-3 3M1127 478l5 -5M1127 478l1 6M1134 473l-2 0M920 320l-6 -2M920 320l2 2M922 322l-5 11M914 318l-9 8M905 326l5 8M910 334l7 -1M911 310l3 8M927 310l-7 10M927 324l-5 -2M924 339l-7 -6M899 324l6 2M908 338l2 -4M919 350l-6 0M1070 457l4 4M1080 454l-3 6M1077 460l-3 1M1075 669l-2 -5M1075 669l-6 4M1073 664l-10 1M1069 673l-5 -2M1063 665l1 6M1079 672l-4 -3M1075 661l-2 3M1073 680l-4 -1M1069 679l0 -6M1075 661l-9 -6M1062 664l0 -3M1062 664l1 1M1066 655l-4 6M1049 635l0 -8M1049 635l-9 -1M1040 634l-1 -3M1039 631l5 -7M1044 624l5 3M1038 639l2 -5M1033 629l6 2M1085 624l-5 -2M1080 622l-4 5M1093 626l5 0M1090 621l0 -1M1098 626l3 -4M1101 622l-5 -5M1096 617l-6 3M1036 588l-2 5M1036 588l5 -1M1034 593l7 2M1041 595l2 -6M1041 587l2 2M1105 639l-1 -7M1105 639l-6 -1M1104 632l-5 -2M1099 638l-3 -4M1096 634l3 -4M1113 632l-1 5M1112 637l-4 3M1107 629l-3 3M1095 642l4 -4M1098 626l1 4M1102 622l-1 0M1092 634l4 0M1033 584l-6 4M1033 584l3 4M1027 588l1 4M1033 594l-5 -2M995 614l4 -6M995 614l-8 -3M999 608l-7 -6M992 602l-6 8M987 611l-1 -1M992 602l9 -6M1002 608l4 -10M1002 608l-3 0M1006 598l-5 -2M1027 620l-6 -4M1027 620l0 3M1021 616l-7 3M1021 629l-7 -8M1014 619l0 2M1011 632l-2 -6M1014 621l-5 5M973 629l-1 -8M983 623l-1 2M983 623l-6 -4M975 630l7 -5M977 619l-5 2M962 623l2 7M962 623l6 -5M968 618l4 3M1025 577l-5 -1M1025 577l4 -8M1029 569l-6 -5M1020 565l-2 3M1020 576l-2 -8M1005 561l2 8M1007 569l2 1M1018 568l-9 2M1045 657l1 5M1045 657l4 -2M1049 655l5 3M1054 658l-3 6M1051 664l-5 -2M1041 655l4 2M1036 659l5 6M1046 662l-5 3M1096 554l7 -3M1102 562l3 0M1103 551l5 7M1105 562l3 -4M1121 509l0 2M1131 500l1 9M1121 511l11 -2M1163 560l-3 0M1158 570l2 1M1158 570l-2 -8M1156 562l4 -2M1165 548l-7 3M1160 560l-2 -9M1165 543l-9 -1M1156 542l0 8M1156 550l2 1M1101 573l4 7M1101 573l8 -3M1106 580l-1 0M1106 580l6 -5M1110 571l2 3M1112 575l0 -1M1095 583l2 2M1100 585l5 -5M1105 562l4 8M1111 586l0 1M1111 586l-5 -6M1115 582l-4 4M1115 582l-3 -7M1084 567l-8 -2M1087 561l-7 -4M1076 565l4 -8M1090 555l-6 -5M1084 550l-5 5M1080 557l-1 -2M1026 579l-2 6M1026 579l5 1M1033 584l0 -2M1027 588l-3 -3M1033 582l-2 -2M1041 587l0 -7M1033 582l8 -2M1043 579l-1 0M1043 579l7 5M1049 588l1 -4M1049 588l-6 1M1041 580l1 -1M1031 580l3 -6M1042 579l-2 -4M1040 575l-6 -1M1026 579l-1 -2M1029 569l3 0M1032 569l2 5M1091 530l-8 -4M1091 530l4 -7M1095 523l-7 -1M1083 526l5 -4M1087 514l-6 3M1082 526l1 0M1082 526l-2 -3M1087 514l1 8M1080 523l1 -6M1087 514l7 1M1095 523l1 0M1094 515l2 8M1104 507l-3 4M1113 506l-3 9M1110 515l-5 1M1101 511l4 5M1049 510l-2 5M1040 514l7 1M1085 503l1 5M1085 503l4 -4M1086 508l8 -2M1089 499l6 2M1095 501l-1 5M1087 514l-1 -6M1094 515l4 -4M1098 511l-4 -5M1096 500l-1 1M1101 511l-3 0M1087 494l-8 1M1087 494l2 5M1079 495l-1 3M1085 503l-7 -4M1078 498l0 1M1060 503l2 0M1062 503l6 -3M1067 495l1 3M1068 498l0 2M1109 558l-1 0M1109 558l8 4M1110 571l7 -7M1117 562l0 2M1088 583l-3 4M1095 589l-5 2M1090 591l-5 -4M828 598l-6 9M833 611l-4 3M829 614l-2 -1M827 613l-5 -6M825 592l-8 0M812 598l6 8M818 606l4 1M776 612l8 -1M782 626l5 -9M787 617l-3 -6M780 600l8 4M784 611l4 -7M794 597l-3 6M788 604l3 -1M823 656l-7 -9M831 645l0 -3M816 647l9 -6M825 641l6 1M847 643l-1 -3M846 640l-13 -1M831 642l2 -3M847 638l-1 2M833 639l1 -12M829 614l4 13M834 627l-1 0M787 617l9 -1M791 603l8 10M799 613l-3 3M811 659l-2 -6M811 659l8 2M816 647l-1 0M809 653l6 -6M783 572l7 -9M798 564l0 0M798 564l-2 -1M790 563l6 0M776 564l6 -8M790 563l-8 -7M805 520l-2 -1M805 520l4 10M803 519l-5 4M798 523l0 9M798 532l6 2M804 534l5 -4M815 518l-10 2M802 513l1 6M819 520l0 8M816 531l3 -3M816 531l-7 -1M789 521l9 2M816 531l1 11M819 528l8 3M817 542l5 2M822 544l6 -5M827 531l1 8M854 540l-7 -1M854 540l2 -8M856 532l-6 -3M850 529l-6 4M847 539l-3 -6M842 547l4 5M842 547l5 -8M849 553l-3 -1M849 553l4 -2M853 551l2 -9M855 542l-1 -2M884 515l-4 6M884 529l-2 -1M882 528l-2 -7M867 504l-7 6M860 510l-5 -2M857 496l-4 6M853 502l2 6M849 553l3 8M846 552l-7 8M844 570l3 -1M844 570l-4 -3M840 567l-1 -7M852 561l-5 8M870 548l-5 0M870 548l5 -9M865 548l-3 -6M862 542l3 -5M865 537l8 0M875 539l-2 -2M882 542l-7 -3M881 551l-8 1M873 552l-3 -4M853 551l8 1M855 542l7 0M861 552l4 -4M860 531l-4 1M860 531l5 6M874 534l8 -6M874 534l-1 3M831 569l-6 -5M831 569l-2 7M825 564l-7 5M818 569l0 6M829 576l-3 3M826 579l-6 -1M820 578l-2 -3M838 580l-9 -4M841 579l3 -9M840 567l-9 2M807 575l11 0M806 568l6 -4M812 564l6 5M828 589l-2 -10M815 586l5 -8M823 546l-4 9M823 546l8 5M831 551l0 5M831 556l-6 6M825 562l-6 -7M839 546l-8 5M839 546l-4 -6M822 544l1 2M835 540l-7 -1M842 547l-3 -1M839 560l-8 -4M825 564l0 -2M812 564l0 -7M812 557l7 -2M798 564l8 -11M812 557l-5 -4M806 553l1 0M817 542l-6 2M807 553l4 -9M804 534l0 5M804 539l7 5M777 714l7 3M784 717l-2 7M782 724l-9 5M768 716l5 13M797 679l1 -2M785 681l-3 -6M791 665l7 12M791 665l-4 1M782 675l5 -9M780 653l1 5M767 652l1 14M781 658l-13 8M795 726l2 1M795 726l-1 -7M797 727l6 -2M803 725l2 -8M794 719l5 -5M805 717l-6 -3M782 724l6 5M788 729l7 -3M784 717l10 2M808 817l1 -4M808 817l13 7M821 810l1 13M821 810l-6 -1M815 809l-6 4M821 824l1 -1M810 789l-1 8M810 789l9 -2M819 787l6 5M812 799l-3 -2M812 799l12 -2M824 797l1 -5M801 804l8 9M801 804l3 -5M804 799l5 -2M815 809l-3 -10M821 810l1 -2M824 797l-2 11M798 791l3 -8M798 791l6 8M810 789l-4 -6M801 783l5 0M795 805l-2 3M795 805l-6 -10M793 808l-11 1M782 809l-4 -11M778 798l2 -2M780 796l9 -1M798 791l-6 0M795 805l6 -1M792 791l-3 4M796 869l-10 4M796 869l4 8M800 877l-5 6M795 883l-8 -6M787 877l-1 -4M793 808l2 11M808 817l-2 1M795 819l11 -1M917 767l0 -10M917 757l-6 -4M911 753l-2 1M905 767l-1 -1M904 766l5 -12M875 737l11 -1M875 737l-4 -9M873 726l14 1M873 726l-2 2M886 736l1 -9M883 716l5 10M874 717l2 -2M874 717l-1 9M887 727l1 -1M802 738l-3 -2M802 738l5 -2M799 736l-2 -9M803 725l6 5M807 736l2 -6M814 721l-7 -4M814 721l-1 7M807 717l-2 0M813 728l-4 2M819 787l1 -8M808 779l-2 4M808 779l9 -3M817 776l3 3M855 733l7 3M855 733l-9 4M846 737l0 4M846 741l11 4M857 745l5 -6M862 739l0 -3M871 745l-9 -6M871 745l4 -8M871 728l-3 0M868 728l-6 8M874 717l-10 -5M870 701l-5 4M864 712l1 -7M849 688l1 4M865 691l-1 -10M865 691l-12 3M864 681l-8 -1M850 692l3 2M869 694l-4 -3M865 705l-11 -4M853 694l1 7M850 692l-10 7M854 701l-3 4M851 705l-8 -1M840 699l3 5M807 736l7 6M814 742l6 -1M820 741l3 -8M813 728l9 3M822 731l1 2M811 659l-6 5M819 668l-3 4M805 664l1 3M816 672l-10 -5M797 660l-6 5M797 660l8 4M798 677l3 -1M806 667l-5 9M872 652l-7 1M872 652l1 -13M865 653l-6 -5M872 638l-11 5M861 643l-2 5M856 649l3 -1M857 665l3 0M860 665l5 -12M885 644l-12 -5M885 644l3 -12M857 636l4 7M864 681l1 -13M864 681l12 -2M878 677l-2 2M878 677l-9 -10M869 667l-4 1M860 665l5 3M878 689l-2 -10M882 675l9 2M882 675l-4 2M885 692l4 -4M889 688l3 -10M891 677l1 1M882 675l0 -9M882 666l-7 -5M875 661l-6 6M875 661l0 -6M875 655l-3 -3M953 693l0 10M953 692l-10 2M953 703l-11 0M943 694l-2 5M941 699l1 4M949 683l4 9M949 683l9 -4M958 679l2 1M959 691l-6 2M949 683l-3 -2M946 681l-7 5M939 686l4 8M933 688l-3 9M933 688l6 -2M931 698l-1 -1M931 698l10 1M610 524l-3 7M589 523l12 10M607 531l-6 2M585 542l-6 -4M585 542l14 -3M601 533l-2 6M660 867l0 -1M680 872l-3 -6M677 866l-17 0M647 854l9 0M660 866l-4 -12M660 839l1 6M656 854l5 -9M673 821l14 13M661 845l20 4M687 834l-6 15M677 866l6 -12M681 849l2 5M716 775l11 -3M719 794l11 -10M719 794l-6 -10M730 784l-3 -12M705 760l1 -3M706 757l15 -3M731 760l-10 -6M731 760l-3 11M728 771l-1 1M776 416l-3 3M758 410l0 5M758 415l15 4M765 441l-1 -10M780 434l-8 -6M764 431l8 -3M772 428l1 -9M745 432l4 2M745 432l-4 -8M749 434l9 -5M741 424l2 -5M743 419l14 -1M758 429l-1 -11M752 446l-3 -12M734 440l11 -8M728 425l13 -1M764 431l-6 -2M741 414l2 5M758 415l-1 3M776 482l6 -2M776 482l-6 -6M782 480l3 -12M773 469l-3 7M773 469l11 -1M784 468l1 0M789 484l-7 -4M783 496l-9 -8M774 488l2 -6M757 474l4 3M761 477l9 -1M768 462l5 7M780 457l4 11M773 506l-15 4M773 506l-8 -14M757 494l-3 11M757 494l5 -2M754 505l3 5M762 492l3 0M775 507l-2 -1M764 520l-6 -10M774 488l-9 4M752 491l5 3M745 505l9 0M761 477l1 15M751 517l6 -7M796 482l1 -7M790 468l6 4M790 468l-5 0M797 475l-1 -3M811 480l-2 -4M797 475l12 1M822 471l-9 -3M822 471l1 7M809 476l4 -8M786 451l6 2M790 468l4 -11M792 453l2 4M801 444l-1 2M792 453l8 -7M814 446l4 -7M814 446l1 3M815 449l9 3M824 452l2 -7M826 445l-2 -5M818 439l6 1M812 430l6 9M803 443l11 3M826 456l-1 0M837 445l-11 0M825 456l-1 -4M829 434l-5 6M834 502l4 -7M834 502l8 5M842 507l4 -5M846 502l-4 -8M842 494l-4 1M831 503l3 -1M830 490l8 5M829 509l8 7M837 516l6 -6M843 510l-1 -3M853 502l-7 0M851 512l4 -4M851 512l-8 -2M844 491l-2 3M844 486l-5 -5M839 481l-8 7M841 521l-2 10M841 521l-4 -4M837 517l-6 4M831 521l-1 8M830 529l9 3M850 522l0 7M850 522l-9 -1M844 533l-5 -2M851 520l-1 2M851 520l0 -8M823 519l8 2M827 531l3 -2M835 540l4 -8M824 479l10 -2M839 481l-5 -4M823 470l-1 1M823 470l11 -2M834 477l0 -9M823 470l1 -12M825 456l-1 2M834 468l2 -2M851 477l6 -3M851 477l-6 -4M845 473l0 -2M845 471l4 -5M849 466l9 1M858 467l-1 7M851 482l0 -5M861 478l-1 5M861 478l-4 -4M839 481l6 -8M836 466l9 5M847 456l2 10M861 465l-3 2M861 465l-2 -5M891 588l-5 6M897 597l-9 3M886 594l2 6M880 585l-1 8M886 594l-7 -1M897 610l-10 -7M882 608l0 -2M882 606l5 -3M887 603l1 -3M962 657l-6 3M964 669l-6 -1M956 660l2 8M958 679l-4 -7M954 672l4 -4M935 630l-6 -2M935 630l1 6M922 640l11 0M929 628l-7 7M936 636l-3 4M935 630l5 -5M940 625l8 6M948 631l-3 8M936 636l9 3M916 641l-5 5M909 634l-5 5M911 646l-5 -1M904 639l2 6M894 631l4 7M904 639l-6 -1M892 661l-1 0M892 661l10 -6M891 661l-5 -10M902 655l-2 -5M900 650l-6 -4M894 646l-7 2M887 648l-1 3M882 666l9 -5M893 663l-2 14M893 663l-1 -2M875 655l11 -4M913 654l-8 3M913 654l-2 -8M905 657l-3 -2M906 645l-6 5M898 638l-4 8M885 644l2 4M905 657l1 9M893 663l10 5M906 666l-3 2M899 678l-7 0M899 678l2 -1M903 668l-2 9M921 640l2 7M913 654l4 2M917 656l6 -9M946 681l-1 -8M954 672l-6 -1M945 673l3 -2M930 617l-6 -3M930 617l-3 7M924 614l-6 4M927 624l-8 0M918 618l1 6M915 616l3 2M922 607l2 7M929 628l-2 -4M916 627l3 -3M940 625l0 -3M930 617l4 -2M934 615l6 7M1248 389l-2 -1M1246 388l-7 -8M1240 378l-1 2M1221 419l2 -13M1221 405l2 1M1235 410l-11 -4M1223 406l1 0M1135 390l4 1M822 401l6 -6M822 401l-11 -4M828 395l-3 -9M825 386l-14 0M811 397l-2 -6M811 386l-2 5M822 411l0 -10M833 396l-5 -1M806 405l5 -8M828 378l-3 8M810 383l1 3M796 392l13 -1M774 232l-4 5M786 233l-1 9M770 237l1 2M771 239l13 3M784 242l1 0M796 244l-11 -2M782 253l2 -11M771 254l-1 0M770 254l1 -15M764 235l-8 3M764 235l0 -3M756 238l-2 -6M770 237l-6 -2M760 251l-4 -13M760 251l-9 10M749 260l-7 -12M749 260l2 1M742 248l4 -6M746 242l10 -4M770 254l-10 -3M756 238l0 0M752 262l-1 -1M738 266l11 -6M733 250l9 -2M737 231l9 11M1316 519l4 2M1324 509l1 3M1219 514l-4 2M1209 511l4 5M1213 516l2 0M1220 526l-4 -1M1220 526l3 5M1213 531l2 -5M1213 531l6 6M1216 525l-1 1M1223 531l-4 6M1224 521l-4 5M1215 516l1 9M1228 530l-5 1M1229 540l-5 2M1224 542l-5 -5M1232 551l-6 0M1224 542l-1 3M1223 545l3 6M1229 561l5 -4M1229 561l-5 -5M1226 551l-2 5M1183 607l-3 4M1183 607l-4 -7M1180 611l-8 -6M1172 605l0 -2M1179 600l-7 3M1170 578l1 2M1181 579l-9 2M1171 580l1 1M1197 590l-5 -9M1197 590l7 -3M1193 579l2 -1M1204 587l-1 -7M1195 578l8 2M1229 561l1 1M1239 562l-4 4M1230 562l5 4M1234 581l-9 4M1234 581l0 8M1234 589l-4 2M1230 591l-5 -5M1225 585l0 1M1220 589l5 -3M1220 589l-1 0M1219 589l-5 -8M1214 581l9 -3M1223 578l2 7M1240 532l4 -7M1235 522l8 1M1244 525l-1 -2M1261 526l-7 -2M1261 526l1 1M1262 527l-1 7M1250 533l8 3M1250 533l0 -6M1258 536l3 -2M1250 527l4 -3M1265 517l-4 9M1272 528l-10 -1M1272 528l2 -2M1273 521l1 5M1246 537l4 -4M1244 525l6 2M1269 538l-8 -4M1269 538l-3 6M1288 559l6 1M1288 559l-1 -8M1294 560l1 -1M1297 552l-2 7M1287 551l1 0M1288 551l8 0M1287 551l-7 1M1276 547l1 -2M1288 551l0 -4M1288 547l-7 -4M1277 545l4 -2M1269 538l3 -1M1277 545l-5 -8M1272 528l1 8M1273 536l-1 1M1161 592l-3 0M1161 592l4 -3M1165 589l0 -4M1165 585l-6 -3M1158 592l1 -10M1161 577l-3 4M1158 570l-7 4M1151 574l4 7M1155 581l3 0M1165 585l6 -5M1158 581l1 1M1141 586l5 -4M1141 586l2 5M1146 592l-3 -1M1146 592l4 -3M1146 582l4 2M1150 589l0 -5M1138 595l-5 -4M1138 595l5 -4M1133 587l0 4M1133 587l5 -2M1138 585l3 1M1149 599l0 1M1149 599l-3 -7M1138 595l0 2M1149 600l-8 1M1138 597l3 4M1149 599l5 -1M1154 598l3 -6M1157 592l-7 -3M1151 574l-6 4M1145 578l1 4M1155 581l-5 3M1112 607l1 4M1112 607l-6 -2M1113 611l-6 4M1106 605l-3 6M1103 611l4 4M1115 604l5 0M1115 604l-3 3M1115 612l-2 -1M1115 612l7 -2M1122 610l-2 -6M1115 604l-3 -6M1115 612l2 8M1114 622l3 -2M1132 651l0 -5M1142 648l-4 -3M1132 646l6 -1M1143 524l-3 0M1143 524l6 8M1140 524l-3 3M1137 527l-1 3M1149 532l-5 5M1136 530l8 7M1155 542l1 -5M1155 542l-6 1M1149 543l-5 -6M1149 532l7 5M1164 534l-3 -1M1156 542l-1 0M1156 537l5 -4M1159 741l-2 -1M1157 740l-6 4M1156 752l-5 -8M1156 752l-9 2M1147 754l1 -9M1151 744l-2 0M1148 745l1 -1M1184 814l-6 -2M1184 814l3 -2M1187 812l0 -4M1187 808l-8 -4M1178 812l1 -8M1182 823l-10 -7M1182 823l2 -9M1172 816l6 -4M1201 797l-3 4M1195 792l-3 5M1192 797l6 4M1206 805l-7 -1M1198 801l1 3M1208 811l-9 4M1206 823l-7 -5M1199 815l0 3M1199 804l-2 2M1197 806l1 7M1199 815l-1 -2M1187 812l3 1M1187 808l2 -3M1189 805l8 1M1198 813l-8 0M1162 802l3 -1M1170 811l-8 -3M1170 811l2 -7M1165 801l7 3M1172 816l-2 -5M1179 804l-4 -1M1172 804l3 -1M1187 789l0 1M1192 797l-3 1M1187 790l2 8M1179 804l3 -5M1189 805l-1 -7M1182 799l6 -1M1197 831l-5 -7M1197 831l-4 8M1193 839l-4 0M1189 839l-6 -11M1184 826l-1 2M1184 826l6 -2M1190 824l2 0M1203 830l-6 1M1199 818l-7 6M1202 846l-9 -7M1185 843l4 -4M1182 823l2 3M1190 813l0 11M1082 769l-7 9M1082 769l-8 -7M1070 767l4 -5M1070 767l3 11M1073 778l2 0M1089 780l-3 3M1086 783l-11 -5M1085 768l-3 1M1088 759l-3 -4M1074 760l0 2M1018 810l4 7M1018 810l9 -5M1031 806l-4 -1M1031 806l-3 10M1028 816l-6 1M1031 806l5 -1M1028 816l5 3M1033 819l5 -3M1038 816l-2 -11M1024 797l3 -4M1024 797l3 8M1027 793l7 0M1036 805l1 -1M1037 804l1 -3M1038 801l-4 -8M1072 780l-1 12M1072 780l1 -2M1086 783l1 5M1071 792l5 2M1076 794l11 -6M1101 789l-13 1M1087 788l1 2M1098 801l-8 -2M1088 790l2 9M1123 782l1 -1M1133 780l-1 -1M1132 779l-4 -1M1128 778l-4 3M1113 782l4 -5M1124 781l-7 -4M1110 772l7 2M1117 777l0 -3M1132 779l3 -7M1142 774l-1 -4M1135 772l6 -2M1128 778l-3 -8M1117 774l4 -4M1125 770l-4 0M1135 772l-6 -6M1125 770l4 -4M1109 766l9 -2M1121 770l-3 -6M1108 765l1 -7M1118 764l2 -5M1120 759l-7 -4M1113 755l-4 3M1111 656l5 5M1111 656l-6 2M1116 661l-6 4M1110 665l-4 -3M1106 662l-1 -4M1122 655l-9 -5M1113 650l-2 6M1103 656l2 2M1112 648l1 0M1113 648l0 2M1111 670l-1 -5M1101 671l6 2M1099 667l7 -5M1113 705l4 5M1113 705l2 -3M1123 702l1 6M1115 702l4 -2M1117 710l7 -2M1113 705l-5 2M1117 710l-1 5M1116 715l-6 1M1108 707l2 9M1115 702l-5 -5M1120 693l-2 -2M1118 691l-5 0M1113 691l-3 6M1158 715l-2 9M1149 715l0 4M1149 719l7 5M1164 725l-8 -1M1139 699l-4 7M1144 711l-1 0M1143 711l-8 -5M1128 699l5 7M1126 710l-2 -2M1126 710l4 0M1130 710l3 -4M1135 696l-6 0M1133 706l2 0M1181 703l-6 2M1181 703l5 3M1185 710l1 -4M1185 710l-6 2M1179 712l-5 -6M1172 697l3 8M1181 698l0 5M1191 702l-5 4M1191 700l-6 -6M1190 716l-5 -6M1178 714l1 -2M1170 708l4 -2M1123 683l5 5M1123 683l3 -4M1126 679l7 -1M1133 678l-3 9M1130 687l-2 1M1120 683l-2 8M1120 683l3 0M1127 692l1 -4M1116 680l4 3M1122 674l4 5M1137 689l-7 -2M1116 715l2 1M1126 710l-3 6M1118 716l5 0M1107 720l10 4M1107 720l3 -4M1118 716l-1 8M1107 720l-3 9M1104 729l3 2M1107 731l8 -1M1115 730l3 -4M1117 724l1 2M1159 657l5 -2M1159 657l-8 -4M1151 653l4 -7M1165 652l-6 -6M1165 652l-1 3M1159 646l-4 0M1145 648l3 -8M1151 640l-3 0M1151 640l4 6M1169 649l-4 3M1170 641l-2 -3M1163 640l5 -2M1163 640l-4 6M1150 655l2 10M1159 657l-2 6M1157 663l-5 2M1150 666l2 -1M1156 674l0 -1M1152 665l4 8M1175 669l-1 -7M1175 669l-9 3M1166 672l-3 -4M1168 660l-5 6M1168 660l6 2M1163 668l0 -2M1177 672l-2 -3M1177 672l8 -5M1178 657l-4 5M1178 657l7 6M1185 663l0 4M1171 680l7 -5M1178 675l-1 -3M1165 679l1 -7M1156 673l7 -5M1164 655l4 5M1157 663l6 3M1178 657l1 -2M1195 663l5 -2M1195 663l-5 -3M1200 661l-4 -9M1190 660l1 -7M1191 653l5 -1M1193 672l2 -9M1193 672l-8 -5M1185 663l5 -3M1202 661l-2 0M1209 656l-6 -7M1199 648l-3 4M1199 648l4 1M1189 652l2 1M1199 648l-2 -7M1183 680l10 -8M1183 680l0 1M1183 681l7 6M1193 673l4 10M1197 683l-4 3M1190 687l3 -1M1178 675l5 5M1177 688l6 -7M1185 694l5 -7M1203 671l-10 2M1206 677l-3 6M1203 683l-6 0M1196 695l-3 -9M1164 598l-1 3M1164 598l-3 -6M1154 598l4 4M1158 602l5 -1M1173 628l3 -6M1173 628l1 4M1174 632l5 1M1179 633l4 -4M1183 629l-2 -5M1181 624l-5 -2M1166 627l-2 -5M1166 627l7 1M1164 622l10 -4M1174 618l2 4M1168 638l-4 -8M1168 638l6 -6M1164 630l2 -3M1180 642l-1 -9M1188 631l-5 -2M1278 665l6 2M1275 676l8 2M1284 667l-1 11M1288 656l-9 -2M1288 656l-1 9M1284 667l3 -2M1318 652l-4 0M1313 661l-3 -5M1314 652l-4 4M1297 677l-3 -5M1294 672l0 -3M1303 669l-9 0M1280 912l-4 5M1280 912l-5 -12M1276 917l-13 -8M1275 900l-12 8M1263 909l0 -1M1275 922l1 -5M1282 912l-2 0M1262 921l1 -12M1262 908l1 0M1269 891l6 9M1215 683l5 3M1215 683l-8 6M1220 686l-3 7M1217 693l-10 -3M1207 689l0 1M1214 676l1 7M1203 683l4 6M1204 697l3 -7M1248 672l8 2M1248 672l1 -7M1256 674l4 -9M1251 663l6 0M1251 663l-2 2M1257 663l3 2M1257 676l-1 -2M1257 676l-3 6M1246 674l2 -2M1254 682l-6 -1M1241 664l-3 6M1241 664l8 1M1238 670l2 4M1264 678l-7 -2M1263 666l-3 -1M1228 674l4 4M1228 674l-3 0M1222 676l1 9M1222 676l3 -2M1232 678l-1 5M1231 683l-6 3M1223 685l2 1M1238 670l-6 -2M1232 668l-4 6M1238 677l-6 1M1222 666l8 -3M1222 666l3 8M1230 663l2 5M1214 676l8 0M1220 686l3 -1M1217 664l5 2M1217 664l-2 1M1242 687l0 1M1237 689l5 -1M1237 689l-6 -6M1250 691l-7 -2M1250 691l2 8M1243 689l-1 12M1242 701l9 -1M1252 699l-1 1M1256 687l-6 4M1256 687l-2 -5M1242 688l1 1M1259 699l2 9M1259 699l-7 0M1261 708l-9 2M1252 710l-1 -10M1237 689l-6 7M1239 703l3 -2M1239 703l-6 -3M1233 700l-2 -4M1217 693l3 6M1225 686l3 9M1228 695l-8 4M1228 695l3 1M1206 702l13 -2M1219 700l1 -1M1209 712l6 2M1219 700l3 9M1215 714l7 -5M1233 700l-7 10M1222 709l4 1M1222 734l5 -3M1222 734l-9 -6M1227 731l-1 -8M1226 723l-8 -1M1213 728l5 -6M1221 739l1 -5M1231 733l-4 -2M1212 729l1 -1M1238 728l-1 -3M1237 725l-7 -5M1230 720l-4 3M1215 714l3 8M1230 715l0 5M1230 715l-4 -5M1241 730l9 -3M1250 727l2 2M1269 713l-3 -1M1266 712l-4 8M1263 721l-1 -1M1251 711l1 8M1251 711l-11 -1M1242 719l-3 -8M1242 719l8 2M1250 721l2 -2M1240 710l-1 1M1261 708l5 3M1252 710l-1 1M1266 712l0 -1M1262 720l-10 -1M1239 703l1 7M1237 725l5 -6M1230 715l9 -4M1250 727l0 -6M1259 699l2 -2M1256 687l3 1M1261 697l-2 -9M1259 688l7 -4M1276 693l3 3M1276 693l-5 1M1269 697l2 -3M1269 697l2 8M1271 705l2 0M1272 682l7 6M1279 688l-3 5M1266 684l5 10M1261 697l8 0M1266 711l5 -6M1292 684l-6 -5M1292 684l-1 2M1286 689l-5 -2M1281 687l3 -9M1284 678l2 1M1294 684l-2 0M1294 672l-8 7M1279 688l2 -1M1283 678l1 0M1287 665l6 3M1294 669l-1 -1M1308 604l7 -1M1308 604l-1 7M1308 611l-1 0M1308 611l8 -2M1315 603l2 5M1316 609l1 -1M1299 609l8 2M1306 602l2 2M1308 614l0 -3M1317 618l-1 -9M1324 609l-7 -1M1318 600l-2 0M1318 600l3 -5M1316 600l-4 -3M1312 597l1 -6M1313 591l6 -1M1321 595l-2 -5M1326 603l-8 -3M1315 603l1 -3M1328 595l-7 0M1305 598l7 -1M1310 589l3 2M1312 582l5 0M1288 569l-4 -6M1288 569l-4 5M1284 574l-5 -3M1279 571l0 -5M1279 566l4 -3M1288 559l-4 4M1294 560l0 6M1291 569l3 -3M1291 569l-3 0M1293 576l1 -1M1294 575l-3 -6M1284 577l0 -3M1278 557l5 6M1254 563l7 2M1252 572l-1 -1M1252 572l8 1M1260 573l2 -2M1262 571l-1 -6M1261 554l2 9M1272 558l-1 4M1263 563l8 -1M1263 563l-2 2M1279 566l-8 -2M1271 562l0 2M1266 593l3 -5M1266 593l-6 -2M1260 591l0 -3M1260 588l5 -5M1265 583l4 5M1261 578l4 3M1261 578l-7 4M1260 588l-6 -6M1265 583l0 -2M1278 584l-5 0M1276 593l-5 -6M1273 584l-2 3M1275 573l0 4M1275 573l-5 -3M1270 570l-1 2M1269 572l0 6M1275 577l-3 2M1272 579l-3 -1M1280 579l-5 -2M1279 571l-4 2M1271 564l-1 6M1262 571l7 1M1260 573l1 5M1265 581l4 -3M1273 584l-1 -5M1269 588l2 -1M1294 575l6 -1M1294 566l5 1M1299 567l1 7M1295 559l7 2M1302 561l1 3M1299 567l4 -3M1300 580l0 -6M1322 557l-4 3M1319 568l-2 -3M1318 560l-1 5M1304 555l0 1M1304 555l2 -6M1304 556l6 2M1306 549l7 2M1313 551l-1 6M1312 557l-2 1M1297 552l7 3M1302 561l2 -5M1317 548l-1 0M1316 548l-3 3M1318 560l-6 -3M1309 565l1 -7M1309 565l8 0M1251 597l-6 1M1251 597l3 4M1254 601l-4 4M1250 605l-5 -4M1245 601l0 -3M1270 618l7 3M1270 618l-1 -5M1269 613l8 -3M1277 621l0 -10M1286 612l-9 -1M1283 603l-2 0M1281 603l-4 7M1241 606l-5 -4M1241 606l4 -5M1236 598l0 4M1245 598l-1 -1M1237 598l7 -1M1251 590l1 -8M1251 590l-6 2M1243 585l4 -3M1243 585l-1 4M1247 582l4 0M1242 589l3 3M1251 582l1 0M1253 593l-2 -3M1253 593l4 0M1257 593l3 -2M1254 582l-2 0M1253 593l-2 4M1244 597l1 -5M1237 598l1 -7M1238 591l4 -2M1252 572l-1 10M925 729l6 0M925 729l-3 -9M931 729l2 -10M933 719l-7 -2M922 720l4 -3M914 719l0 -8M914 719l8 1M914 711l7 -4M921 707l5 1M926 708l0 9M930 762l-1 -7M917 757l8 -3M929 755l-4 -1M912 721l2 -2M912 721l3 11M925 729l-5 4M915 732l5 1M934 732l-3 -3M934 732l-2 9M932 741l-9 0M920 733l3 8M911 753l1 -7M925 754l-4 -10M912 746l9 -2M986 622l6 1M986 622l1 -11M995 614l1 4M992 623l4 -5M1008 613l-7 7M1008 613l6 6M1009 626l-6 -1M1003 625l-2 -5M1002 608l6 5M996 618l5 2M980 646l7 -8M976 635l10 0M987 638l-1 -3M982 625l4 9M986 635l0 -1M986 622l-3 1M992 623l2 6M986 634l8 -5M1003 625l-4 7M994 629l5 3M1008 635l-8 -1M1000 634l-1 -2M960 650l-6 -2M957 639l-3 3M954 642l0 6M957 633l-6 -4M948 631l3 -2M954 642l-9 -3M935 649l9 -4M935 649l-2 -9M945 639l-1 6M818 952l0 9M818 952l4 -1M877 838l-4 12M866 836l-3 3M873 850l-3 0M863 839l7 11M884 838l3 7M899 846l-4 3M887 845l8 4M873 850l6 4M887 845l-8 9M795 819l-1 2M794 821l5 9M806 818l1 12M799 830l8 0M816 941l6 -3M816 941l0 9M818 952l-2 -2M822 938l2 2M808 936l8 5M808 936l-4 6M816 950l-7 1M804 942l5 9M800 970l2 -4M811 964l-1 0M802 966l8 -2M809 951l-2 3M810 964l-3 -10M1017 809l1 1M1017 809l-1 -10M1024 797l-8 1M1024 789l-6 -2M1024 789l5 -9M1018 787l0 -7M1029 780l-7 -2M1018 780l4 -2M1027 793l-3 -4M1015 789l1 9M1015 789l3 -2M1031 780l-2 0M1031 780l6 8M1034 793l3 -5M1012 776l6 4M1012 776l4 -8M1016 768l6 3M1022 771l0 7M1136 833l-1 -7M1146 829l1 -5M1147 824l-6 -6M1135 826l6 -8M1147 824l6 -4M1153 820l-1 -5M1152 815l-5 -1M1141 818l6 -4M1153 820l4 2M1152 815l3 -3M1160 811l3 6M1157 822l6 -5M1172 816l-2 3M1170 819l-7 -2M1007 756l-4 8M1007 756l5 1M1015 766l0 -2M1015 766l-12 0M1003 766l0 -2M1012 757l3 7M1038 765l2 7M1038 765l-9 1M1029 766l-1 2M1028 768l5 9M1033 777l5 -2M1038 775l2 -3M1031 780l2 -3M1022 771l6 -3M1037 788l6 -1M1043 787l3 -4M1046 783l-8 -8M1049 771l-9 1M1049 771l1 10M1046 783l4 -2M1063 752l-3 2M1070 767l-7 0M1060 754l3 13M1061 779l-4 3M1061 779l-1 -9M1057 782l-7 -1M1049 771l2 -4M1051 767l9 3M1061 779l11 1M1060 770l3 -3M1085 752l6 -5M1080 737l4 -1M1084 736l5 2M1089 738l2 9M988 689l3 2M994 700l-3 -9M994 700l-2 4M980 700l12 4M1062 664l-7 3M1054 658l2 0M1062 661l-6 -3M1051 664l0 1M1055 667l-4 -2M1041 665l0 2M1041 667l5 5M1051 665l-5 7M1042 688l2 -6M1042 688l4 5M1044 682l6 1M1046 693l4 1M1050 694l2 -2M1050 683l2 9M1084 693l-11 -1M1085 695l0 5M1077 706l8 -6M1077 706l-5 -1M1073 692l-1 13M1075 684l-2 8M1067 711l5 -6M1056 705l6 -6M1072 705l-10 -6M1002 681l4 -1M1002 681l-4 -3M998 678l-2 -10M1006 680l2 -2M1008 678l-3 -13M1005 665l-7 0M998 665l-2 3M990 681l8 -3M991 691l8 -2M999 689l3 -8M985 671l11 -3M988 657l7 2M995 659l3 6M1108 707l-2 -1M1106 706l-8 6M1107 720l-8 -5M1099 715l-1 -3M1104 729l-6 0M1098 729l-6 -5M1099 715l-7 9M943 765l0 -10M943 755l6 -2M955 762l-2 3M955 762l-1 -6M954 756l-5 -3M965 695l0 9M953 703l3 3M956 706l9 -2M980 700l-4 7M976 707l-7 0M965 704l4 3M929 707l-3 1M929 707l8 3M933 719l2 -1M937 710l-2 8M929 707l2 -9M942 703l-2 5M937 710l3 -2M947 806l-4 11M947 806l-3 -3M935 807l4 -4M939 803l5 0M931 795l3 0M939 803l-5 -8M937 784l2 6M934 795l5 -5M946 778l4 9M939 790l8 2M950 787l-3 5M944 803l4 -9M948 794l-1 -2M1033 868l-4 -9M1029 859l1 -2M950 787l7 -1M957 786l3 5M948 794l8 3M956 797l4 -6M984 838l-1 8M984 838l3 -2M995 840l-8 -4M995 840l-2 8M983 846l10 2M1000 853l5 -10M1000 853l-6 -2M1005 843l-1 -3M1004 840l-6 -1M995 840l3 -1M994 851l-1 -3M971 855l9 -1M971 855l-5 -7M966 848l2 -5M980 854l0 -6M980 848l-10 -6M970 842l-2 1M969 860l2 -5M959 859l1 -7M960 852l6 -4M984 838l-8 -5M976 833l-6 9M983 846l-3 2M940 831l4 5M947 821l6 7M953 828l0 5M953 833l-9 3M961 839l-3 0M961 839l7 4M960 852l-9 -6M958 839l-7 7M948 857l2 -10M948 857l-5 3M936 856l2 -10M936 856l5 3M938 846l5 -3M943 843l7 4M957 861l-9 -4M951 846l-1 1M933 843l5 3M929 858l7 -2M944 836l-1 7M953 833l5 6M980 866l0 4M980 866l4 -6M994 871l0 -6M994 871l-4 2M994 865l-6 -6M988 859l-4 1M974 865l6 1M980 854l4 6M998 873l-4 -2M994 851l-6 8M688 517l-11 8M678 505l-7 8M677 525l-6 -12M687 537l-10 -12M662 498l-2 10M660 508l4 5M664 513l7 0M682 747l15 -7M680 723l13 5M693 728l4 12M706 757l-4 -13M697 740l5 4M730 682l1 3M710 691l13 3M731 685l-8 9M669 542l9 5M669 542l-12 9M678 547l-3 12M675 559l-6 4M657 551l6 10M669 563l-6 -2M682 545l-4 2M677 525l-11 7M666 532l3 10M691 568l-16 -9M671 574l-2 -11M649 548l8 3M649 548l-5 18M644 566l4 5M651 571l12 -10M662 582l3 -1M736 595l-1 -9M747 585l-6 -5M741 580l-6 6M722 595l1 -14M735 586l-12 -5M710 577l12 1M723 581l-1 -3M725 566l-3 12M658 598l11 1M658 598l-3 14M669 599l6 17M657 616l-2 -4M657 616l17 1M674 617l1 -1M655 593l3 5M674 592l-5 7M643 607l12 5M639 597l3 -6M689 611l-14 5M648 631l9 -15M675 640l-1 -23M650 492l-8 12M632 503l3 1M642 504l-7 0M660 508l-12 1M642 504l6 5M613 577l7 11M613 577l8 -7M620 588l11 -6M631 582l-3 -9M628 573l-7 -3M640 585l-9 -3M619 590l1 -2M644 566l-8 -2M636 564l-8 9M578 538l-10 16M585 542l4 12M589 554l-7 8M582 562l-14 -8M543 566l14 1M555 594l10 -14M565 580l-8 -13M551 539l12 16M557 567l6 -12M563 555l5 -1M905 254l0 -6M917 254l0 -6M861 478l8 -4M871 483l-1 -8M869 474l1 1M861 465l4 1M869 474l-4 -8M870 452l1 10M870 452l-6 0M871 462l-6 4M892 485l-7 -8M879 485l4 -7M885 477l-2 1M870 475l6 -2M883 478l-7 -5M869 440l3 -6M869 440l-8 1M872 434l-8 -6M864 428l-5 7M859 435l2 6M877 432l-5 2M877 432l4 4M881 436l0 6M881 442l-8 3M873 445l-4 -5M870 452l2 -2M872 450l1 -5M859 443l2 -2M871 419l7 9M878 428l-1 4M850 431l9 4M983 433l-10 5M983 433l-3 -9M980 424l-1 -1M979 423l-9 6M973 438l-3 -9M988 441l0 -5M988 436l-5 -3M977 417l2 6M992 421l0 -5M992 421l-12 3M963 426l7 3M950 265l-1 -4M950 265l13 -2M963 263l-1 -3M947 272l3 -7M964 264l-1 -1M897 393l-9 7M884 387l1 13M888 400l-3 0M902 407l-4 1M888 400l10 8M874 400l11 0M922 375l1 -5M922 375l-7 2M923 370l-5 -5M915 377l-9 -8M918 365l-10 1M906 369l1 -3M908 366l-1 0M925 379l-3 -4M933 365l-10 5M912 385l3 -8M922 356l-4 9M901 374l5 -5M912 351l-4 15M896 358l11 8M1180 476l-1 -10M1180 476l10 -4M1179 466l11 2M1190 472l0 -4M1178 464l1 2M1194 479l-4 -7M1193 464l-3 4M1152 519l4 7M1152 519l10 -4M1159 527l-3 -1M1159 527l5 -4M1164 523l1 -4M1165 519l-3 -4M1143 524l9 -5M1149 532l7 -6M1150 515l2 4M1150 515l1 -4M1157 508l5 3M1162 511l0 4M1161 533l-2 -6M1170 532l1 -4M1171 528l-7 -5M1171 528l3 -1M1174 527l1 -9M1175 517l-10 2M1164 510l8 1M1164 510l-2 1M1166 504l6 -3M1166 504l-5 -5M1172 501l-3 -8M1161 499l4 -6M1165 493l4 0M1164 510l2 -6M1173 502l-1 -1M1156 500l5 -1M1161 488l4 5M1184 557l7 -5M1189 564l6 -8M1191 552l4 4M1174 527l6 2M1182 521l1 4M1180 529l3 -4M1174 537l4 -1M1178 536l2 -5M1180 529l0 2M1196 511l0 4M1187 517l5 3M1196 515l-4 5M1205 512l-2 7M1196 515l7 4M1090 353l1 -6M1090 353l6 5M1091 347l10 0M1096 358l3 0M1099 358l3 -5M1101 347l1 6M1085 356l-7 -3M1085 356l5 -3M1104 344l-3 3M1104 365l1 0M1104 365l-5 -7M1111 355l0 3M1111 355l-9 -2M1110 344l3 7M1113 351l-2 4M1079 367l6 -5M1079 367l5 7M1085 362l6 2M1084 374l10 -2M1091 364l3 8M1077 367l2 0M1085 356l0 6M1081 382l3 -8M1096 358l-5 6M1096 375l-2 -3M1104 365l-10 7M1115 340l1 0M1113 351l7 -1M1120 361l2 -8M907 448l-4 9M911 461l-1 0M910 461l-4 -1M903 457l3 3M910 471l-4 2M910 471l0 -10M906 473l-7 -4M906 460l-7 9M922 519l-2 -7M933 518l-4 -8M929 510l-9 2M906 507l10 0M911 517l7 -6M916 507l2 4M920 512l-2 -1M970 468l-6 1M963 458l-1 2M962 460l2 9M966 479l-9 3M966 479l-3 -8M957 482l-3 -2M954 480l2 -9M956 471l7 0M968 480l-2 -1M964 469l-1 2M967 499l-4 -2M957 506l-2 -7M955 499l8 -2M968 487l-6 3M963 497l-1 -7M957 482l1 6M962 490l-4 -2M951 512l-5 -6M939 514l0 -5M946 506l-7 3M1010 507l-1 1M997 503l6 7M1003 510l6 -2M994 540l8 -3M1008 546l0 -5M999 548l5 0M1008 541l-6 -4M1004 561l-3 0M994 554l-1 2M1001 561l-8 -5M1007 569l-5 4M1002 573l-8 -3M1001 561l-7 9M983 557l-1 -8M983 557l6 1M989 558l4 -2M992 602l-5 -7M999 590l2 6M999 590l-5 -2M987 595l7 -7M994 423l11 -1M994 423l-1 9M1005 422l-1 9M1004 431l-5 3M993 432l6 2M992 421l2 2M1007 420l-2 2M988 436l5 -4M1011 434l-7 -3M1002 441l-3 -7M1127 478l-6 -3M1132 473l-8 -6M1121 475l3 -8M1118 480l0 -4M1121 475l-3 1M1120 452l-2 12M1130 461l-6 6M1118 464l6 3M1066 477l4 -3M1066 477l-4 -4M1070 474l0 -7M1062 473l4 -7M1066 466l4 1M1060 485l6 -5M1058 473l4 0M1066 480l0 -3M1062 461l4 5M1073 464l1 -3M1073 464l-3 3M1064 650l2 2M1064 650l4 -7M1066 652l7 -2M1073 650l2 -6M1068 643l7 1M1066 655l0 -3M1056 658l2 -9M1059 649l-1 0M1059 649l5 1M1077 655l-4 -5M1077 644l-2 0M1067 641l5 -7M1067 641l1 2M1042 646l2 0M1049 635l-5 11M1049 655l1 -7M1044 646l6 2M1058 649l-6 -2M1050 648l2 -1M1058 630l4 3M1058 630l-6 6M1062 633l0 6M1052 636l2 3M1054 639l6 1M1062 639l-2 1M1067 641l-5 -2M1072 634l-6 -3M1066 631l-4 2M1049 635l3 1M1052 647l2 -8M1059 649l1 -9M1076 627l-5 -2M1066 631l0 -5M1071 625l-5 1M1101 602l-4 3M1103 611l-6 0M1097 611l0 -6M1096 617l1 -6M1087 578l-7 -2M1084 569l-4 7M1037 620l2 0M1037 620l-6 -3M1039 620l2 -7M1031 617l1 -5M1032 612l5 -2M1037 610l4 2M1041 612l0 1M1033 629l4 -9M1044 624l-5 -4M1027 620l4 -3M1049 617l-5 7M1049 617l0 -1M1049 616l-8 -3M1027 608l5 4M1027 608l-5 5M1022 613l-1 3M1027 608l0 -5M1036 603l-3 -2M1036 603l1 7M1033 601l-6 2M1024 585l-5 1M1020 576l-6 4M1019 586l-5 -6M1002 579l0 -6M1002 579l4 4M1006 583l2 0M1009 570l3 10M1008 583l4 -3M1014 580l-2 0M1105 516l-1 3M1096 523l8 -4M1132 510l1 5M1132 510l8 -1M1133 515l6 4M1140 509l2 6M1142 515l-3 4M1142 506l-2 3M1132 509l0 1M1140 524l-1 -5M1137 527l-10 -6M1127 521l6 -6M1150 515l-8 0M1025 555l6 -5M1031 550l-1 -4M1020 552l1 -7M1030 546l-9 -1M1009 546l10 -4M1021 545l-2 -3M1021 513l-2 2M1009 508l4 7M1019 515l-6 0M1008 541l4 -7M1002 537l1 -7M1003 530l9 3M1012 534l0 -1M1019 542l1 -5M1012 534l8 3M1043 579l6 -5M1050 584l4 -4M1049 574l5 5M1054 580l0 -1M1056 569l-7 1M1056 569l1 8M1049 574l0 -4M1054 579l3 -2M1044 549l7 -2M1044 549l2 8M1055 553l-2 5M1055 553l-4 -6M1046 557l7 1M1057 569l-1 -7M1057 569l7 0M1056 562l7 -1M1064 569l0 -7M1064 562l-1 -1M1049 570l-3 -2M1046 568l7 -8M1053 560l3 2M1055 553l4 -1M1059 552l5 5M1053 558l0 2M1064 557l-1 4M1042 568l-7 -1M1042 568l2 -1M1044 567l-2 -7M1042 560l-6 -2M1035 567l-1 -7M1036 558l-2 2M1040 575l2 -7M1032 569l3 -2M1046 568l-2 -1M1046 557l-4 3M1036 553l6 -4M1036 553l0 5M1044 549l-2 0M1025 560l9 0M1031 550l5 3M1062 503l2 7M1064 510l-1 1M1055 509l2 3M1063 511l-6 1M1082 527l1 7M1082 527l-8 4M1083 534l-5 4M1074 531l4 7M1080 508l-3 -4M1080 508l-4 5M1077 504l-6 3M1074 514l2 -1M1074 514l-4 -5M1070 509l1 -2M1086 508l-6 0M1078 499l-1 5M1081 517l-5 -4M1078 498l-10 0M1068 500l3 7M1080 523l-6 -1M1072 516l2 6M1072 516l2 -2M1064 510l6 -1M1072 516l-7 2M1063 511l2 7M1115 591l8 -3M1115 582l5 0M1123 587l-3 -5M1142 576l-6 2M1142 576l0 -7M1133 571l3 7M1133 571l5 -4M1142 569l-4 -2M1138 585l-2 -7M1145 578l-3 -2M1151 574l-4 -6M1147 568l-5 1M1133 587l-4 -2M1129 580l0 5M1129 580l7 -2M1121 569l6 -3M1121 569l0 5M1121 574l2 2M1130 571l-5 5M1130 571l-3 -5M1123 576l2 0M1112 574l9 0M1117 564l4 5M1120 582l3 -6M1129 580l-4 -4M1133 571l-3 0M1129 585l-6 2M782 627l10 2M796 616l-1 11M792 629l3 -2M825 641l-5 -8M833 627l-9 1M824 628l-4 5M827 613l-9 8M824 628l-6 -7M767 557l8 -7M782 556l0 -3M782 553l-7 -3M770 541l5 9M869 526l3 -5M869 526l-7 1M862 515l-4 6M862 515l8 2M870 517l2 4M858 521l4 6M874 534l-5 -8M880 521l-8 0M860 531l2 -4M860 510l2 5M851 520l7 1M874 508l-4 9M849 587l4 -2M847 569l9 6M856 575l-3 10M870 570l-7 1M870 570l4 -8M863 571l-2 -8M874 562l-3 -3M871 559l-8 0M863 559l-2 4M876 575l-6 -5M874 581l-6 3M861 574l7 10M861 574l2 -3M882 563l-8 -1M852 561l9 2M861 574l-5 1M873 552l-2 7M861 552l2 7M771 786l4 -8M771 786l8 5M775 778l4 0M779 791l5 -7M779 778l5 6M779 791l1 5M792 791l-4 -7M784 784l4 0M801 783l-8 -5M788 784l5 -6M800 748l2 -10M800 748l5 5M814 742l-3 8M805 753l6 -3M788 729l-1 8M774 732l-1 -3M774 732l9 7M783 739l4 -2M800 748l-7 0M799 736l-8 3M793 748l-2 -9M787 737l4 2M706 827l14 -2M706 827l-7 -20M720 825l-2 -24M699 807l19 -6M695 805l4 2M687 834l16 -2M703 832l3 -5M732 810l-13 -10M732 810l0 7M719 800l-1 1M732 817l-10 9M722 826l-2 -1M720 796l-1 4M720 796l-1 -2M720 796l16 -1M730 784l7 3M736 795l1 -8M762 758l-2 -4M762 758l-5 10M760 754l-11 3M749 757l-1 8M748 765l9 3M728 771l15 5M731 760l15 6M746 766l-3 10M737 787l5 -3M742 784l2 -7M743 776l1 1M768 683l4 -10M768 683l-10 -5M772 673l-4 -6M758 678l1 -11M759 667l9 0M768 684l0 -1M782 675l-10 -2M753 682l3 8M753 682l5 -4M756 690l4 1M787 666l-6 -8M746 680l1 1M747 681l6 1M784 717l5 -10M799 714l-1 -2M798 712l-9 -5M800 689l4 11M790 693l2 8M804 700l-12 1M778 701l11 5M792 701l-3 5M867 784l4 3M867 784l-10 3M871 792l-7 6M871 792l0 -5M855 792l2 -5M855 792l5 5M860 797l4 1M879 797l-8 -5M869 807l-5 -9M884 788l-4 -5M880 783l-9 4M883 775l-3 3M883 775l-1 -6M880 778l-11 -5M882 769l-7 -3M875 766l-6 7M893 776l-10 -1M880 783l0 -5M867 774l0 10M867 774l2 -1M770 811l11 -1M770 811l1 10M781 810l0 11M781 821l-7 2M774 823l-3 -2M786 824l8 -3M786 824l-5 -3M782 809l-1 1M786 824l0 6M795 837l4 -7M795 837l-4 0M786 830l5 7M930 697l-7 -2M921 707l-2 -6M923 695l-4 6M933 688l-6 -3M927 685l-6 5M923 695l-2 -5M892 710l2 9M892 710l1 -1M893 709l9 2M894 719l9 0M903 719l-1 -8M888 710l4 0M890 725l-2 1M890 725l4 -6M886 695l8 6M894 701l-1 8M912 721l-7 0M905 721l-2 -2M914 711l-7 -5M907 706l-5 5M899 698l8 5M899 698l0 -6M902 690l-3 2M902 690l8 0M910 690l1 9M907 703l4 -4M894 701l5 -3M907 706l0 -3M889 688l10 4M899 678l3 12M908 679l-7 -2M908 679l4 9M912 688l-2 2M921 690l-6 -2M919 701l-8 -2M912 688l3 0M904 766l-7 -5M909 754l-10 -2M897 761l2 -9M894 775l-4 -12M897 761l-7 2M882 769l7 -6M844 735l-9 -2M844 735l2 2M846 741l-3 4M833 734l2 -1M833 734l-1 12M843 745l-11 1M820 741l6 6M826 747l6 0M833 734l-10 -1M830 760l-8 -4M830 760l0 9M830 769l-14 -3M822 756l-2 1M820 757l-4 8M826 747l-4 9M835 757l-3 -10M835 757l-5 3M817 776l-1 -10M820 779l7 -1M831 770l-4 8M831 770l-1 -1M811 750l9 7M805 753l-1 1M804 754l7 11M811 765l5 0M804 770l4 9M804 770l7 -5M860 753l0 9M860 753l9 -3M871 759l-2 -9M871 759l-8 4M863 763l-3 -1M871 745l0 1M871 746l-2 4M857 751l3 2M857 751l0 -6M867 773l-4 -10M867 773l0 1M875 761l-4 -2M875 761l0 5M864 712l-5 4M851 705l2 7M853 712l6 4M844 735l2 -11M855 733l0 -9M846 724l9 0M868 728l-10 -7M855 724l3 -3M858 721l1 -5M843 704l-3 6M853 712l-10 4M840 710l3 6M846 724l-4 -4M843 716l-1 4M835 733l-1 -11M842 720l-8 2M835 688l-1 5M840 699l-3 -2M834 693l3 4M825 681l-9 -7M825 681l-5 8M816 674l-6 6M820 689l-6 0M810 680l1 6M811 686l3 3M829 680l-4 1M816 672l0 2M825 694l9 -1M825 694l-5 -5M801 676l9 4M800 689l11 -3M636 564l-7 -10M621 570l-3 -11M618 559l11 -5M649 547l-17 1M629 554l3 -6M813 460l-3 -4M813 460l-1 7M812 467l-10 -1M810 456l-3 0M807 456l-6 4M802 466l-1 -6M824 458l-11 2M815 449l-5 7M813 468l-1 -1M796 472l6 -6M800 446l7 10M794 457l7 3M876 601l1 -7M876 601l-10 4M877 594l-11 -5M861 599l4 -9M861 599l5 6M865 590l1 -1M879 593l-2 1M882 606l-6 -5M874 614l-8 -9M868 584l-2 5M851 599l10 0M853 585l12 5M861 611l5 -6M906 666l7 2M908 679l5 -6M913 673l0 -5M915 688l4 -10M913 673l6 5M927 685l-1 -8M919 678l7 -1M917 656l0 9M917 665l-4 3M917 656l12 1M923 647l10 5M929 657l4 -5M935 649l-1 2M934 651l-1 1M955 660l-6 3M955 660l-4 -8M949 663l-6 -4M951 652l-3 -1M948 651l-6 6M942 657l1 2M948 671l1 -8M954 648l-3 4M944 645l4 6M934 651l8 6M951 629l3 -8M940 622l5 -3M945 619l9 2M962 623l-6 -3M956 620l-2 1M935 612l8 -3M935 612l-3 -7M932 605l3 -6M935 599l8 3M943 602l0 7M934 615l1 -3M946 611l-1 8M946 611l-3 -2M923 605l9 0M934 595l1 4M1223 389l5 9M1223 388l7 -3M1228 398l8 -2M1231 385l-1 0M1231 385l6 8M1237 393l-1 3M1220 391l3 -2M1224 406l4 -8M1221 386l2 2M1229 381l1 4M1240 401l-4 -5M1239 380l-8 5M1246 388l-9 5M1328 525l2 4M1330 529l2 1M1330 541l-1 -2M1332 532l-3 7M1315 531l4 -2M1315 531l1 5M1319 529l5 2M1324 531l-1 7M1316 536l5 3M1321 539l2 -1M1310 526l1 3M1311 529l4 2M1320 521l-1 8M1330 529l-6 2M1329 539l-6 -1M1320 546l1 -7M1310 540l6 8M1310 540l6 -4M1185 585l-1 3M1192 593l-6 -2M1184 588l2 3M1189 602l-6 -6M1189 602l3 -2M1186 591l-3 5M1183 607l4 -1M1187 606l2 -4M1179 600l0 -2M1183 596l-4 2M1219 589l-4 3M1207 588l7 -7M1207 588l8 4M1204 587l3 1M1201 597l5 0M1207 588l-1 9M1192 568l6 0M1195 556l3 1M1198 557l0 11M1195 578l4 -9M1220 562l2 5M1220 562l3 -6M1230 562l-6 5M1222 567l2 0M1234 581l-4 -7M1234 581l1 0M1235 581l7 -7M1230 573l5 -4M1235 569l7 4M1242 573l0 1M1223 578l0 0M1223 578l7 -4M1234 589l4 2M1243 585l-8 -4M1247 582l-5 -8M1222 567l-4 4M1224 567l6 6M1218 571l5 7M1235 566l0 3M1245 570l-3 3M1214 581l-1 -3M1218 571l-4 0M1214 571l-1 7M1203 580l2 -2M1205 578l8 0M1217 664l4 -7M1209 656l7 -5M1216 651l5 6M1272 629l-6 0M1264 623l1 5M1264 623l6 -5M1266 629l-1 -1M1271 640l-6 -3M1266 629l-1 8M1197 602l2 3M1199 605l1 1M1200 606l6 -2M1206 597l2 2M1206 604l2 -5M1219 609l0 -5M1219 609l-4 3M1215 612l-4 -4M1211 608l3 -4M1219 604l-5 0M1206 604l3 4M1209 608l2 0M1208 599l4 0M1214 604l-2 -5M1215 592l0 4M1215 596l-3 3M1227 604l3 -8M1227 604l-5 -2M1221 600l1 2M1221 600l3 -5M1224 595l5 0M1229 595l1 1M1236 598l-6 -2M1236 602l-7 4M1229 606l-1 0M1228 606l-1 -2M1219 609l5 3M1228 606l-4 6M1219 604l3 -2M1215 596l6 4M1220 589l4 6M1230 591l-1 4M1174 617l5 -6M1174 617l0 1M1179 611l7 6M1181 624l5 -6M1193 629l0 -8M1186 618l7 3M1187 606l4 4M1186 617l5 -7M1199 605l-6 6M1191 610l2 1M1256 516l-3 5M1256 516l-3 -6M1253 521l-8 -5M1253 510l-6 2M1247 512l-2 4M1265 516l-9 0M1254 524l-1 -3M1243 523l2 -7M1242 503l5 9M1237 514l8 2M1291 514l1 6M1279 515l6 8M1285 523l7 -3M1302 513l-8 8M1292 520l2 1M1305 523l-7 3M1294 521l4 5M1311 529l-5 4M1306 533l-8 -5M1298 526l0 2M1297 540l9 -3M1297 541l2 4M1299 545l6 2M1305 547l4 -7M1309 540l-3 -3M1306 533l0 4M1296 530l2 -2M1296 530l1 10M1288 547l4 -6M1296 551l3 -6M1292 541l5 0M1306 549l-1 -2M1121 598l1 4M1121 598l4 -5M1122 602l8 0M1125 593l3 1M1128 594l2 7M1130 601l0 1M1115 595l6 3M1120 604l2 -2M1123 588l2 5M1133 591l-5 3M1138 597l-8 4M1141 601l-1 5M1140 606l-4 1M1136 607l-6 -4M1130 603l0 -1M1117 630l4 1M1117 620l5 0M1121 631l2 -2M1123 629l-1 -9M1132 646l-2 -7M1132 646l-9 0M1123 646l-3 -3M1130 639l-9 1M1120 643l0 -2M1120 641l1 -1M1123 654l0 -8M1113 648l7 -5M1121 631l0 9M1123 629l5 1M1128 630l2 9M1112 637l8 4M1158 733l-4 -6M1158 733l-2 4M1156 737l-5 -2M1151 735l-1 -6M1150 729l4 -2M1165 731l-7 2M1156 724l-2 3M1157 740l-1 -3M1147 737l2 7M1147 737l4 -2M1149 719l-3 3M1147 728l-1 -6M1147 728l3 1M1165 801l1 -4M1175 803l-2 -9M1166 797l7 -3M1158 794l5 -2M1157 800l0 -1M1166 797l-3 -5M1161 785l3 4M1163 792l1 -3M1047 794l-1 3M1047 794l11 -4M1046 797l5 5M1058 791l0 10M1051 802l7 -1M1038 801l8 -4M1043 787l4 7M1057 782l1 8M1048 810l-11 -6M1048 810l3 -8M1071 792l-13 -1M1071 792l-4 9M1058 801l1 1M1059 802l8 -1M1066 832l0 -3M1072 830l-6 -1M1076 794l3 7M1067 801l5 8M1072 809l7 -8M1090 799l-4 4M1086 803l-7 -2M1117 748l-4 2M1117 748l2 -5M1119 743l-2 -4M1117 739l-10 1M1113 750l-6 -10M1120 759l1 0M1121 759l3 -4M1123 751l1 4M1123 751l-6 -3M1113 755l0 -4M1113 750l0 1M1107 731l0 8M1115 730l3 7M1118 737l-1 2M1099 754l2 0M1099 754l-3 -6M1101 754l4 -4M1096 748l5 -6M1105 750l-2 -8M1101 742l2 0M1096 760l3 -6M1109 758l-8 -4M1091 747l5 1M1113 751l-8 -1M1095 736l-6 2M1095 736l6 6M1107 739l-4 3M1098 729l-3 7M1116 681l-6 4M1107 673l-2 8M1110 685l-5 -4M1113 691l-3 -3M1110 685l0 3M1096 681l4 2M1100 683l5 -2M1095 693l7 -3M1095 693l3 7M1098 700l5 0M1102 690l2 1M1104 691l1 7M1103 700l2 -2M1094 693l1 0M1100 683l2 7M1085 700l7 6M1092 706l6 -6M1092 706l1 2M1106 706l-3 -6M1093 708l5 4M1110 688l-6 3M1110 697l-5 1M1123 716l4 6M1118 726l4 0M1127 722l-5 4M1306 630l-3 6M1296 627l0 9M1303 636l-7 0M1287 636l8 1M1296 636l-1 1M1322 645l-8 -5M1314 652l-3 -5M1311 647l3 -7M1315 635l-1 4M1303 636l3 4M1314 639l-8 1M1314 639l0 1M1310 656l-2 0M1306 666l-2 -5M1308 656l-4 5M1293 668l4 -9M1304 661l-7 -2M1275 900l1 0M1309 566l-2 0M1309 566l3 7M1307 566l-3 8M1312 573l-3 4M1309 577l-5 -3M1303 564l4 2M1317 572l-5 1M1300 574l4 0M1310 579l-1 -2M1266 593l1 3M1276 594l-2 3M1274 597l-7 -1M1281 603l-6 -3M1274 597l1 3M1277 610l-5 -5M1275 600l-3 5M1269 613l-1 -1M1268 612l1 -7M1272 605l-3 0M943 754l-3 -9M943 754l-13 0M930 754l3 -11M940 745l-7 -2M944 741l7 2M944 741l-4 4M951 743l-2 10M929 755l1 -1M932 741l1 2M923 741l-2 3M935 732l8 4M943 736l1 5M915 732l-4 3M912 746l-3 -4M911 735l-2 7M905 721l-4 8M911 735l-10 -6M890 725l11 5M901 729l0 1M999 636l-8 5M999 636l3 11M991 641l2 6M993 647l8 2M1002 647l0 2M987 638l4 3M1000 634l-1 2M1010 641l-8 6M987 651l6 -4M995 659l6 -10M1006 652l-4 -3M1008 663l-3 2M800 890l9 -5M800 890l1 7M801 897l6 2M807 899l7 -5M814 894l-5 -9M800 890l-5 -5M795 885l0 -2M800 877l6 0M806 877l3 6M809 885l0 -2M835 874l1 -8M835 874l5 4M840 878l10 -3M836 866l4 -3M840 863l10 2M850 875l0 -10M863 839l-6 3M867 853l3 -3M867 853l-8 -1M857 842l2 10M854 862l-4 3M854 862l0 -5M841 854l6 -3M841 854l-1 9M847 851l7 6M822 823l8 -1M822 808l11 2M830 822l1 -1M833 810l-2 11M857 842l-6 -2M847 851l1 -10M854 857l5 -5M851 840l-3 1M841 854l-8 -6M831 863l-2 -9M831 863l5 3M829 854l4 -6M845 841l3 0M845 841l-12 6M833 847l0 1M853 889l-3 2M853 889l12 4M850 891l0 1M850 892l5 7M855 880l0 -1M855 880l-2 9M855 879l-5 -4M840 878l1 7M841 885l9 6M871 887l-4 -5M871 887l-4 4M867 882l-12 -2M871 887l1 0M869 874l-5 -5M869 874l7 -1M876 863l2 5M876 863l-9 0M867 863l-4 3M876 873l2 -5M863 866l1 3M867 882l2 -8M855 879l9 -10M880 879l-4 -6M867 853l0 10M879 854l1 1M880 855l-4 8M854 862l9 4M802 966l-4 -5M807 954l-5 1M798 961l4 -6M798 944l6 -2M798 944l-2 5M802 955l-6 -6M776 923l10 -8M776 923l-5 -9M771 914l1 -4M772 910l13 0M785 910l1 5M798 961l-8 -1M788 965l2 -5M796 949l-6 2M790 960l-2 -5M790 951l-2 4M779 955l9 0M779 955l-1 2M993 792l-1 -5M993 792l-8 6M992 787l-7 -3M985 784l-5 8M980 792l5 6M976 762l3 -7M979 755l6 -1M985 754l3 10M976 762l7 4M983 766l5 -2M1152 806l-4 -1M1147 814l-3 -5M1144 809l4 -4M1151 797l-5 4M1148 805l-2 -4M1142 798l0 1M1142 799l4 2M1141 818l-4 -3M1144 809l-3 0M1137 815l4 -6M1159 833l1 -5M1160 828l8 -3M1168 825l7 7M1173 835l1 -1M1174 834l1 -2M1155 836l4 -3M1157 822l3 6M1170 819l-2 6M1183 828l-8 4M1175 836l-1 -2M1038 765l3 -4M1029 766l-2 -3M1041 761l-9 -6M1032 755l-5 8M1016 768l-1 -2M1015 764l8 -3M1027 763l-4 -2M1060 754l-1 0M1051 767l-1 -4M1050 763l9 -9M1041 761l3 -1M1050 763l-6 -3M994 700l6 -1M999 689l4 4M1003 693l-3 6M1011 691l-5 -11M1011 691l-1 1M1003 693l7 -1M1040 726l4 -10M1040 726l-8 -5M1032 721l4 -9M1044 716l-8 -4M1031 707l5 3M1031 707l-1 -2M1030 705l0 -2M1030 703l7 -6M1036 710l7 -6M1043 704l-2 -6M1041 698l-4 -1M1027 721l-4 -3M1027 721l5 0M1023 718l8 -11M1036 712l0 -2M1047 715l-3 1M1048 706l-5 -2M1046 693l-5 5M1050 694l2 10M1027 721l-1 9M1040 728l-6 4M1040 728l0 -2M1034 732l-8 -2M1032 755l0 -3M1032 752l7 -3M1044 760l1 -9M1039 749l6 2M1059 754l-11 -5M1048 749l-3 2M1041 728l3 10M1041 728l10 -1M1054 730l0 8M1054 730l-3 -3M1044 738l5 3M1054 738l-5 3M1040 728l1 0M1034 732l0 8M1034 740l3 1M1037 741l7 -3M1052 718l-1 9M1064 726l3 3M1064 726l-10 4M1062 741l-8 -3M1064 726l0 -2M1037 741l2 8M1048 749l1 -8M992 704l0 1M1000 699l7 6M1006 708l1 -3M1006 708l-9 2M997 710l-5 -5M976 707l2 3M978 710l9 1M992 705l-5 6M1052 676l4 -3M1052 676l1 4M1053 680l5 2M1058 682l3 -4M1056 673l5 1M1061 674l0 4M1055 667l1 6M1046 672l6 4M1044 682l-3 -4M1041 678l5 -6M1050 683l3 -3M1064 671l-3 3M1069 679l-2 2M1067 681l-6 -3M1066 687l1 4M1066 687l-7 -1M1067 691l-6 5M1061 696l-6 -5M1059 686l-4 5M1067 681l-1 6M1073 692l-6 -1M1058 682l1 4M1062 699l-1 -3M1052 692l3 -1M1015 691l-4 0M1015 691l3 -8M1008 678l8 -1M1018 683l-2 -6M1018 670l0 4M1018 674l-2 3M1033 683l-6 0M1033 683l2 5M1035 688l-1 3M1034 691l-9 2M1025 693l0 -8M1025 685l2 -2M1042 688l-7 0M1041 678l-4 0M1037 678l-4 5M1037 697l-3 -6M1024 693l6 10M1015 691l5 3M1020 694l4 -1M1018 683l7 2M1026 676l1 7M1026 676l-8 -2M1027 675l9 1M1027 675l2 -8M1029 667l2 -1M1031 666l5 4M1036 670l0 6M1037 678l-1 -2M1026 676l1 -1M1021 666l8 1M1031 662l0 4M1041 667l-5 3M1080 713l6 1M1080 713l-3 6M1086 714l4 10M1077 719l1 4M1078 723l9 3M1087 726l3 -2M1077 706l3 7M1093 708l-7 6M1070 718l7 1M1092 724l-2 0M1075 728l3 -5M1084 736l3 -10M947 715l-5 7M947 715l7 -1M955 716l-1 -2M955 716l-3 14M952 730l-9 -6M943 724l-1 -2M940 708l7 7M935 718l7 4M956 706l-2 8M969 707l-3 10M963 718l3 -1M963 718l-8 -2M943 736l9 -6M954 731l-3 12M954 731l-2 -1M935 732l8 -8M1000 853l1 2M1005 843l6 5M1011 848l-1 8M1010 856l-9 -1M1002 873l4 -5M994 865l5 -2M999 863l7 5M999 863l2 -8M1004 840l1 -1M1011 848l6 -3M1005 839l9 -2M1014 837l3 6M1017 845l0 -2M998 839l-1 -8M987 836l2 -6M997 831l-8 -1M980 825l-5 5M980 825l7 1M975 830l1 3M987 826l2 4M659 522l6 10M659 522l-10 -1M665 532l-15 5M650 537l-7 -9M649 521l-6 7M664 513l-5 9M666 532l-1 0M648 509l1 12M649 547l1 -10M705 708l2 2M693 728l14 -14M707 710l0 4M768 716l-10 5M758 721l0 1M773 729l-14 2M758 722l1 9M768 744l-2 0M768 744l6 -12M766 744l-7 -12M759 731l0 1M758 705l-4 1M758 721l-5 -12M754 706l-1 3M735 574l6 5M735 574l2 -6M741 579l7 -7M737 568l8 -2M745 566l3 6M741 580l0 -1M722 578l13 -4M733 564l4 4M753 574l-5 -2M747 562l-2 4M622 523l12 -2M622 523l5 16M627 539l0 1M627 540l15 -12M634 521l8 7M620 522l2 1M635 504l-1 17M607 531l9 10M616 541l11 -2M632 548l-5 -8M605 615l-10 -9M583 625l-3 -16M595 606l-15 3M609 595l-4 -2M605 593l-9 5M595 606l1 -8M560 606l17 0M580 609l-3 -3M613 577l-5 -1M605 593l-3 -10M602 583l6 -7M871 462l6 2M876 473l2 -8M877 464l1 1M896 420l-2 -4M896 420l-2 5M894 416l-10 -2M894 425l-5 2M884 424l5 3M884 424l0 -9M905 421l-9 -1M898 408l-4 8M898 431l-4 -6M885 400l-1 14M888 434l1 -7M888 434l4 3M892 437l1 0M888 434l-7 2M878 428l6 -4M872 415l12 0M1178 547l5 -2M1191 552l0 -1M1191 551l-8 -6M1178 536l5 6M1180 531l6 2M1186 533l0 7M1186 540l-3 2M1183 545l0 -3M1191 551l5 -7M1186 540l7 0M1193 540l3 4M1183 525l8 2M1192 520l1 5M1193 525l-2 2M1186 533l5 -4M1191 529l0 -2M1193 540l2 -4M1191 529l4 7M1213 516l-6 4M1215 526l-7 -2M1207 520l1 4M1207 520l-4 -1M1193 525l4 1M1203 519l-6 7M955 463l0 7M955 463l-8 -4M947 459l-1 11M946 470l9 0M962 460l-7 3M956 471l-1 -1M953 452l-6 7M914 497l1 0M916 507l1 -1M915 497l2 9M1002 528l5 -6M1002 528l-6 -2M1007 522l-6 -7M994 523l1 -6M994 523l2 3M995 517l6 -2M1003 530l-1 -2M1010 521l5 5M1010 521l-3 1M1012 533l3 -7M992 533l4 -7M1003 510l-2 5M1010 521l3 -6M989 511l6 6M984 523l10 0M935 592l12 -1M943 602l6 -4M947 591l2 7M944 582l4 8M947 591l1 -1M986 610l-7 -1M977 619l2 -9M979 609l0 1M968 618l0 -7M979 610l-11 1M953 558l7 1M954 570l3 -1M957 569l4 -4M960 559l1 6M963 551l2 2M960 559l5 -6M1117 465l-5 7M1117 465l-7 -4M1105 464l6 8M1105 464l5 -3M1111 472l1 0M1118 476l-6 -4M1118 464l-1 1M1112 456l-2 5M1102 463l-1 -1M1102 463l3 1M1107 478l0 -2M1107 476l4 -4M1102 463l-3 8M1107 476l-7 -3M1100 473l-1 -2M1102 483l-7 -2M1100 473l-5 8M1087 454l-2 9M1094 461l-3 4M1091 465l-6 -2M1099 471l-8 -1M1091 465l0 5M1077 460l7 3M1085 463l-1 0M1079 495l-1 -3M1067 492l5 -3M1078 492l-6 -3M1066 480l6 4M1072 489l0 -5M1058 628l3 -4M1058 628l-6 -3M1061 624l-4 -5M1052 625l1 -5M1053 620l4 -1M1058 630l0 -2M1066 626l-3 -3M1063 623l-2 1M1049 627l3 -2M1049 617l4 3M1071 625l-1 -8M1063 623l3 -5M1066 618l4 -1M1080 621l-9 -5M1070 617l1 -1M1090 620l-3 -5M1097 611l-5 0M1092 611l-5 4M1080 621l3 -7M1087 615l-4 -1M1074 566l-2 -4M1074 566l-1 2M1072 562l-8 0M1064 569l1 1M1065 570l8 -2M1057 577l7 0M1065 570l-1 7M1076 565l-2 1M1080 576l-6 -4M1073 568l1 4M1085 587l-2 0M1080 576l-2 5M1083 587l-5 -6M1039 602l3 -6M1039 602l5 2M1044 604l5 -4M1042 596l7 2M1049 598l0 2M1036 603l3 -1M1033 601l0 -7M1041 612l3 -5M1044 607l0 -3M1049 588l1 1M1050 589l1 7M1051 596l-2 2M1010 598l2 -4M1010 598l4 7M1012 594l5 -1M1016 605l-2 0M1016 605l8 -5M1017 593l6 3M1024 600l-1 -4M1006 583l-7 7M1006 598l4 0M1008 583l4 11M1008 613l6 -8M1019 586l-2 7M1022 613l-6 -8M1027 603l-3 -3M1028 592l-5 4M1125 542l8 1M1125 542l0 -9M1125 533l8 0M1133 533l1 9M1134 542l-1 1M1123 543l2 -1M1123 543l-6 0M1115 536l9 -4M1115 536l-1 3M1124 532l1 1M1117 543l-3 -4M1136 530l-3 3M1139 542l5 -5M1139 542l-5 0M1114 550l0 -1M1114 550l5 3M1123 543l1 7M1117 543l-3 6M1124 550l-5 3M1109 558l5 -8M1117 562l3 -2M1119 553l1 7M1127 566l1 -6M1120 560l8 0M1116 524l7 1M1116 524l-2 -7M1114 517l7 -5M1121 512l5 10M1126 522l-3 3M1115 536l-4 -9M1111 527l5 -3M1124 532l-1 -7M1110 515l4 2M1111 527l-2 0M1109 527l-5 -8M1121 511l0 1M1127 521l-1 1M1149 543l-2 6M1139 542l4 8M1143 550l4 -1M1156 550l-5 2M1147 549l4 3M1156 562l-5 0M1151 552l0 10M1147 568l4 -6M1037 526l-5 5M1037 526l-7 -6M1032 531l-10 -6M1030 520l-8 5M1031 515l-1 5M1040 514l-1 11M1039 525l-2 1M1019 515l3 10M1015 526l7 -1M1020 537l1 -1M1021 536l1 -11M1029 537l1 8M1029 537l3 -3M1032 534l8 4M1030 545l9 -3M1039 542l1 -3M1021 536l8 1M1032 531l0 3M1039 525l3 1M1043 530l-1 -4M1043 530l-3 8M1042 549l-3 -7M1051 547l-4 -8M1047 539l-7 0M1064 557l4 -3M1072 562l0 -5M1068 554l4 3M1079 555l-1 -1M1072 557l6 -3M1083 534l4 2M1091 530l0 1M1087 536l4 -5M1114 539l-7 0M1114 549l-7 -3M1107 539l0 7M1103 551l0 -2M1103 549l4 -3M1109 527l-9 1M1109 527l-5 10M1104 537l-6 -4M1100 528l-2 5M1096 523l4 5M1107 539l-3 -1M1091 531l5 3M1096 534l2 -1M1068 554l1 -6M1078 554l-3 -5M1069 548l6 1M1084 550l0 -6M1084 544l-5 -1M1075 549l4 -6M1047 515l2 3M1042 526l3 -1M1049 518l-4 7M1057 512l-2 7M1049 518l6 1M1065 518l-1 2M1064 520l-7 1M1055 519l2 2M782 640l9 1M792 629l1 9M791 641l2 -3M780 653l13 -3M791 641l2 9M797 660l0 -7M793 650l4 3M809 653l-9 -2M797 653l3 -2M811 642l-8 1M811 642l2 -8M813 634l-5 -5M803 643l-3 -4M800 639l4 -9M804 630l4 -1M815 647l-4 -5M800 651l3 -8M820 633l-7 1M793 638l7 1M795 627l9 3M817 620l-8 6M817 620l-4 -8M809 626l-7 -13M813 612l-10 1M818 621l-1 -1M808 629l1 -3M818 606l-5 6M799 613l3 0M807 599l-4 14M796 563l-3 -11M782 553l3 -3M785 550l8 2M806 553l-8 -5M793 552l5 -4M804 539l-6 5M798 544l0 4M796 769l-3 4M796 769l-1 -6M793 773l-10 -2M795 763l-4 -3M791 760l-7 0M784 760l-3 7M781 767l2 4M804 770l-8 -1M793 778l0 -5M804 754l-9 9M779 778l4 -7M793 748l-1 1M792 749l-1 11M775 778l-7 -6M771 765l10 2M771 765l-3 7M781 743l3 6M781 743l-10 3M784 749l-4 6M771 746l4 9M775 755l5 0M783 739l-2 4M792 749l-8 0M768 744l3 2M784 760l-4 -5M762 758l8 3M770 761l5 -6M760 754l1 -5M761 749l5 -5M770 761l1 4M721 754l4 -14M725 740l11 6M731 760l7 -8M736 746l2 6M749 757l-4 -5M748 765l-2 1M738 752l7 0M761 749l-10 -6M745 752l6 -9M732 810l9 -8M736 795l5 6M741 802l0 -1M749 812l-8 7M749 812l-2 -5M741 819l-9 -2M741 802l6 5M742 784l9 7M741 801l10 -10M766 773l-3 9M766 773l-9 -4M757 769l-4 9M763 782l-9 -1M754 781l-1 -3M771 786l-5 1M768 772l-2 1M766 787l-3 -5M757 768l0 1M744 777l9 1M751 791l1 0M752 791l2 -10M796 869l1 -4M797 865l-7 -6M786 873l-2 -13M790 859l-6 1M875 761l6 -5M871 746l8 3M881 756l-2 -7M889 763l-3 -5M881 756l5 2M835 757l3 1M843 745l2 7M838 758l7 -6M857 751l-8 3M849 754l-4 -2M855 792l-8 2M857 787l-4 -10M853 777l-11 7M847 794l-5 -10M825 792l7 -4M827 778l5 8M832 788l0 -2M831 770l7 1M838 771l2 12M832 786l8 -3M825 694l-3 8M837 697l-6 8M822 702l9 3M840 710l-8 -1M832 709l-1 -4M617 559l-6 -9M617 559l-14 7M611 550l-9 -1M603 566l-1 0M602 566l-4 -11M598 555l4 -6M618 559l-1 0M616 541l-5 9M608 576l-5 -10M599 539l3 10M589 554l9 1M721 856l2 -3M707 845l-4 7M707 845l15 4M722 849l1 4M703 832l4 13M683 854l5 1M722 826l7 9M729 835l-1 8M728 843l-6 6M942 671l-4 -6M942 671l-8 5M938 665l-7 -1M931 664l-4 5M934 676l-6 -1M928 675l-1 -6M945 673l-3 -2M943 659l-5 6M939 686l-5 -10M929 657l2 7M917 665l10 4M926 677l2 -2M1176 594l2 -5M1176 594l-5 0M1171 594l-2 -4M1169 590l4 -4M1173 586l5 3M1184 588l-6 1M1179 598l-3 -4M1172 603l-3 -6M1169 597l2 -3M1164 598l5 -1M1165 589l4 1M1172 581l1 5M1211 566l2 4M1211 566l-5 -2M1213 570l-9 2M1206 564l-6 5M1200 569l4 3M1215 561l5 1M1215 561l-4 5M1214 571l-1 -1M1205 578l-1 -6M1199 569l1 0M1229 606l5 6M1224 612l0 3M1224 615l7 0M1234 612l-3 3M1264 623l-4 -4M1268 612l-6 0M1262 612l-3 4M1260 619l-1 -3M1224 615l-3 4M1215 612l0 3M1215 615l6 4M1230 663l0 -2M1221 657l4 -1M1230 661l-5 -5M1216 651l1 -4M1226 647l-9 0M1226 647l2 3M1225 656l3 -6M1267 651l-2 0M1265 637l-4 4M1261 641l4 10M1257 663l2 -9M1265 651l-6 3M1247 654l8 -2M1247 654l4 9M1259 654l-4 -2M1255 652l-1 -7M1254 645l6 -4M1265 628l-10 2M1260 641l-5 -6M1255 630l0 5M1246 643l0 -3M1246 643l8 2M1255 635l-9 5M1196 618l1 -1M1196 618l7 5M1197 617l6 -3M1203 623l5 -3M1203 614l2 0M1205 614l3 5M1208 620l0 -1M1193 621l3 -3M1193 611l4 6M1202 627l1 -4M1200 606l3 8M1209 608l-4 6M1215 615l-7 4M1283 527l1 -1M1283 527l-2 8M1284 526l6 5M1290 531l-2 6M1288 537l-4 0M1281 535l3 2M1274 526l9 1M1285 523l-1 3M1273 536l8 -1M1296 530l-6 1M1292 541l-4 -4M1281 543l3 -6M1124 618l6 2M1124 618l0 -7M1124 611l3 -1M1127 610l7 3M1130 620l5 -5M1134 613l1 2M1128 630l1 -1M1122 620l2 -2M1129 629l2 -6M1131 623l-1 -3M1122 610l2 1M1130 603l-3 7M1136 607l-2 6M1138 616l-3 -1M1138 616l3 6M1141 622l-3 3M1131 623l7 2M1145 611l-5 -5M1145 611l-7 5M1136 637l4 3M1136 637l0 -6M1136 631l1 0M1137 631l6 1M1143 632l0 7M1140 640l3 -1M1138 645l2 -5M1130 639l6 -2M1129 629l7 2M1138 625l-1 6M1148 640l-5 -1M1141 622l1 0M1143 632l2 -2M1145 630l-3 -8M1146 611l2 10M1146 611l-1 0M1142 622l6 -1M1173 794l-3 -6M1173 794l5 -1M1179 792l-1 1M1179 792l0 -8M1170 788l2 -4M1172 784l4 -2M1176 782l3 2M1164 789l6 -1M1182 799l-4 -6M1187 790l-8 2M1185 783l-6 1M1166 781l6 3M1176 778l0 4M1056 825l5 -1M1056 825l-9 -8M1061 824l1 -11M1049 812l-2 5M1049 812l11 -1M1060 811l2 2M1052 832l4 -7M1052 832l1 2M1066 829l-2 -4M1064 825l-3 -1M1041 830l4 -12M1041 830l11 2M1045 818l2 -1M1048 810l1 2M1045 818l-7 -2M1059 802l1 9M1072 809l0 1M1072 810l-10 3M1098 811l-9 0M1086 803l1 7M1089 811l-2 -1M1097 822l-8 -3M1089 811l0 8M1072 810l4 5M1087 810l-11 5M1064 825l12 -7M1076 818l0 -3M1148 767l-1 -8M1148 767l5 2M1153 769l3 -2M1154 760l2 7M1154 760l-7 -1M1152 773l1 -4M1141 769l7 -2M1163 773l-7 -6M1157 756l-3 4M1163 762l-7 5M1129 766l0 -1M1141 769l-2 -5M1139 764l-10 1M1121 759l8 5M1130 710l3 6M1127 722l5 -1M1132 721l1 -5M1143 711l-2 3M1133 716l8 -2M1146 722l-5 -1M1141 714l0 7M1118 737l6 -2M1122 726l3 5M1124 735l1 -4M1164 614l-3 -4M1164 614l5 -1M1161 610l4 -5M1169 613l1 -7M1170 606l-5 -1M1164 622l-2 -1M1174 617l-5 -4M1162 621l2 -7M1172 605l-2 1M1163 601l2 4M1155 614l5 -4M1155 614l-6 -4M1150 607l-1 3M1150 607l7 -1M1157 606l3 4M1155 616l0 -2M1155 616l6 5M1162 621l-1 0M1146 611l3 -1M1155 616l-6 5M1148 621l1 0M1149 600l1 7M1158 602l-1 4M1303 648l-1 -2M1303 648l0 2M1303 650l-7 7M1302 646l-6 -2M1296 644l-5 4M1291 648l0 6M1291 654l5 3M1311 647l-8 1M1306 640l-4 6M1308 656l-5 -6M1297 659l-1 -2M1295 637l1 7M1283 643l8 5M1288 656l3 -2M1266 598l0 5M1266 598l-6 0M1266 603l-6 3M1260 598l-2 4M1258 602l1 4M1259 606l1 0M1267 596l-1 2M1269 605l-3 -2M1257 593l3 5M1262 612l-2 -6M1254 601l4 1M819 870l-3 11M819 870l10 7M829 877l-1 4M828 881l-7 3M821 884l-5 -3M831 890l-3 -9M831 890l3 0M835 874l-6 3M834 890l7 -5M831 863l-11 3M819 870l-1 -1M820 866l-2 3M806 877l3 -8M809 883l7 -2M818 869l-9 0M797 865l7 -2M809 869l-5 -6M797 849l8 10M797 849l-3 2M790 859l4 -8M804 863l1 -4M814 894l2 0M821 884l-1 7M820 891l-4 3M831 890l-3 3M820 891l8 2M808 936l10 -10M822 938l2 -6M818 926l6 6M826 931l-2 1M824 797l11 6M833 810l1 -1M835 803l-1 6M832 788l7 10M835 803l4 -5M847 794l-2 3M842 784l-2 -1M839 798l6 -1M890 870l-2 -3M888 867l1 -8M903 861l-8 -6M895 855l-6 4M878 868l10 -1M880 855l9 4M912 855l-9 6M895 849l0 6M835 832l5 0M835 832l-4 4M840 832l5 9M833 847l-1 -1M831 836l1 10M834 890l5 7M850 892l-4 4M839 897l7 -1M846 896l1 9M785 905l5 -8M785 905l1 3M786 908l11 0M790 897l9 2M799 899l-2 9M801 897l-2 2M795 885l-8 6M787 891l3 6M807 899l3 7M810 906l-7 6M797 908l3 4M803 912l-3 0M777 948l2 7M777 948l6 -6M790 951l-5 -9M785 942l-2 0M798 944l-7 -7M785 942l6 -5M723 853l9 6M732 867l0 -8M737 847l-9 -4M737 847l3 9M732 859l8 -3M752 869l-2 -6M752 869l-5 6M750 863l-6 -1M744 862l-4 9M747 875l-7 -4M733 868l5 3M744 862l-3 -5M741 857l-1 -1M740 871l-2 0M738 871l-2 4M765 891l-1 1M765 891l10 -6M764 892l7 9M780 890l-3 8M780 890l-2 -3M777 898l-6 3M775 885l3 2M770 905l-9 1M770 905l1 -4M758 895l6 -3M758 895l-1 8M757 903l4 3M787 891l-7 -1M785 905l-8 -7M787 877l-9 10M772 910l-2 -5M785 910l1 -2M1012 776l-2 1M1015 789l-8 -2M1007 787l3 -10M995 793l10 -5M995 793l5 9M1005 788l2 10M1007 798l-3 5M1004 803l-4 -1M991 807l9 -5M991 807l-6 -9M993 792l2 1M1016 799l-9 -1M1007 787l-1 1M1017 809l-5 1M1012 810l-7 -4M1005 806l-1 -3M991 807l0 5M991 812l9 2M1000 814l5 -8M975 777l-4 5M975 777l-4 -6M971 771l-6 -2M970 782l1 0M970 782l-10 -3M965 769l-7 6M958 775l2 4M985 784l-3 -7M977 791l3 1M977 791l-6 -9M982 777l-1 0M981 777l-6 0M976 762l-5 9M981 777l2 -11M967 758l9 4M967 758l-4 5M963 763l2 6M965 791l5 7M965 791l5 -9M970 798l7 -7M957 786l3 -7M965 791l-5 0M963 763l-8 -1M956 775l2 0M990 813l1 -1M990 813l-9 0M985 798l-7 7M978 805l3 8M980 825l-1 -10M990 813l1 8M991 821l-4 5M981 813l-2 2M1135 826l-6 -6M1137 815l-3 -1M1134 814l-5 6M1122 824l5 -4M1122 812l1 1M1123 813l4 7M1127 820l2 0M1138 803l0 1M1138 803l-8 -4M1138 804l-7 5M1128 803l2 -4M1128 803l2 6M1130 809l1 0M1130 799l0 0M1142 799l-4 4M1141 809l-3 -5M1132 795l-2 4M1134 814l-3 -5M1120 795l10 4M1122 804l6 -1M1123 813l7 -4M986 753l0 -7M986 753l10 1M986 746l7 -2M993 744l4 5M997 749l1 2M996 754l2 -3M985 754l1 -1M996 760l-6 4M996 760l0 -6M988 764l2 0M1003 743l6 4M1003 743l-6 6M1006 754l-8 -3M1006 754l3 -7M1007 756l-1 -2M996 760l7 4M1022 718l-6 10M1022 718l-4 -3M1018 715l-8 3M1010 718l1 10M1011 728l5 0M1023 718l-1 0M1026 730l-4 4M1022 734l-6 -6M1022 705l-4 -4M1022 705l-5 7M1018 701l-8 2M1017 712l-8 -7M1010 703l-1 2M1020 694l-2 7M1030 705l-8 0M1018 715l-1 -3M1010 692l0 11M1008 717l-2 -9M1008 717l2 1M1007 705l2 0M1030 742l-5 -2M1030 742l0 9M1025 740l-6 9M1030 751l-9 0M1019 749l1 2M1020 751l1 0M1034 740l-4 2M1022 734l3 6M1032 752l-2 -1M1013 745l1 -5M1013 745l6 4M1014 740l8 -6M1023 761l-2 -10M1012 757l8 -6M1013 745l-4 2M978 710l0 10M966 717l9 5M978 720l-3 2M987 711l2 10M978 720l11 1M963 718l0 10M954 731l3 1M963 728l-6 4M954 756l5 -4M951 743l9 3M960 746l-1 6M967 758l0 -2M967 756l-8 -4M1010 856l-2 11M1010 856l8 1M1020 860l-2 -3M1020 860l0 6M1020 866l-6 4M1014 870l-6 -3M1006 868l2 -1M1021 850l-4 -5M1021 850l-3 7M1029 859l-9 1M1021 850l6 -1M1028 872l-8 -6M1025 836l1 3M1025 836l8 -7M1032 841l-4 1M1038 839l0 -8M1028 842l-2 -3M1038 831l-5 -2M1027 849l1 -7M1041 830l-3 1M1017 843l9 -4M1033 828l0 -9M1033 828l0 1M1022 817l-1 3M1033 828l-10 -3M1023 825l-2 -5M1025 836l-6 -5M1023 825l-4 6M1014 837l2 -5M1019 831l-3 1M1003 819l6 0M1003 819l-3 5M1000 827l0 -3M1000 827l6 3M1006 830l5 -2M1011 828l1 -6M1009 819l3 3M1000 814l3 5M1012 810l-3 9M991 821l9 3M997 831l3 -4M1005 839l1 -9M1016 832l-5 -4M1021 820l-9 2M702 744l17 -12M707 714l11 11M718 725l1 7M725 740l-2 -5M723 735l-4 -3M747 681l-4 7M756 690l-7 6M743 688l6 8M731 685l6 4M743 688l-6 1M754 706l-6 -6M749 696l-1 4M723 694l4 5M737 689l-1 9M727 699l9 -1M707 710l18 -4M727 699l-2 7M748 700l-8 1M736 698l4 3M583 568l-13 12M583 568l7 3M590 571l3 11M570 580l12 10M593 582l-7 8M582 590l4 0M582 562l1 6M565 580l5 0M602 566l-12 5M602 583l-9 -1M577 606l5 -16M596 598l-10 -8M872 450l8 3M881 442l5 5M880 453l6 -6M877 464l4 -6M880 453l1 5M891 462l-5 6M891 462l7 7M895 474l3 -5M895 474l-8 1M887 475l-1 -7M878 465l8 3M881 458l10 2M891 460l0 2M905 478l1 -5M899 481l-4 -7M899 469l-1 0M885 477l2 -2M1213 531l-4 2M1208 524l-2 4M1209 533l-3 -5M1195 536l5 -2M1197 526l3 3M1200 534l0 -5M1206 528l-6 1M920 465l1 3M934 461l0 2M934 463l-9 6M921 468l4 1M910 471l6 4M921 468l-5 7M911 483l5 -7M916 475l0 1M945 480l-7 3M945 480l-1 -9M938 483l-4 -8M934 475l4 -6M944 471l-6 -2M954 480l-6 1M946 470l-2 1M948 481l-3 -1M934 463l4 6M925 469l3 6M928 475l6 0M958 488l-6 6M948 481l0 10M948 491l4 3M955 499l-2 -1M953 498l-1 -4M946 506l1 -3M953 498l-6 5M912 487l8 0M916 476l6 5M920 487l2 -6M928 475l-2 5M922 481l4 -1M950 599l8 0M950 599l2 11M958 599l4 9M962 608l-6 4M956 612l-4 -2M946 611l6 -1M949 598l1 1M956 620l0 -8M968 611l-3 -2M965 609l-3 -1M970 564l-1 -10M970 564l9 1M980 559l-10 -5M980 559l-1 6M970 554l-1 0M961 565l7 1M968 566l2 -2M965 553l4 1M983 557l-3 2M975 547l-5 7M950 576l6 6M948 590l7 -3M956 582l-1 5M979 609l-2 -10M977 599l9 -4M1091 470l-1 1M1090 471l3 9M1095 481l-2 -1M1095 491l-2 -2M1095 481l-2 8M1087 494l3 -5M1093 489l-3 0M1078 492l5 -8M1090 489l-7 -5M1085 472l-4 -1M1085 472l0 8M1076 475l1 6M1076 475l4 -4M1080 471l1 0M1077 481l5 2M1085 480l-3 3M1090 471l-5 1M1084 463l-3 8M1093 480l-8 0M1070 474l6 1M1072 484l5 -3M1073 464l7 7M1083 484l-1 -1M1063 610l-2 4M1063 610l-4 -5M1059 615l2 -1M1059 615l-7 -5M1054 607l-2 2M1054 607l4 -2M1058 605l1 0M1052 610l0 -1M1068 609l-5 1M1068 609l4 6M1066 618l-5 -4M1072 615l-1 1M1070 605l-4 -4M1070 605l-2 4M1066 601l-7 4M1057 619l2 -4M1049 616l3 -6M1044 607l8 2M1049 600l5 7M1057 597l-6 -1M1057 597l1 8M1072 615l6 -4M1078 611l5 3M1074 604l-4 1M1074 604l3 1M1078 611l-1 -6M1057 597l3 -3M1050 589l8 0M1060 594l-2 -5M1054 580l6 5M1058 589l2 -4M1129 560l2 -6M1129 560l9 5M1138 565l4 -8M1132 553l-1 1M1132 553l8 1M1140 554l2 3M1124 550l7 4M1128 560l1 0M1138 567l0 -2M1151 562l-9 -5M1133 543l-1 10M1143 550l-3 4M1086 544l2 -5M1086 544l7 3M1088 539l6 0M1094 539l4 4M1093 547l4 -3M1097 544l1 -1M1084 544l2 0M1078 538l0 2M1087 536l1 3M1079 543l-1 -3M1093 553l0 -6M1096 534l-2 5M1104 538l-6 5M1103 549l-6 -5M1074 522l-5 5M1074 531l-3 -1M1071 530l-2 -3M1064 520l5 7M1055 537l5 -3M1055 537l-4 -2M1051 535l0 -1M1051 534l3 -7M1056 526l-2 1M1056 526l5 5M1061 531l-1 3M1051 547l5 -4M1047 539l4 -4M1056 543l-1 -6M1043 530l8 4M1045 525l9 2M1057 521l-1 5M1069 527l-8 4M785 547l7 -7M785 547l-6 -8M782 534l5 -1M782 534l-3 5M792 540l-1 -5M791 535l-4 -2M785 550l0 -3M798 544l-6 -4M770 541l9 -2M788 521l-1 12M777 529l5 5M798 532l-7 3M763 792l-5 3M763 792l8 8M758 795l-1 5M757 800l7 9M771 800l-5 9M764 809l2 0M766 787l-3 5M752 791l6 4M778 798l-7 2M747 807l10 -7M749 812l8 4M757 816l7 -7M770 811l-4 -2M757 816l1 6M771 821l-10 2M758 822l3 1M775 866l0 6M775 866l-7 -5M772 876l3 -4M772 876l-9 -1M763 875l-2 -5M761 870l2 -6M768 861l-5 3M786 873l-11 -1M784 860l-2 0M782 860l-7 6M775 885l-3 -9M760 880l3 -5M760 880l5 11M752 869l9 1M750 863l5 -6M755 857l8 7M755 825l0 12M755 825l-11 1M755 837l-10 0M744 826l-3 6M741 832l4 5M741 819l3 7M758 822l-3 3M729 835l12 -3M744 843l1 -6M744 843l-7 4M797 849l3 -5M795 837l5 7M791 837l-6 5M794 851l-8 -4M785 842l1 5M782 860l-3 -7M786 847l-7 6M769 857l8 -5M769 857l-1 4M779 853l-2 -1M755 857l0 -1M769 857l-6 -6M763 851l-8 5M741 857l9 -7M755 856l-5 -6M744 843l6 6M897 750l-5 -1M897 750l6 -8M892 749l-4 -6M903 742l-5 -4M898 738l-10 1M888 739l0 4M899 752l-2 -2M886 758l6 -9M909 742l-6 0M879 749l9 -6M901 730l-3 8M886 736l2 3M854 776l0 -12M854 776l-1 1M853 777l-12 -8M854 764l-4 -2M850 762l-8 4M841 769l1 -3M867 773l-13 3M860 762l-6 2M838 771l3 -2M849 754l1 8M838 758l4 8M824 724l10 -2M824 724l-4 -6M820 718l1 -3M821 715l9 -1M834 722l-4 -8M822 731l2 -7M814 721l6 -3M832 709l-2 5M821 703l-2 7M821 703l-10 -5M819 710l-9 1M810 711l-5 -10M811 698l-6 3M822 702l-1 1M821 715l-2 -5M814 689l-3 9M807 717l3 -6M798 712l7 -11M804 700l1 1M1234 612l7 -5M1248 620l5 -6M1248 620l-4 -7M1244 611l0 2M1244 611l7 -2M1253 614l-2 -5M1251 609l0 0M1234 612l5 4M1239 616l5 -3M1241 607l3 4M1250 605l1 4M1259 616l-6 -2M1259 606l-8 3M1221 620l-3 5M1208 620l5 7M1218 625l-5 2M1205 631l7 -2M1212 629l1 -2M1236 646l8 0M1236 646l-4 4M1232 650l4 8M1245 652l-1 -6M1245 652l-7 6M1238 658l-2 0M1233 639l3 -4M1233 639l3 7M1236 635l9 4M1246 643l-2 3M1245 639l1 1M1226 647l1 -8M1228 650l4 0M1233 639l-6 0M1230 661l6 -3M1247 654l-2 -2M1241 664l-3 -6M1227 639l-4 -3M1236 635l0 -3M1224 632l-1 4M1224 632l7 -4M1236 632l-5 -4M1231 615l2 7M1239 616l0 5M1239 621l-6 1M1221 620l10 5M1233 622l-2 3M1218 625l6 7M1231 625l0 3M1254 624l-6 -4M1254 624l0 6M1254 630l-8 0M1248 620l-5 4M1246 630l-3 -3M1243 627l0 -3M1260 619l-6 5M1245 639l1 -9M1239 621l4 3M1236 632l7 -5M1150 631l2 -6M1150 631l3 5M1159 631l-3 -6M1159 631l-4 4M1156 625l-4 0M1155 635l-2 1M1145 630l5 1M1149 621l3 4M1151 640l2 -4M1164 630l-5 1M1161 621l-5 4M1163 640l-8 -5M1086 822l-9 -2M1086 822l1 4M1077 820l0 8M1089 819l-3 3M1076 818l1 2M1140 761l-7 -6M1140 761l6 -3M1146 755l-7 -4M1146 755l0 3M1139 751l-6 3M1139 764l1 -3M1129 764l4 -9M1147 759l-1 -1M1147 754l-1 1M1140 744l8 1M1140 744l-1 7M1124 755l9 -1M1132 721l1 2M1141 721l-3 2M1138 723l-5 0M1125 731l7 0M1133 723l-1 8M1147 737l-3 -1M1147 728l-4 2M1144 736l-1 -6M1138 723l3 6M1143 730l-2 -1M839 897l-3 5M844 907l-3 1M836 902l5 6M841 908l-1 3M845 812l4 -4M845 812l0 9M860 814l-3 10M860 814l-7 -6M853 808l-4 0M857 824l-4 1M853 825l-6 -2M845 821l2 2M834 809l11 3M845 797l4 11M831 821l14 0M864 828l-7 -4M867 811l-7 3M860 797l-7 11M851 840l2 -15M840 832l7 -9M830 822l5 10M831 836l-11 -2M832 846l-10 -2M822 844l-2 -10M800 844l8 -2M807 830l4 4M808 842l3 -8M821 824l-3 8M811 834l7 -2M818 832l2 2M802 930l-10 4M802 930l0 -4M802 926l-7 -6M792 934l-5 -6M787 928l4 -8M791 920l4 0M808 936l-6 -6M791 937l1 -3M803 912l6 8M800 912l-5 8M809 920l-7 6M777 934l1 -5M777 934l6 8M778 929l9 -1M776 923l0 2M786 915l5 5M776 925l2 4M742 885l5 -8M742 885l8 6M751 891l4 -10M755 881l-8 -4M747 875l0 2M741 885l1 0M746 896l4 -5M760 880l-5 1M758 895l-7 -4M751 905l6 -2M1002 771l-8 1M1002 771l1 2M1003 773l-4 8M991 776l3 -4M991 776l4 6M995 782l4 -1M1003 766l-1 5M990 764l4 8M1010 777l-7 -4M1006 788l-7 -7M982 777l9 -1M992 787l3 -5M970 798l-1 4M978 805l-9 -3M956 797l2 4M969 802l-11 -1M947 806l8 1M955 807l3 -6M984 744l2 2M984 744l0 -6M984 738l7 -2M993 744l1 -5M994 739l-3 -3M975 722l0 1M963 728l5 1M975 723l-7 6M974 737l-3 -1M974 737l1 9M971 736l-8 5M975 746l-1 2M963 741l0 2M963 743l9 6M974 748l-2 1M975 723l6 8M968 729l3 7M980 734l1 -3M980 734l-6 3M984 744l-9 2M984 738l-4 -4M957 732l6 9M979 755l-5 -7M960 746l3 -3M967 756l5 -7M758 722l-11 0M753 709l-9 6M747 722l-3 -7M898 456l-6 3M898 456l-1 -8M892 459l-5 -12M897 448l-7 -2M890 446l-3 1M903 457l-5 -1M891 460l1 -1M900 445l-3 3M892 437l-2 9M1209 533l-1 2M1200 534l3 3M1208 535l-5 2M1219 537l-7 4M1208 535l4 6M1196 544l3 1M1199 545l3 -3M1203 537l-1 5M1223 545l-6 3M1223 556l-7 -3M1216 553l1 -5M1212 541l-1 2M1217 548l-6 -5M1202 542l7 3M1211 543l-2 2M1201 556l4 3M1201 556l2 -4M1203 552l4 -2M1205 559l7 -2M1207 550l6 5M1212 557l1 -2M1198 557l3 -1M1206 564l-1 -5M1199 545l4 7M1209 545l-2 5M1215 561l-3 -4M1216 553l-3 2M915 497l8 -3M917 506l9 -5M926 501l-3 -7M929 510l2 -7M926 501l5 2M920 487l4 5M923 494l1 -2M939 509l-6 -6M931 503l2 0M926 480l5 4M938 483l-7 1M924 492l4 -1M931 484l-3 7M957 569l6 6M968 566l0 7M963 575l5 -2M956 582l7 -3M963 575l0 4M979 565l1 3M980 568l-7 6M968 573l5 1M974 589l0 9M974 589l-4 -4M970 585l-3 0M967 585l-5 7M962 593l0 -1M962 593l9 5M971 598l3 0M977 599l-3 -1M986 595l-4 -9M982 586l-8 3M963 579l4 6M973 574l1 5M974 579l-4 6M955 587l7 5M958 599l4 -6M965 609l6 -11M983 582l9 1M983 581l2 -10M994 580l-2 -10M994 580l-2 3M985 571l5 -1M990 570l2 0M982 586l1 -4M974 579l9 2M994 588l-2 -5M980 568l5 3M1002 579l-8 1M994 570l-2 0M989 558l1 12M1088 605l-2 0M1088 605l3 -4M1086 605l-5 -2M1091 601l0 -2M1081 603l0 -6M1091 599l-2 -2M1089 597l-7 -1M1081 597l1 -1M1092 611l-4 -6M1083 614l3 -9M1097 605l-6 -4M1077 605l4 -2M1097 595l-6 4M1074 604l0 -9M1074 595l7 2M1090 591l-1 6M1083 587l-1 1M1082 588l0 8M1066 601l0 -2M1060 594l1 0M1066 599l-5 -5M1074 572l-5 6M1078 581l-4 1M1074 582l-5 -4M1064 577l1 0M1060 585l4 -1M1064 584l1 -7M1069 578l-4 -1M1068 536l-5 1M1068 536l3 4M1063 537l-1 7M1071 540l-4 6M1067 546l-3 0M1064 546l-2 -2M1071 530l-3 6M1060 534l3 3M1078 540l-7 0M1056 543l6 1M1069 548l-2 -2M1059 552l5 -6M764 847l-6 -6M764 847l9 -4M766 833l-9 6M766 833l6 1M757 839l1 2M773 843l2 -5M772 834l3 3M763 851l1 -4M750 849l8 -8M777 852l-4 -9M761 823l5 10M755 837l2 2M774 823l-2 11M785 842l-10 -4M786 830l-11 7M1214 634l6 3M1214 634l-5 6M1220 637l-4 10M1216 647l-7 -4M1209 640l0 3M1223 636l-3 1M1212 629l2 5M1203 637l6 3M1203 649l6 -6M1119 743l6 1M1124 735l3 4M1127 739l-2 5M1123 751l3 -5M1133 754l-3 -7M1130 747l-4 -1M1126 746l-1 -2M1133 733l2 0M1133 733l-3 6M1135 733l4 6M1130 739l4 4M1134 743l4 0M1138 743l1 -4M1132 731l1 2M1141 729l-6 4M1127 739l3 0M1144 736l-5 3M1130 747l4 -4M1140 744l-2 -1M809 920l1 0M810 920l8 6M820 902l8 -1M820 902l-3 6M828 901l2 2M830 903l-1 12M817 908l0 2M817 910l9 6M826 916l2 0M828 916l1 -1M816 894l4 8M828 893l0 8M810 906l7 2M836 902l-6 1M839 912l-10 3M810 920l7 -10M818 926l8 -10M831 921l-3 -5M812 847l6 1M812 847l-3 10M818 848l3 6M809 857l9 1M821 854l-3 4M822 844l-4 4M808 842l4 5M805 859l4 -2M829 854l-8 0M820 866l-2 -8M776 925l-9 1M777 934l-8 4M757 913l2 0M759 913l3 4M762 917l0 3M761 906l-2 7M767 926l-2 -2M771 914l-9 3M970 816l-3 -5M970 816l-4 9M967 811l-10 2M962 825l3 1M962 825l-5 -10M957 815l0 -2M965 826l1 -1M979 815l-9 1M969 802l-2 9M975 830l-9 -5M955 807l2 6M953 828l9 -3M961 839l4 -13M947 820l10 -5M981 731l9 -5M990 726l0 -5M991 736l1 -7M990 726l2 3M997 710l0 8M990 721l7 -3M1008 717l-8 3M1000 720l-3 -2M1010 729l-2 6M1010 729l-8 -3M1002 726l-4 4M998 730l3 7M1008 735l-5 3M1003 738l-2 -1M1014 740l-6 -5M1011 728l-1 1M1000 720l2 6M992 729l6 1M994 739l7 -2M1003 743l0 -5M745 726l-8 1M745 726l5 11M741 739l8 -1M741 739l-7 -7M734 732l3 -5M750 737l-1 1M759 732l-9 5M747 722l-2 4M736 746l5 -7M751 743l-2 -5M723 735l11 -3M738 708l-9 2M738 708l4 6M742 714l-7 6M729 710l0 8M729 718l6 2M725 706l4 4M740 701l-2 7M744 715l-2 -1M737 727l-2 -7M718 725l11 -7M943 493l-1 6M943 493l-4 -3M939 490l-6 4M942 499l-8 3M934 502l-1 -8M948 491l-5 2M947 503l-5 -4M938 483l1 7M928 491l5 3M933 503l1 -1M1067 590l4 5M1067 590l0 -3M1067 587l5 -1M1072 586l3 5M1075 591l-2 4M1073 595l-2 0M1066 599l5 -4M1061 594l6 -4M1064 584l3 3M1074 582l-2 4M1082 588l-7 3M777 948l-4 -1" fill="none" stroke="#5c5f5f" stroke-width="1.42"/>
<path d="M462.8 193.0L451.3 244.7L443.3 286.2M480.8 179.4L475.5 224.0L476.6 244.7L482.3 253.8M443.3 286.2L449.0 297.7L442.1 311.5L429.5 334.5L430.6 343.7L412.8 421.4M262.7 374.7L350.1 398.9L440.3 419.6M350.1 398.9L344.9 421.4M610.9 106.5L595.3 214.8M760.1 106.5L758.7 232.1M877.2 106.5L878.0 251.1M489.3 106.7L497.1 127.4L504.0 138.9L510.9 150.4L513.2 166.5L509.8 182.6L515.5 196.4L519.0 202.2M479.8 250.6L487.9 265.5L497.1 278.1L491.4 288.5L492.5 300.0L487.9 311.5L492.5 313.8L500.6 309.2L504.0 327.6L510.9 339.1L513.2 352.9L527.0 351.7L545.4 350.6L550.0 357.5M554.6 341.8L695.0 358.6M554.6 341.8L542.3 421.5M707.6 229.8L698.4 328.7L696.1 358.6L691.3 421.5M698.4 328.7L773.2 333.3L849.1 335.6M837.6 236.7L839.9 258.5L844.5 288.5L848.0 316.1L850.3 335.6L844.5 343.7L851.4 355.2L851.9 421.5M849.1 415.0L890.5 415.0M1007.6 252.8L1079.0 290.8L1085.9 302.3M1108.9 323.0L1134.2 335.6L1150.3 394.3L1147.7 421.5M1164.1 148.1L1167.5 178.0L1182.5 256.2M1265.3 352.9L1256.1 369.0L1214.7 382.8L1219.3 401.2M962.8 310.3L980.0 316.1L998.4 325.3L1016.8 329.9L1023.7 327.6M935.2 309.2L935.2 323.0L928.3 350.6L927.1 369.0L934.0 380.5L943.2 387.4L954.7 398.9L962.5 421.4M885.5 415.1L960.9 413.2M1396.2 189.5L1390.5 194.1L1391.6 207.9L1387.0 217.1L1380.1 212.5M1380.1 212.5L1374.4 237.8L1370.9 256.2L1372.1 270.1L1368.6 283.9L1364.0 290.8L1375.5 329.9L1387.0 358.6M1380.1 212.5L1387.0 217.1L1396.2 210.2L1410.0 214.8L1423.8 256.2L1433.0 267.8L1442.2 274.7L1446.8 270.1L1456.1 265.5L1460.7 256.2M1292.6 314.3L1354.8 301.1M1321.5 311.5L1323.8 339.1L1329.5 355.2L1337.6 378.2L1343.7 421.5M1356.0 293.1L1357.1 316.1L1352.5 327.6L1354.8 352.9L1352.5 377.0M1339.9 381.6L1387.0 371.3M1341.0 403.5L1384.7 394.3M1376.7 396.6L1381.3 421.5M1341.0 403.5L1342.4 421.5M346.1 416.6L325.9 492.6L424.9 672.1M477.2 416.5L439.8 616.9M430.5 418.5L483.5 428.7M439.8 616.9L432.9 618.0L428.3 612.3L421.4 614.6L420.3 637.6L423.7 660.6L424.9 672.1L414.5 683.6L405.3 702.0L407.6 718.1L403.0 718.1M344.3 712.3L423.5 719.5M403.0 718.1L398.4 725.0L407.6 730.2M444.4 587.0L483.5 591.9M478.5 427.8L533.9 436.3L535.1 469.6L576.5 477.7L728.3 492.2M576.5 477.7L559.2 605.4L541.6 731.5M691.7 416.5L685.8 488.0M675.5 422.8L803.1 429.4L821.5 436.3L839.9 435.1L849.1 444.3M849.1 416.5L849.1 444.3L858.3 465.0L862.9 485.7L867.5 508.7L876.7 527.1L885.9 536.3L881.3 543.2L889.3 556.9M728.3 492.2L727.2 525.3L876.7 529.0M727.2 525.3L720.3 621.5M478.5 591.1L559.2 605.4L720.3 621.5L890.5 626.1M697.3 621.5L696.1 636.4L767.4 640.3L765.1 702.0M696.1 636.4L690.2 731.5M765.1 702.0L777.8 711.2L789.3 715.8L803.1 720.4L821.5 727.3L839.9 726.2L861.4 729.4M867.5 509.9L890.5 509.9M885.5 510.0L960.9 505.5M963.2 416.6L967.4 430.5L975.4 442.0L984.6 453.5L984.6 467.3L968.5 478.8L968.5 494.9L961.6 508.7L961.6 522.5L966.2 534.0L977.7 547.8L982.3 557.0L991.5 563.9L989.2 575.5L996.1 587.0L1007.6 598.5L1012.2 612.3L1019.1 619.2L1016.8 628.4L1012.2 635.3L1007.6 653.7L1000.7 672.1L998.4 685.9L991.5 704.3L984.6 715.8L979.2 731.4M976.6 442.0L1035.2 439.7M1044.5 465.0L1049.1 545.5L1051.4 559.3L1044.5 580.1L1044.5 593.9M1053.7 460.4L1103.1 458.1M1103.1 458.1L1112.3 543.2M1103.1 458.1L1141.1 455.8M1044.5 593.9L1053.7 589.3L1065.2 589.3L1079.0 580.1L1090.5 575.5L1095.1 561.6L1104.3 554.7L1112.3 543.2L1120.4 547.8L1131.9 554.7L1141.1 557.0L1154.9 550.1L1164.1 559.3L1173.3 547.8L1173.3 538.6L1184.8 527.1L1196.3 520.2L1200.9 508.7L1198.6 483.4L1194.0 439.7M1044.5 593.9L1035.2 607.7L1026.0 616.9L1019.1 619.2M1194.0 439.7L1204.4 508.7M1204.4 508.7L1297.5 492.2M1207.8 432.8L1297.5 418.6M1228.5 506.4L1229.7 520.2L1246.9 506.4L1265.3 503.0L1267.6 515.6L1251.5 520.2L1240.0 538.6L1230.8 543.2L1235.4 557.0L1226.2 566.2L1219.3 580.1L1207.8 589.3L1194.0 593.9L1182.5 589.3L1164.1 561.6M1182.5 589.3L1164.1 603.1L1148.0 619.2M1046.8 629.5L1148.0 619.2L1297.5 596.9M885.5 642.5L998.4 638.7L1000.7 645.6L995.0 653.7L1007.6 653.7M1012.2 635.3L1046.8 634.1L1046.8 629.5M1194.0 614.6L1191.7 626.1L1175.6 637.6L1164.1 649.1L1145.7 662.9L1138.8 672.1M998.4 687.0L1108.9 679.0L1138.8 672.1M1138.8 672.1L1164.1 668.6L1219.3 658.3L1223.9 667.5L1251.5 664.0L1279.1 687.0L1297.4 683.1M1164.1 676.7L1175.6 688.2L1198.6 706.6L1214.7 718.1L1223.0 731.1M1049.1 683.6L1050.3 731.5M1108.9 679.0L1121.0 731.4M892.6 554.7L892.6 626.1L897.3 731.5M1301.1 419.3L1341.0 437.4M1314.4 416.5L1318.0 442.0L1313.4 453.5L1324.9 467.3L1315.7 478.8L1308.8 488.0M1292.6 493.4L1308.8 488.0M1308.8 488.0L1313.4 511.0L1324.9 511.0M1292.6 596.8L1327.2 588.1M400.9 727.7L483.1 778.6M542.3 726.5L535.1 785.4M478.5 776.9L535.1 785.4L555.8 789.3L556.9 775.0L596.0 777.3M596.0 772.7L685.8 780.8M689.4 726.5L685.8 780.8M909.9 752.0L977.7 752.0M909.9 752.0L909.9 786.5L917.9 804.9L922.5 821.0L917.9 844.0L915.6 857.8M978.5 726.5L982.3 752.0L986.9 775.0L980.0 788.8L973.1 804.9L970.8 816.4M970.8 816.4L1016.8 815.3L1019.1 827.9L1023.7 837.1L1030.6 839.4M1048.9 726.5L1053.7 830.2M1073.2 809.5L1137.6 803.8M1073.2 809.5L1079.0 825.6M1121.8 726.7L1134.2 758.9L1131.9 777.3L1137.6 803.8L1141.1 810.7M1141.1 810.7L1210.1 808.4L1212.4 800.3L1219.3 799.2M1213.3 726.9L1223.9 742.8L1233.1 752.0" fill="none" stroke="#000" stroke-width="1.55" stroke-linejoin="round"/>
<path d="M284.9 106.6L290.3 122.8L304.1 143.5L311.0 150.4L321.3 147.0L315.6 157.3L314.4 170.0L324.8 175.7L343.2 182.6L340.9 155.0L334.0 138.9L324.8 122.8L320.7 106.6M332.2 107.2L345.5 120.5L350.1 132.0L357.0 150.4L353.5 163.1M314.4 172.3L312.1 201.0L314.4 224.0L308.7 242.4L304.1 265.5L290.3 306.9L281.1 323.0L274.2 329.9L265.0 346.0L262.7 373.6L258.1 405.8L244.8 420.9M353.5 163.1L483.4 195.9M345.5 171.1L357.0 175.7L354.7 189.5L350.1 205.6L336.3 221.7L343.2 207.9L347.8 187.2M308.7 242.4L322.5 247.0L327.1 258.5L327.1 270.1L336.3 273.5L357.0 279.3L391.5 278.1L442.1 286.2M478.5 194.9L596.0 214.8L707.6 229.8L759.4 232.1L890.5 235.4M877.9 224.0L883.6 226.3L885.9 242.4L889.7 246.6M885.6 242.8L901.8 248.2L915.6 247.0L929.4 253.9L945.5 262.0L957.0 258.5L970.8 262.0L984.6 263.2L991.5 249.3L1007.6 233.2L1012.2 228.6L1026.0 234.4L1044.5 233.2L1053.7 251.6L1062.9 259.7L1076.7 257.4L1079.0 270.1L1084.7 279.3L1083.6 293.1L1090.5 290.8L1089.3 300.0L1097.4 302.3M937.5 309.2L947.8 293.1L959.3 279.3L975.4 267.8L986.9 262.0M937.5 309.2L952.4 304.6L963.9 297.7L966.2 304.6L962.8 310.3L975.4 309.2L986.9 300.0L1000.7 293.1L1009.9 283.9L1016.8 279.3L1026.0 279.3L1016.8 288.5L1012.2 300.0L1021.4 295.4L1035.2 306.9L1046.8 309.2L1058.3 300.0L1072.1 296.5L1081.3 297.7L1088.2 302.3L1097.4 304.6M1097.4 302.3L1102.0 316.1L1111.2 317.2L1108.9 313.8M1099.7 306.9L1127.3 308.0L1148.0 309.2L1164.1 311.5L1175.6 323.0L1184.8 336.8L1194.0 344.8L1187.1 348.3L1189.4 355.2L1175.6 352.9L1164.1 343.7L1157.2 336.8L1152.6 336.8L1161.8 350.6L1162.9 359.8L1157.2 369.0L1159.5 394.3L1139.0 421.0M1118.1 318.4L1131.9 314.9L1143.4 312.6L1148.0 320.7L1143.4 326.4L1131.9 320.7L1120.4 319.5M1147.5 421.4L1143.4 405.8L1137.6 385.1L1131.9 379.3L1125.0 382.8L1120.4 394.3L1114.6 389.7L1113.5 380.5L1120.4 375.9L1121.5 352.9L1115.8 339.1L1102.0 329.9L1090.5 325.3L1083.6 339.1L1079.0 346.0L1076.7 362.1L1065.2 366.7L1059.4 380.5L1059.4 394.3L1068.3 421.4M1088.2 325.3L1083.6 321.8L1072.1 318.4L1062.9 323.0L1058.3 332.2L1046.8 343.7L1037.5 357.5L1032.9 366.7L1026.0 373.6L1030.6 359.8L1037.5 352.9M1039.8 352.9L1035.2 369.0L1032.9 385.1L1035.2 403.5L1037.9 421.5M1101.8 108.5L1125.0 113.6L1136.5 122.8L1143.4 136.6L1136.5 147.0M1143.4 136.6L1154.9 138.9L1164.1 148.1L1167.5 151.6M1160.6 129.7L1164.1 125.1L1173.3 127.4L1171.0 113.6L1169.2 106.6M1182.5 256.2L1187.1 267.8L1198.6 283.9L1207.8 290.8L1228.5 291.9L1242.3 300.0L1251.5 306.9L1265.3 309.2L1274.5 302.3L1288.3 297.7L1297.5 296.1M1297.1 314.8L1283.7 323.0L1274.5 339.1L1265.3 352.9L1260.7 362.1M1260.7 362.1L1246.9 366.7L1219.3 369.0L1205.5 378.2L1202.1 389.7L1210.1 394.3L1221.6 382.8L1246.9 375.9L1265.3 371.3L1272.2 364.4L1267.6 357.5L1260.7 362.1M1219.3 396.6L1221.6 404.6L1198.6 410.4L1168.3 419.7M1221.6 404.6L1210.1 412.7L1191.4 419.9M1401.4 106.6L1396.2 127.4L1396.2 143.5L1380.1 152.7L1373.2 166.5L1366.3 184.9L1359.4 205.6L1357.1 219.4L1352.5 237.8L1336.4 251.6L1322.6 267.8L1315.7 283.9L1306.5 293.1L1293.4 308.8M1352.5 240.1L1361.7 212.5L1373.2 184.9L1387.0 164.2L1410.0 145.8L1433.0 136.6L1453.8 134.3L1460.7 145.8L1456.1 159.6L1460.7 168.8L1459.5 184.9L1456.1 198.7L1467.6 201.0L1476.8 217.1L1492.9 221.7L1497.5 226.3L1488.3 233.2L1486.0 247.0L1481.4 251.6M1460.7 168.8L1446.8 166.5L1433.0 170.0L1423.8 175.7L1410.0 184.9L1396.2 189.5M1460.7 256.2L1469.9 247.0L1481.4 237.8L1488.3 233.2M1481.4 251.6L1495.2 244.7L1511.3 241.3L1499.8 249.3L1492.9 249.3L1479.1 270.1L1469.9 283.9L1466.4 293.1L1472.2 304.6L1479.1 311.5L1488.3 312.6L1497.5 300.0L1504.4 274.7L1515.9 265.5L1525.1 258.5L1538.9 247.0L1548.1 233.2L1557.3 226.3L1552.7 219.4L1543.5 217.1L1534.3 217.1L1525.1 226.3L1511.3 228.6L1497.5 226.3M1543.5 217.1L1541.2 201.0L1543.5 178.0L1548.1 170.0L1553.8 184.9L1555.0 191.8L1568.8 191.8L1571.1 198.7L1564.2 210.2L1557.3 217.1L1552.7 219.4M1479.1 194.1L1483.7 205.6L1492.9 207.9L1502.1 210.2L1515.9 201.0L1525.1 198.7L1520.5 210.2L1515.9 217.1L1502.1 214.8L1490.6 212.5L1479.1 207.9L1479.1 194.1M1520.5 158.5L1517.0 166.5L1518.2 173.4M1573.3 107.9L1561.9 113.6L1557.3 118.2L1555.0 134.3L1561.9 143.5L1578.0 134.3L1594.1 127.4L1612.5 120.5L1626.3 115.9L1642.3 107.9M1633.2 132.0L1640.1 127.4L1644.7 118.2L1650.4 106.8M1658.6 106.8L1667.7 125.1L1676.9 122.8L1686.1 118.2L1683.2 106.6M1460.7 256.2L1456.1 267.8L1444.5 279.3L1433.0 293.1L1423.8 304.6L1414.6 316.1L1405.4 327.6L1396.2 336.8L1393.9 348.3L1387.0 358.6L1389.3 371.3L1396.2 373.6M1389.3 371.3L1396.2 385.1L1403.1 396.6L1414.6 394.3L1416.9 405.8L1407.7 410.4L1396.2 408.1L1371.5 414.3M1293.0 301.5L1304.2 293.1L1311.1 290.8L1306.5 300.0L1299.6 309.2L1293.2 315.5M1338.7 190.7L1350.2 189.5L1361.7 191.8M243.5 416.6L248.9 432.8L246.6 448.9L244.3 471.9L251.2 494.9L255.8 511.0L258.1 529.4L267.3 547.8L262.7 557.0L262.7 566.2L269.6 584.7L276.5 603.1L275.3 626.1L281.1 633.0L304.1 649.1L317.9 658.3L327.1 667.5L338.6 683.6L343.2 713.5L347.2 731.4M276.5 646.8L294.9 651.4M290.3 674.4L292.6 677.8M315.6 674.4L319.0 681.3M311.0 688.2L314.4 696.2M1032.6 416.5L1035.2 437.4L1037.5 455.8L1046.8 465.0L1058.3 461.6L1072.1 455.8L1079.0 446.6L1071.5 416.6M1143.4 461.6L1159.5 453.5L1184.8 442.0L1210.1 423.6L1221.5 417.9M1148.0 439.7L1164.1 432.8L1182.5 421.3L1189.3 417.9M1138.0 416.6L1143.4 432.8L1145.7 448.9L1143.4 461.6M1297.1 682.3L1283.7 690.5L1274.5 702.0L1267.6 715.8L1254.4 730.9M1344.5 446.6L1341.0 460.4L1344.5 478.8L1342.2 494.9L1334.1 511.0M1344.5 437.4L1364.0 428.2L1382.4 421.3L1389.3 417.9M1347.9 444.3L1370.9 430.5L1396.2 417.9M1620.6 651.4L1622.9 647.9M344.1 726.9L350.1 735.9L346.6 742.8L352.4 758.9L357.0 781.9L359.3 802.6L370.8 818.7L380.0 827.9L386.9 841.7L392.7 853.2L391.5 862.4L384.6 873.9L380.0 872.8L363.9 870.5L373.1 885.5L384.6 899.3L396.1 910.8L405.3 910.8L419.1 926.9L426.0 940.7L428.3 954.5L423.7 966.0L419.1 977.5L428.3 989.0L437.5 993.6L451.3 1007.4L465.1 1023.5L470.5 1041.4M389.2 741.7L393.8 752.0L388.1 765.8L389.2 798.0L396.1 811.8L405.3 827.9L409.9 841.7L419.1 860.1L423.7 871.6L426.0 885.5L432.9 894.7L435.2 908.5L442.1 920.0L449.0 936.1L451.3 954.5L458.2 977.5L460.5 1000.5L467.4 1007.4L483.2 1015.4M389.2 741.7L405.3 754.3L414.5 756.6L421.4 765.8L432.9 772.7L430.6 786.5L435.2 802.6L439.8 821.0L444.4 839.4L446.7 853.2L455.9 867.0L465.1 880.8L474.3 887.8L483.5 887.8M286.8 809.5L289.1 809.5L289.8 818.7L286.8 818.7L286.8 809.5M360.4 853.2L362.7 857.8L359.3 862.4L357.5 859.0L360.4 853.2M411.1 823.3L414.5 825.6L419.1 837.1L416.8 841.7L412.2 832.5L411.1 823.3M435.2 846.3L439.8 839.4L442.1 848.6L438.7 854.4L435.2 846.3M596.0 773.9L600.6 784.2L614.4 798.0L628.2 814.1L637.5 825.6L639.8 841.7L649.0 857.8L662.8 869.3L675.4 876.2L683.5 869.3L688.1 855.5L698.4 850.9L720.3 854.4L734.1 869.3L741.0 885.5L750.2 903.9L761.7 920.0L768.6 929.2L769.7 940.7L777.8 956.8L789.3 966.0L807.7 975.2L821.5 979.8L826.1 978.6M890.0 874.8L872.1 887.8L858.3 897.0L844.5 906.2L833.0 917.7L826.1 931.5L821.5 949.9L826.1 968.3L828.4 978.6M828.4 978.6L826.1 995.9L819.2 1016.6L816.6 1041.5M835.3 913.1L826.1 936.1L823.8 954.5L828.4 972.9M478.8 909.6L490.2 915.4L494.8 929.2L504.0 933.8L509.8 945.3L500.6 949.9L501.7 961.4L513.2 970.6L522.4 982.1L531.6 993.6L538.5 1005.1L545.4 1009.7L556.9 1025.8L570.2 1040.9M480.1 1000.5L485.6 1014.3L490.2 1028.1L487.4 1041.4M886.2 873.4L897.2 862.4L915.6 859.0L934.0 857.8L957.0 862.4L968.5 860.1L980.0 869.3L991.5 873.9L1005.3 872.8L1016.8 869.3L1032.9 876.2L1039.8 871.6L1035.2 862.4L1026.0 853.2L1030.6 841.7L1044.5 836.0L1062.9 832.5L1079.0 827.9L1095.1 824.5L1108.9 823.3L1122.7 830.2L1131.9 841.7L1141.1 846.3L1152.6 837.1L1164.1 830.2L1177.9 837.1L1191.7 848.6L1205.5 862.4L1207.8 876.2L1206.7 892.4L1214.7 899.3L1219.3 913.1L1228.5 924.6L1233.1 936.1L1242.3 947.6L1256.1 956.8L1265.3 968.3L1274.5 970.6L1283.7 968.3L1292.8 944.1M1248.2 726.9L1233.1 752.0L1226.2 775.0L1226.2 798.0L1230.8 821.0L1242.3 844.0L1256.1 867.0L1269.9 890.1L1281.4 908.5L1286.0 924.6L1287.7 975.1M1219.3 995.9L1237.7 993.6L1251.5 989.0L1265.3 982.1L1274.5 977.5M1234.7 1039.4L1256.1 1036.2L1279.1 1035.0L1297.5 1037.7M1313.4 915.4L1322.6 910.8L1341.0 909.6L1324.9 920.0L1318.0 920.0L1313.4 915.4M1338.7 902.7L1350.2 901.6L1361.7 910.8L1366.3 917.7L1362.9 930.3L1359.4 926.9L1361.7 915.4L1352.5 906.2L1338.7 902.7M1344.5 959.1L1350.2 961.4L1358.3 970.6L1357.1 982.1L1350.2 984.4L1341.0 977.5L1343.3 966.0L1344.5 959.1M1354.8 984.4L1364.0 984.4L1368.6 998.2L1362.9 999.3L1354.8 984.4M1379.0 939.5L1389.3 943.0L1398.5 949.9L1399.7 963.7L1396.2 959.1L1393.9 947.6L1379.0 939.5M1411.2 959.1L1426.1 972.9L1421.5 975.2L1411.2 959.1M1429.6 989.0L1437.6 1000.5L1446.8 1008.5L1437.6 1003.9L1429.6 989.0M1410.0 992.4L1421.5 997.0M1448.0 969.4L1450.3 972.9M1463.0 1007.4L1476.8 1008.5L1474.5 1018.9L1467.6 1026.9L1476.8 1014.3M1497.5 1012.0L1509.0 1013.1M1532.0 1018.9L1543.5 1021.2M1523.9 1024.6L1528.5 1025.8M1292.5 1035.9L1308.8 1037.3L1321.0 1039.4M1342.6 477.5L1341.2 492.3L1333.8 517.0L1331.3 531.8L1328.8 544.2L1326.4 559.0L1322.7 573.8L1320.2 556.5L1315.3 544.2L1314.0 534.3L1316.5 523.2L1314.0 510.8L1314.0 497.3L1301.1 477.9M1323.9 581.2L1328.8 593.5L1336.2 603.4L1342.4 613.2L1344.9 621.9L1344.9 631.7L1338.7 635.4L1331.3 644.1L1326.4 655.2L1314.0 661.3L1301.7 668.7L1294.3 676.2L1294.3 683.6L1280.7 689.7L1273.2 702.1" fill="none" stroke="#000" stroke-width="1.55" stroke-linejoin="round"/>
<path d="M1294.3 507.1L1299.2 517.0L1304.2 526.9L1309.1 538.0L1312.8 546.6M1284.4 534.3L1294.3 540.4L1304.2 549.1L1311.6 559.0L1314.0 566.4M1291.8 549.1L1299.2 556.5L1309.1 568.8L1314.0 578.7M1290.6 572.5L1299.2 573.8L1309.1 578.7L1316.5 582.4L1323.9 581.2M1309.1 600.9L1316.5 603.4L1326.4 604.6L1321.4 609.5L1312.8 613.2L1311.6 605.8M1306.6 629.3L1314.0 628.0L1320.2 626.8L1326.4 629.3L1331.3 625.6M1314.0 633.0L1321.4 636.7L1319.0 631.7M1309.1 641.6L1316.5 645.3L1323.9 642.8L1328.8 641.6M1304.2 657.6L1306.6 661.3M351.8 165.8L354.9 179.6L351.8 194.9L344.1 210.3L338.0 216.4M347.2 179.6L350.3 191.9" fill="none" stroke="#000" stroke-width="2.2" stroke-linejoin="round" stroke-linecap="round"/>
<circle cx="352.4" cy="212.6" r="7.3" fill="#fff" stroke="#000" stroke-width="1.1"/>
<circle cx="919" cy="363.2" r="7.3" fill="#fff" stroke="#000" stroke-width="1.1"/>
<circle cx="1388.5" cy="385.2" r="7.3" fill="#fff" stroke="#000" stroke-width="1.1"/>
<circle cx="514" cy="462.2" r="7.3" fill="#fff" stroke="#000" stroke-width="1.1"/>
<circle cx="1040" cy="462.7" r="7.3" fill="#fff" stroke="#000" stroke-width="1.1"/>
<circle cx="1341" cy="449.7" r="7.3" fill="#fff" stroke="#000" stroke-width="1.1"/>
<circle cx="260" cy="521.2" r="7.3" fill="#fff" stroke="#000" stroke-width="1.1"/>
<circle cx="662.5" cy="527.2" r="7.3" fill="#fff" stroke="#000" stroke-width="1.1"/>
<circle cx="1287" cy="521.7" r="7.3" fill="#fff" stroke="#000" stroke-width="1.1"/>
<circle cx="327" cy="659.2" r="7.3" fill="#fff" stroke="#000" stroke-width="1.1"/>
<circle cx="469" cy="709.2" r="7.3" fill="#fff" stroke="#000" stroke-width="1.1"/>
<circle cx="1144.5" cy="713.7" r="7.3" fill="#fff" stroke="#000" stroke-width="1.1"/>
<circle cx="842.5" cy="764.2" r="7.3" fill="#fff" stroke="#000" stroke-width="1.1"/>
<circle cx="877" cy="858.2" r="7.3" fill="#fff" stroke="#000" stroke-width="1.1"/>
<circle cx="1282.5" cy="958.7" r="7.3" fill="#fff" stroke="#000" stroke-width="1.1"/>
<text class="city" x="367.5" y="210.0">Seattle</text>
<text class="city" x="920.5" y="350.0">Minneapolis</text>
<text class="city" x="1399.5" y="387.5">Boston</text>
<text class="city" x="529.5" y="456.0">Salt Lake City</text>
<text class="city" x="1034.5" y="451.0">Chicago</text>
<text class="city" x="1360.5" y="466.0">New York City</text>
<text class="city" x="272.5" y="517.0">San Francisco</text>
<text class="city" x="675.5" y="522.0">Denver</text>
<text class="city" x="1302.5" y="522.5">Washington D.C.</text>
<text class="city" x="339.5" y="650.0">Los Angeles</text>
<text class="city" x="471.5" y="696.0">Phoenix</text>
<text class="city" x="1164.5" y="717.0">Atlanta</text>
<text class="city" x="846.5" y="753.0">Dallas</text>
<text class="city" x="880.5" y="843.0">Houston</text>
<text class="city" x="1293.5" y="954.0">Miami</text>
</g>
<rect x="74.5" y="109.5" width="1627.0" height="930.0" fill="none" stroke="#000" stroke-width="1"/>
<rect x="11" y="11" width="1747" height="1762" fill="none" stroke="#000" stroke-width="2"/>
<text class="t" x="886" y="79.5" font-size="50" text-anchor="middle">Temperature Classification for Jan-Aug 2025</text>
<text class="a" x="73" y="1079" font-size="27.8">Source: ERA5 Reanalysis</text>
<text class="a" x="1686" y="1079" font-size="27.8" text-anchor="end">Map by: Brian Brettschneider</text>
<rect x="74.20" y="1220.3" width="232.87" height="80.4" fill="#2f78c4"/>
<rect x="306.57" y="1220.3" width="232.87" height="80.4" fill="#74afd3"/>
<rect x="538.94" y="1220.3" width="232.87" height="80.4" fill="#c6dfec"/>
<rect x="771.31" y="1220.3" width="232.87" height="80.4" fill="#ffffff"/>
<rect x="1003.69" y="1220.3" width="232.87" height="80.4" fill="#f9cdb8"/>
<rect x="1236.06" y="1220.3" width="232.87" height="80.4" fill="#e48872"/>
<rect x="1468.43" y="1220.3" width="232.87" height="80.4" fill="#c62a35"/>
<text class="lg" x="199.0" y="1268.5">Record</text>
<text class="lg" x="427.0" y="1268.5">Much Below</text>
<text class="lg" x="659.5" y="1268.5">Below</text>
<text class="lg" x="887.7" y="1268.5">Near Normal</text>
<text class="lg" x="1131.0" y="1268.5">Above</text>
<text class="lg" x="1352.7" y="1268.5">Much Above</text>
<text class="lg" x="1573.7" y="1268.5">Record</text>
<text class="a" x="887.5" y="1352.5" font-size="34.7" text-anchor="middle" xml:space="preserve">Compared to 1991-2020 Base Period   (Records Since 1940)</text>
<rect x="152.2" y="1442.8" width="1553.2" height="255.4000000000001" fill="#fff"/>
<path d="M169.40 1442.8V1698.2M205.11 1442.8V1698.2M240.83 1442.8V1698.2M276.54 1442.8V1698.2M312.26 1442.8V1698.2M347.97 1442.8V1698.2M383.68 1442.8V1698.2M419.40 1442.8V1698.2M455.11 1442.8V1698.2M490.83 1442.8V1698.2M526.54 1442.8V1698.2M562.25 1442.8V1698.2M597.97 1442.8V1698.2M633.68 1442.8V1698.2M669.40 1442.8V1698.2M705.11 1442.8V1698.2M740.82 1442.8V1698.2M776.54 1442.8V1698.2M812.25 1442.8V1698.2M847.97 1442.8V1698.2M883.68 1442.8V1698.2M919.39 1442.8V1698.2M955.11 1442.8V1698.2M990.82 1442.8V1698.2M1026.54 1442.8V1698.2M1062.25 1442.8V1698.2M1097.96 1442.8V1698.2M1133.68 1442.8V1698.2M1169.39 1442.8V1698.2M1205.11 1442.8V1698.2M1240.82 1442.8V1698.2M1276.53 1442.8V1698.2M1312.25 1442.8V1698.2M1347.96 1442.8V1698.2M1383.68 1442.8V1698.2M1419.39 1442.8V1698.2M1455.10 1442.8V1698.2M1490.82 1442.8V1698.2M1526.53 1442.8V1698.2M1562.25 1442.8V1698.2M1597.96 1442.8V1698.2M1633.67 1442.8V1698.2M1669.39 1442.8V1698.2M152.2 1673.20H1705.4M152.2 1616.23H1705.4M152.2 1559.26H1705.4M152.2 1502.29H1705.4M152.2 1445.32H1705.4" stroke="#adadad" stroke-width="1.15" fill="none"/>
<circle cx="169.4" cy="1686.3" r="6.6" fill="#808080"/>
<circle cx="187.3" cy="1662.9" r="6.6" fill="#808080"/>
<circle cx="205.1" cy="1675.5" r="6.6" fill="#808080"/>
<circle cx="223.0" cy="1625.9" r="6.6" fill="#808080"/>
<circle cx="240.8" cy="1628.8" r="6.6" fill="#808080"/>
<circle cx="258.7" cy="1641.3" r="6.6" fill="#808080"/>
<circle cx="276.5" cy="1607.1" r="6.6" fill="#808080"/>
<circle cx="294.4" cy="1674.3" r="6.6" fill="#808080"/>
<circle cx="312.3" cy="1629.3" r="6.6" fill="#808080"/>
<circle cx="330.1" cy="1614.0" r="6.6" fill="#808080"/>
<circle cx="348.0" cy="1637.3" r="6.6" fill="#808080"/>
<circle cx="365.8" cy="1619.6" r="6.6" fill="#808080"/>
<circle cx="383.7" cy="1580.9" r="6.6" fill="#808080"/>
<circle cx="401.5" cy="1563.2" r="6.6" fill="#808080"/>
<circle cx="419.4" cy="1564.4" r="6.6" fill="#808080"/>
<circle cx="437.3" cy="1606.5" r="6.6" fill="#808080"/>
<circle cx="455.1" cy="1602.0" r="6.6" fill="#808080"/>
<circle cx="473.0" cy="1598.0" r="6.6" fill="#808080"/>
<circle cx="490.8" cy="1609.4" r="6.6" fill="#808080"/>
<circle cx="508.7" cy="1593.4" r="6.6" fill="#808080"/>
<circle cx="526.5" cy="1627.6" r="6.6" fill="#808080"/>
<circle cx="544.4" cy="1591.2" r="6.6" fill="#808080"/>
<circle cx="562.3" cy="1620.2" r="6.6" fill="#808080"/>
<circle cx="580.1" cy="1607.1" r="6.6" fill="#808080"/>
<circle cx="598.0" cy="1609.4" r="6.6" fill="#808080"/>
<circle cx="615.8" cy="1633.9" r="6.6" fill="#808080"/>
<circle cx="633.7" cy="1623.6" r="6.6" fill="#808080"/>
<circle cx="651.5" cy="1606.0" r="6.6" fill="#808080"/>
<circle cx="669.4" cy="1619.1" r="6.6" fill="#808080"/>
<circle cx="687.3" cy="1615.1" r="6.6" fill="#808080"/>
<circle cx="705.1" cy="1608.8" r="6.6" fill="#808080"/>
<circle cx="723.0" cy="1620.2" r="6.6" fill="#808080"/>
<circle cx="740.8" cy="1598.0" r="6.6" fill="#808080"/>
<circle cx="758.7" cy="1599.7" r="6.6" fill="#808080"/>
<circle cx="776.5" cy="1579.2" r="6.6" fill="#808080"/>
<circle cx="794.4" cy="1624.8" r="6.6" fill="#808080"/>
<circle cx="812.3" cy="1584.3" r="6.6" fill="#808080"/>
<circle cx="830.1" cy="1580.3" r="6.6" fill="#808080"/>
<circle cx="848.0" cy="1636.2" r="6.6" fill="#808080"/>
<circle cx="865.8" cy="1660.7" r="6.6" fill="#808080"/>
<circle cx="883.7" cy="1586.6" r="6.6" fill="#808080"/>
<circle cx="901.5" cy="1551.3" r="6.6" fill="#808080"/>
<circle cx="919.4" cy="1630.5" r="6.6" fill="#808080"/>
<circle cx="937.3" cy="1585.5" r="6.6" fill="#808080"/>
<circle cx="955.1" cy="1594.0" r="6.6" fill="#808080"/>
<circle cx="973.0" cy="1597.4" r="6.6" fill="#808080"/>
<circle cx="990.8" cy="1537.0" r="6.6" fill="#808080"/>
<circle cx="1008.7" cy="1549.0" r="6.6" fill="#808080"/>
<circle cx="1026.5" cy="1571.2" r="6.6" fill="#808080"/>
<circle cx="1044.4" cy="1586.0" r="6.6" fill="#808080"/>
<circle cx="1062.2" cy="1537.9" r="6.6" fill="#808080"/>
<circle cx="1080.1" cy="1548.4" r="6.6" fill="#808080"/>
<circle cx="1098.0" cy="1561.0" r="6.6" fill="#808080"/>
<circle cx="1115.8" cy="1618.5" r="6.6" fill="#808080"/>
<circle cx="1133.7" cy="1568.4" r="6.6" fill="#808080"/>
<circle cx="1151.5" cy="1568.4" r="6.6" fill="#808080"/>
<circle cx="1169.4" cy="1595.7" r="6.6" fill="#808080"/>
<circle cx="1187.2" cy="1604.3" r="6.6" fill="#808080"/>
<circle cx="1205.1" cy="1547.9" r="6.6" fill="#808080"/>
<circle cx="1223.0" cy="1555.8" r="6.6" fill="#808080"/>
<circle cx="1240.8" cy="1517.7" r="6.6" fill="#808080"/>
<circle cx="1258.7" cy="1566.4" r="6.6" fill="#808080"/>
<circle cx="1276.5" cy="1552.4" r="6.6" fill="#808080"/>
<circle cx="1294.4" cy="1565.0" r="6.6" fill="#808080"/>
<circle cx="1312.2" cy="1574.1" r="6.6" fill="#808080"/>
<circle cx="1330.1" cy="1543.9" r="6.6" fill="#808080"/>
<circle cx="1348.0" cy="1495.2" r="6.6" fill="#808080"/>
<circle cx="1365.8" cy="1537.9" r="6.6" fill="#808080"/>
<circle cx="1383.7" cy="1578.6" r="6.6" fill="#808080"/>
<circle cx="1401.5" cy="1568.9" r="6.6" fill="#808080"/>
<circle cx="1419.4" cy="1561.0" r="6.6" fill="#808080"/>
<circle cx="1437.2" cy="1559.3" r="6.6" fill="#808080"/>
<circle cx="1455.1" cy="1453.9" r="6.6" fill="#808080"/>
<circle cx="1473.0" cy="1566.7" r="6.6" fill="#808080"/>
<circle cx="1490.8" cy="1590.0" r="6.6" fill="#808080"/>
<circle cx="1508.7" cy="1535.9" r="6.6" fill="#808080"/>
<circle cx="1526.5" cy="1495.5" r="6.6" fill="#808080"/>
<circle cx="1544.4" cy="1494.9" r="6.6" fill="#808080"/>
<circle cx="1562.2" cy="1523.4" r="6.6" fill="#808080"/>
<circle cx="1580.1" cy="1568.9" r="6.6" fill="#808080"/>
<circle cx="1598.0" cy="1502.3" r="6.6" fill="#808080"/>
<circle cx="1615.8" cy="1525.6" r="6.6" fill="#808080"/>
<circle cx="1633.7" cy="1533.1" r="6.6" fill="#808080"/>
<circle cx="1651.5" cy="1524.5" r="6.6" fill="#808080"/>
<circle cx="1669.4" cy="1497.2" r="6.6" fill="#808080"/>
<circle cx="1687.2" cy="1524.5" r="10.3" fill="#ff0000"/>
<path d="M169.4 1643.0L1687.2 1521.7" stroke="#000" stroke-width="1.4" stroke-dasharray="5.2 2.2" fill="none"/>
<polyline points="169.4,1686.3 187.3,1662.9 205.1,1675.5 223.0,1625.9 240.8,1628.8 258.7,1641.3 276.5,1607.1 294.4,1674.3 312.3,1629.3 330.1,1614.0 348.0,1637.3 365.8,1619.6 383.7,1580.9 401.5,1563.2 419.4,1564.4 437.3,1606.5 455.1,1602.0 473.0,1598.0 490.8,1609.4 508.7,1593.4 526.5,1627.6 544.4,1591.2 562.3,1620.2 580.1,1607.1 598.0,1609.4 615.8,1633.9 633.7,1623.6 651.5,1606.0 669.4,1619.1 687.3,1615.1 705.1,1608.8 723.0,1620.2 740.8,1598.0 758.7,1599.7 776.5,1579.2 794.4,1624.8 812.3,1584.3 830.1,1580.3 848.0,1636.2 865.8,1660.7 883.7,1586.6 901.5,1551.3 919.4,1630.5 937.3,1585.5 955.1,1594.0 973.0,1597.4 990.8,1537.0 1008.7,1549.0 1026.5,1571.2 1044.4,1586.0 1062.2,1537.9 1080.1,1548.4 1098.0,1561.0 1115.8,1618.5 1133.7,1568.4 1151.5,1568.4 1169.4,1595.7 1187.2,1604.3 1205.1,1547.9 1223.0,1555.8 1240.8,1517.7 1258.7,1566.4 1276.5,1552.4 1294.4,1565.0 1312.2,1574.1 1330.1,1543.9 1348.0,1495.2 1365.8,1537.9 1383.7,1578.6 1401.5,1568.9 1419.4,1561.0 1437.2,1559.3 1455.1,1453.9 1473.0,1566.7 1490.8,1590.0 1508.7,1535.9 1526.5,1495.5 1544.4,1494.9 1562.2,1523.4 1580.1,1568.9 1598.0,1502.3 1615.8,1525.6 1633.7,1533.1 1651.5,1524.5 1669.4,1497.2 1687.2,1524.5" stroke="#000" stroke-width="2.8" fill="none" stroke-linejoin="round"/>
<rect x="152.2" y="1442.8" width="1553.2" height="255.4000000000001" fill="none" stroke="#000" stroke-width="1.1"/>
<path d="M169.40 1698.2v5M205.11 1698.2v5M240.83 1698.2v5M276.54 1698.2v5M312.26 1698.2v5M347.97 1698.2v5M383.68 1698.2v5M419.40 1698.2v5M455.11 1698.2v5M490.83 1698.2v5M526.54 1698.2v5M562.25 1698.2v5M597.97 1698.2v5M633.68 1698.2v5M669.40 1698.2v5M705.11 1698.2v5M740.82 1698.2v5M776.54 1698.2v5M812.25 1698.2v5M847.97 1698.2v5M883.68 1698.2v5M919.39 1698.2v5M955.11 1698.2v5M990.82 1698.2v5M1026.54 1698.2v5M1062.25 1698.2v5M1097.96 1698.2v5M1133.68 1698.2v5M1169.39 1698.2v5M1205.11 1698.2v5M1240.82 1698.2v5M1276.53 1698.2v5M1312.25 1698.2v5M1347.96 1698.2v5M1383.68 1698.2v5M1419.39 1698.2v5M1455.10 1698.2v5M1490.82 1698.2v5M1526.53 1698.2v5M1562.25 1698.2v5M1597.96 1698.2v5M1633.67 1698.2v5M1669.39 1698.2v5M152.2 1673.20h-5M152.2 1616.23h-5M152.2 1559.26h-5M152.2 1502.29h-5M152.2 1445.32h-5" stroke="#000" stroke-width="1.1" fill="none"/>
<text class="d" x="141.3" y="1680.6" font-size="20" text-anchor="end">11</text>
<text class="d" x="141.3" y="1623.6" font-size="20" text-anchor="end">12</text>
<text class="d" x="141.3" y="1566.7" font-size="20" text-anchor="end">13</text>
<text class="d" x="141.3" y="1509.7" font-size="20" text-anchor="end">14</text>
<text class="d" x="141.3" y="1452.7" font-size="20" text-anchor="end">15</text>
<text class="d" font-size="20.1" text-anchor="end" transform="translate(175.0 1710.8) rotate(-90)">1940</text>
<text class="d" font-size="20.1" text-anchor="end" transform="translate(210.7 1710.8) rotate(-90)">1942</text>
<text class="d" font-size="20.1" text-anchor="end" transform="translate(246.4 1710.8) rotate(-90)">1944</text>
<text class="d" font-size="20.1" text-anchor="end" transform="translate(282.1 1710.8) rotate(-90)">1946</text>
<text class="d" font-size="20.1" text-anchor="end" transform="translate(317.9 1710.8) rotate(-90)">1948</text>
<text class="d" font-size="20.1" text-anchor="end" transform="translate(353.6 1710.8) rotate(-90)">1950</text>
<text class="d" font-size="20.1" text-anchor="end" transform="translate(389.3 1710.8) rotate(-90)">1952</text>
<text class="d" font-size="20.1" text-anchor="end" transform="translate(425.0 1710.8) rotate(-90)">1954</text>
<text class="d" font-size="20.1" text-anchor="end" transform="translate(460.7 1710.8) rotate(-90)">1956</text>
<text class="d" font-size="20.1" text-anchor="end" transform="translate(496.4 1710.8) rotate(-90)">1958</text>
<text class="d" font-size="20.1" text-anchor="end" transform="translate(532.1 1710.8) rotate(-90)">1960</text>
<text class="d" font-size="20.1" text-anchor="end" transform="translate(567.9 1710.8) rotate(-90)">1962</text>
<text class="d" font-size="20.1" text-anchor="end" transform="translate(603.6 1710.8) rotate(-90)">1964</text>
<text class="d" font-size="20.1" text-anchor="end" transform="translate(639.3 1710.8) rotate(-90)">1966</text>
<text class="d" font-size="20.1" text-anchor="end" transform="translate(675.0 1710.8) rotate(-90)">1968</text>
<text class="d" font-size="20.1" text-anchor="end" transform="translate(710.7 1710.8) rotate(-90)">1970</text>
<text class="d" font-size="20.1" text-anchor="end" transform="translate(746.4 1710.8) rotate(-90)">1972</text>
<text class="d" font-size="20.1" text-anchor="end" transform="translate(782.1 1710.8) rotate(-90)">1974</text>
<text class="d" font-size="20.1" text-anchor="end" transform="translate(817.9 1710.8) rotate(-90)">1976</text>
<text class="d" font-size="20.1" text-anchor="end" transform="translate(853.6 1710.8) rotate(-90)">1978</text>
<text class="d" font-size="20.1" text-anchor="end" transform="translate(889.3 1710.8) rotate(-90)">1980</text>
<text class="d" font-size="20.1" text-anchor="end" transform="translate(925.0 1710.8) rotate(-90)">1982</text>
<text class="d" font-size="20.1" text-anchor="end" transform="translate(960.7 1710.8) rotate(-90)">1984</text>
<text class="d" font-size="20.1" text-anchor="end" transform="translate(996.4 1710.8) rotate(-90)">1986</text>
<text class="d" font-size="20.1" text-anchor="end" transform="translate(1032.1 1710.8) rotate(-90)">1988</text>
<text class="d" font-size="20.1" text-anchor="end" transform="translate(1067.8 1710.8) rotate(-90)">1990</text>
<text class="d" font-size="20.1" text-anchor="end" transform="translate(1103.6 1710.8) rotate(-90)">1992</text>
<text class="d" font-size="20.1" text-anchor="end" transform="translate(1139.3 1710.8) rotate(-90)">1994</text>
<text class="d" font-size="20.1" text-anchor="end" transform="translate(1175.0 1710.8) rotate(-90)">1996</text>
<text class="d" font-size="20.1" text-anchor="end" transform="translate(1210.7 1710.8) rotate(-90)">1998</text>
<text class="d" font-size="20.1" text-anchor="end" transform="translate(1246.4 1710.8) rotate(-90)">2000</text>
<text class="d" font-size="20.1" text-anchor="end" transform="translate(1282.1 1710.8) rotate(-90)">2002</text>
<text class="d" font-size="20.1" text-anchor="end" transform="translate(1317.8 1710.8) rotate(-90)">2004</text>
<text class="d" font-size="20.1" text-anchor="end" transform="translate(1353.6 1710.8) rotate(-90)">2006</text>
<text class="d" font-size="20.1" text-anchor="end" transform="translate(1389.3 1710.8) rotate(-90)">2008</text>
<text class="d" font-size="20.1" text-anchor="end" transform="translate(1425.0 1710.8) rotate(-90)">2010</text>
<text class="d" font-size="20.1" text-anchor="end" transform="translate(1460.7 1710.8) rotate(-90)">2012</text>
<text class="d" font-size="20.1" text-anchor="end" transform="translate(1496.4 1710.8) rotate(-90)">2014</text>
<text class="d" font-size="20.1" text-anchor="end" transform="translate(1532.1 1710.8) rotate(-90)">2016</text>
<text class="d" font-size="20.1" text-anchor="end" transform="translate(1567.8 1710.8) rotate(-90)">2018</text>
<text class="d" font-size="20.1" text-anchor="end" transform="translate(1603.6 1710.8) rotate(-90)">2020</text>
<text class="d" font-size="20.1" text-anchor="end" transform="translate(1639.3 1710.8) rotate(-90)">2022</text>
<text class="d" font-size="20.1" text-anchor="end" transform="translate(1675.0 1710.8) rotate(-90)">2024</text>
<text class="a" font-size="30.56" font-weight="bold" text-anchor="middle" transform="translate(103.5 1570.5) rotate(-90)">Degrees C</text>
</svg></body></html>
